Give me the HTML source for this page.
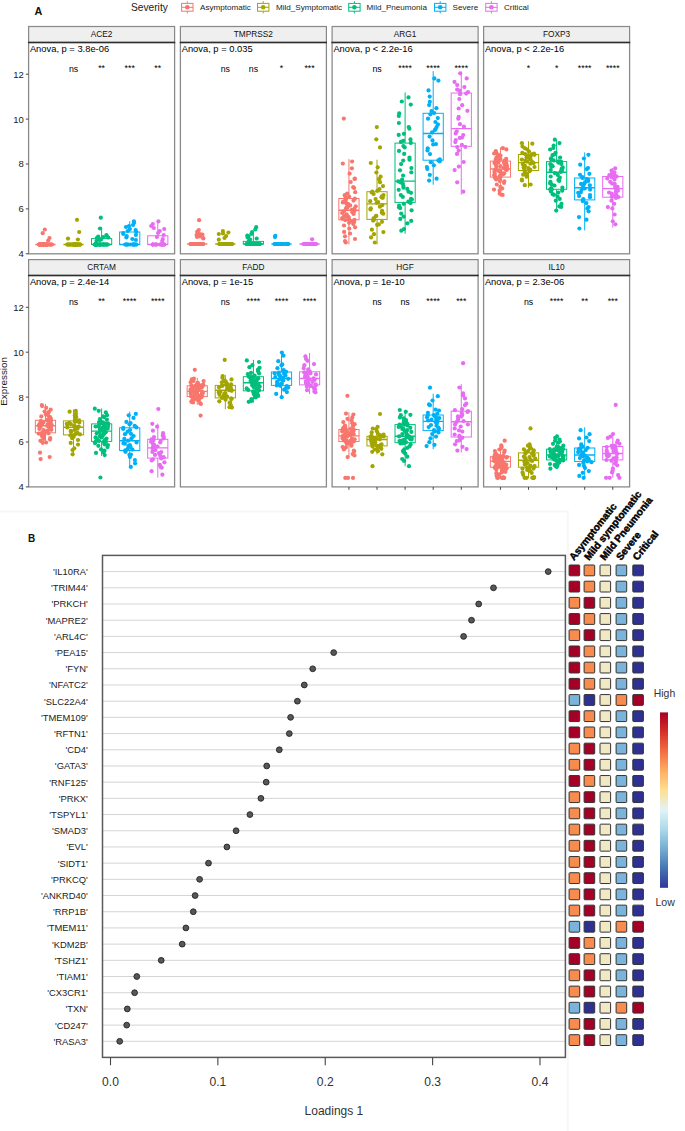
<!DOCTYPE html><html><head><meta charset="utf-8"><style>html,body{margin:0;padding:0;background:#fff;}body{width:685px;height:1131px;position:relative;overflow:hidden;font-family:'Liberation Sans', sans-serif;}</style></head><body><svg width="685" height="1131" viewBox="0 0 685 1131" style="position:absolute;left:0;top:0">
<path d="M0 511.5 H567.8 V1131" fill="none" stroke="#f7f7f7" stroke-width="2"/>
<text x="34.6" y="14.7" style="font-family:'Liberation Sans', sans-serif;font-weight:bold;font-size:10.8px" fill="#111">A</text>
<text x="131" y="11.4" style="font-family:'Liberation Sans', sans-serif;font-size:10.2px" fill="#1a1a1a">Severity</text>
<g stroke="#F8766D" stroke-width="1" fill="none"><line x1="187.29999999999998" y1="1.2" x2="187.29999999999998" y2="13.4"/><rect x="181.6" y="3.4" width="11.4" height="7.8" fill="#fff"/><line x1="181.6" y1="7.3" x2="193.0" y2="7.3"/></g><circle cx="187.29999999999998" cy="7.3" r="2.3" fill="#F8766D"/>
<text x="200.1" y="10.3" style="font-family:'Liberation Sans', sans-serif;font-size:8.1px" fill="#1a1a1a">Asymptomatic</text>
<g stroke="#A3A500" stroke-width="1" fill="none"><line x1="263.2" y1="1.2" x2="263.2" y2="13.4"/><rect x="257.5" y="3.4" width="11.4" height="7.8" fill="#fff"/><line x1="257.5" y1="7.3" x2="268.9" y2="7.3"/></g><circle cx="263.2" cy="7.3" r="2.3" fill="#A3A500"/>
<text x="275.9" y="10.3" style="font-family:'Liberation Sans', sans-serif;font-size:8.1px" fill="#1a1a1a">Mild_Symptomatic</text>
<g stroke="#00BF7D" stroke-width="1" fill="none"><line x1="354.4" y1="1.2" x2="354.4" y2="13.4"/><rect x="348.7" y="3.4" width="11.4" height="7.8" fill="#fff"/><line x1="348.7" y1="7.3" x2="360.09999999999997" y2="7.3"/></g><circle cx="354.4" cy="7.3" r="2.3" fill="#00BF7D"/>
<text x="366.6" y="10.3" style="font-family:'Liberation Sans', sans-serif;font-size:8.1px" fill="#1a1a1a">Mild_Pneumonia</text>
<g stroke="#00B0F6" stroke-width="1" fill="none"><line x1="440.2" y1="1.2" x2="440.2" y2="13.4"/><rect x="434.5" y="3.4" width="11.4" height="7.8" fill="#fff"/><line x1="434.5" y1="7.3" x2="445.9" y2="7.3"/></g><circle cx="440.2" cy="7.3" r="2.3" fill="#00B0F6"/>
<text x="452.6" y="10.3" style="font-family:'Liberation Sans', sans-serif;font-size:8.1px" fill="#1a1a1a">Severe</text>
<g stroke="#E76BF3" stroke-width="1" fill="none"><line x1="491.4" y1="1.2" x2="491.4" y2="13.4"/><rect x="485.7" y="3.4" width="11.4" height="7.8" fill="#fff"/><line x1="485.7" y1="7.3" x2="497.09999999999997" y2="7.3"/></g><circle cx="491.4" cy="7.3" r="2.3" fill="#E76BF3"/>
<text x="504.0" y="10.3" style="font-family:'Liberation Sans', sans-serif;font-size:8.1px" fill="#1a1a1a">Critical</text>
<rect x="28.6" y="26.5" width="146.0" height="16.0" fill="#efefef" stroke="#888" stroke-width="1.2"/>
<text x="101.6" y="37.1" text-anchor="middle" style="font-family:'Liberation Sans', sans-serif;font-size:8.3px" fill="#111">ACE2</text>
<rect x="28.6" y="42.5" width="146.0" height="211.3" fill="#fff"/>
<clipPath id="c00"><rect x="28.6" y="42.5" width="146.0" height="211.3"/></clipPath>
<g clip-path="url(#c00)">
<line x1="35.35" y1="244.50" x2="55.55" y2="244.50" stroke="#F8766D" stroke-width="1.6"/>
<circle cx="43.1" cy="244.5" r="2.1" fill="#F8766D"/>
<circle cx="40.7" cy="244.5" r="2.1" fill="#F8766D"/>
<circle cx="47.5" cy="244.5" r="2.1" fill="#F8766D"/>
<circle cx="39.6" cy="244.5" r="2.1" fill="#F8766D"/>
<circle cx="45.9" cy="244.5" r="2.1" fill="#F8766D"/>
<circle cx="43.6" cy="244.5" r="2.1" fill="#F8766D"/>
<circle cx="39.4" cy="244.5" r="2.1" fill="#F8766D"/>
<circle cx="45.6" cy="244.5" r="2.1" fill="#F8766D"/>
<circle cx="39.2" cy="244.5" r="2.1" fill="#F8766D"/>
<circle cx="44.5" cy="244.5" r="2.1" fill="#F8766D"/>
<circle cx="39.6" cy="244.5" r="2.1" fill="#F8766D"/>
<circle cx="39.9" cy="244.5" r="2.1" fill="#F8766D"/>
<circle cx="44.4" cy="244.5" r="2.1" fill="#F8766D"/>
<circle cx="49.9" cy="244.5" r="2.1" fill="#F8766D"/>
<circle cx="40.3" cy="244.5" r="2.1" fill="#F8766D"/>
<circle cx="41.7" cy="244.5" r="2.1" fill="#F8766D"/>
<circle cx="47.2" cy="244.5" r="2.1" fill="#F8766D"/>
<circle cx="51.5" cy="244.5" r="2.1" fill="#F8766D"/>
<circle cx="46.5" cy="244.5" r="2.1" fill="#F8766D"/>
<circle cx="44.0" cy="244.5" r="2.1" fill="#F8766D"/>
<circle cx="51.9" cy="244.5" r="2.1" fill="#F8766D"/>
<circle cx="39.3" cy="244.5" r="2.1" fill="#F8766D"/>
<circle cx="50.3" cy="244.5" r="2.1" fill="#F8766D"/>
<circle cx="42.6" cy="244.5" r="2.1" fill="#F8766D"/>
<circle cx="40.6" cy="244.5" r="2.1" fill="#F8766D"/>
<circle cx="40.3" cy="244.5" r="2.1" fill="#F8766D"/>
<circle cx="42.8" cy="244.5" r="2.1" fill="#F8766D"/>
<circle cx="49.7" cy="244.5" r="2.1" fill="#F8766D"/>
<circle cx="41.1" cy="244.5" r="2.1" fill="#F8766D"/>
<circle cx="46.6" cy="244.5" r="2.1" fill="#F8766D"/>
<circle cx="47.3" cy="244.5" r="2.1" fill="#F8766D"/>
<circle cx="43.7" cy="244.5" r="2.1" fill="#F8766D"/>
<circle cx="46.1" cy="244.5" r="2.1" fill="#F8766D"/>
<circle cx="39.5" cy="244.5" r="2.1" fill="#F8766D"/>
<circle cx="39.5" cy="244.5" r="2.1" fill="#F8766D"/>
<circle cx="41.5" cy="244.5" r="2.1" fill="#F8766D"/>
<circle cx="47.9" cy="244.5" r="2.1" fill="#F8766D"/>
<circle cx="44.5" cy="244.5" r="2.1" fill="#F8766D"/>
<circle cx="42.9" cy="244.5" r="2.1" fill="#F8766D"/>
<circle cx="46.6" cy="244.5" r="2.1" fill="#F8766D"/>
<circle cx="44.8" cy="229.5" r="2.1" fill="#F8766D"/>
<circle cx="42.7" cy="233.2" r="2.1" fill="#F8766D"/>
<circle cx="49.5" cy="238.0" r="2.1" fill="#F8766D"/>
<circle cx="48.2" cy="240.5" r="2.1" fill="#F8766D"/>
<line x1="63.43" y1="244.50" x2="83.63" y2="244.50" stroke="#A3A500" stroke-width="1.6"/>
<circle cx="70.0" cy="244.5" r="2.1" fill="#A3A500"/>
<circle cx="74.5" cy="244.5" r="2.1" fill="#A3A500"/>
<circle cx="73.9" cy="244.5" r="2.1" fill="#A3A500"/>
<circle cx="78.6" cy="244.5" r="2.1" fill="#A3A500"/>
<circle cx="76.7" cy="244.5" r="2.1" fill="#A3A500"/>
<circle cx="70.6" cy="244.5" r="2.1" fill="#A3A500"/>
<circle cx="80.1" cy="244.5" r="2.1" fill="#A3A500"/>
<circle cx="68.3" cy="244.5" r="2.1" fill="#A3A500"/>
<circle cx="72.4" cy="244.5" r="2.1" fill="#A3A500"/>
<circle cx="77.0" cy="244.5" r="2.1" fill="#A3A500"/>
<circle cx="68.8" cy="244.5" r="2.1" fill="#A3A500"/>
<circle cx="73.4" cy="244.5" r="2.1" fill="#A3A500"/>
<circle cx="67.3" cy="244.5" r="2.1" fill="#A3A500"/>
<circle cx="75.8" cy="244.5" r="2.1" fill="#A3A500"/>
<circle cx="77.1" cy="244.5" r="2.1" fill="#A3A500"/>
<circle cx="74.5" cy="244.5" r="2.1" fill="#A3A500"/>
<circle cx="78.6" cy="244.5" r="2.1" fill="#A3A500"/>
<circle cx="71.0" cy="244.5" r="2.1" fill="#A3A500"/>
<circle cx="76.2" cy="244.5" r="2.1" fill="#A3A500"/>
<circle cx="74.8" cy="244.5" r="2.1" fill="#A3A500"/>
<circle cx="74.6" cy="244.5" r="2.1" fill="#A3A500"/>
<circle cx="72.9" cy="244.5" r="2.1" fill="#A3A500"/>
<circle cx="78.2" cy="244.5" r="2.1" fill="#A3A500"/>
<circle cx="79.6" cy="244.5" r="2.1" fill="#A3A500"/>
<circle cx="73.2" cy="244.5" r="2.1" fill="#A3A500"/>
<circle cx="75.8" cy="244.5" r="2.1" fill="#A3A500"/>
<circle cx="67.6" cy="244.5" r="2.1" fill="#A3A500"/>
<circle cx="76.3" cy="244.5" r="2.1" fill="#A3A500"/>
<circle cx="75.5" cy="244.5" r="2.1" fill="#A3A500"/>
<circle cx="80.2" cy="244.5" r="2.1" fill="#A3A500"/>
<circle cx="68.0" cy="238.6" r="2.1" fill="#A3A500"/>
<circle cx="79.2" cy="232.0" r="2.1" fill="#A3A500"/>
<circle cx="77.0" cy="219.8" r="2.1" fill="#A3A500"/>
<circle cx="77.9" cy="239.5" r="2.1" fill="#A3A500"/>
<line x1="101.61" y1="227.00" x2="101.61" y2="238.60" stroke="#00BF7D" stroke-width="1"/>
<line x1="101.61" y1="244.50" x2="101.61" y2="244.50" stroke="#00BF7D" stroke-width="1"/>
<rect x="91.51" y="238.60" width="20.20" height="5.90" fill="#fff" stroke="#00BF7D" stroke-width="1"/>
<line x1="91.51" y1="244.50" x2="111.71" y2="244.50" stroke="#00BF7D" stroke-width="1.4"/>
<circle cx="98.4" cy="244.5" r="2.1" fill="#00BF7D"/>
<circle cx="94.9" cy="244.5" r="2.1" fill="#00BF7D"/>
<circle cx="100.5" cy="244.5" r="2.1" fill="#00BF7D"/>
<circle cx="99.8" cy="244.5" r="2.1" fill="#00BF7D"/>
<circle cx="102.5" cy="244.5" r="2.1" fill="#00BF7D"/>
<circle cx="107.8" cy="244.5" r="2.1" fill="#00BF7D"/>
<circle cx="104.2" cy="244.5" r="2.1" fill="#00BF7D"/>
<circle cx="101.8" cy="244.5" r="2.1" fill="#00BF7D"/>
<circle cx="103.2" cy="244.5" r="2.1" fill="#00BF7D"/>
<circle cx="104.0" cy="244.5" r="2.1" fill="#00BF7D"/>
<circle cx="95.5" cy="244.5" r="2.1" fill="#00BF7D"/>
<circle cx="107.0" cy="244.5" r="2.1" fill="#00BF7D"/>
<circle cx="105.4" cy="244.5" r="2.1" fill="#00BF7D"/>
<circle cx="106.7" cy="244.5" r="2.1" fill="#00BF7D"/>
<circle cx="105.7" cy="244.5" r="2.1" fill="#00BF7D"/>
<circle cx="100.1" cy="244.5" r="2.1" fill="#00BF7D"/>
<circle cx="100.2" cy="244.5" r="2.1" fill="#00BF7D"/>
<circle cx="96.2" cy="244.5" r="2.1" fill="#00BF7D"/>
<circle cx="103.4" cy="244.5" r="2.1" fill="#00BF7D"/>
<circle cx="95.7" cy="244.5" r="2.1" fill="#00BF7D"/>
<circle cx="95.7" cy="244.5" r="2.1" fill="#00BF7D"/>
<circle cx="97.6" cy="244.5" r="2.1" fill="#00BF7D"/>
<circle cx="97.0" cy="244.5" r="2.1" fill="#00BF7D"/>
<circle cx="99.4" cy="244.5" r="2.1" fill="#00BF7D"/>
<circle cx="95.5" cy="244.5" r="2.1" fill="#00BF7D"/>
<circle cx="94.8" cy="244.5" r="2.1" fill="#00BF7D"/>
<circle cx="96.9" cy="244.5" r="2.1" fill="#00BF7D"/>
<circle cx="96.2" cy="244.5" r="2.1" fill="#00BF7D"/>
<circle cx="99.8" cy="244.5" r="2.1" fill="#00BF7D"/>
<circle cx="95.2" cy="244.5" r="2.1" fill="#00BF7D"/>
<circle cx="100.8" cy="217.7" r="2.1" fill="#00BF7D"/>
<circle cx="100.0" cy="228.5" r="2.1" fill="#00BF7D"/>
<circle cx="106.7" cy="236.0" r="2.1" fill="#00BF7D"/>
<circle cx="103.2" cy="237.0" r="2.1" fill="#00BF7D"/>
<circle cx="96.8" cy="238.0" r="2.1" fill="#00BF7D"/>
<circle cx="98.2" cy="236.5" r="2.1" fill="#00BF7D"/>
<circle cx="99.5" cy="239.0" r="2.1" fill="#00BF7D"/>
<circle cx="99.8" cy="240.0" r="2.1" fill="#00BF7D"/>
<circle cx="96.5" cy="241.0" r="2.1" fill="#00BF7D"/>
<circle cx="106.4" cy="235.0" r="2.1" fill="#00BF7D"/>
<circle cx="108.3" cy="237.5" r="2.1" fill="#00BF7D"/>
<circle cx="101.1" cy="239.5" r="2.1" fill="#00BF7D"/>
<line x1="129.69" y1="221.30" x2="129.69" y2="232.00" stroke="#00B0F6" stroke-width="1"/>
<line x1="129.69" y1="244.50" x2="129.69" y2="244.50" stroke="#00B0F6" stroke-width="1"/>
<rect x="119.59" y="232.00" width="20.20" height="12.50" fill="#fff" stroke="#00B0F6" stroke-width="1"/>
<line x1="119.59" y1="244.50" x2="139.79" y2="244.50" stroke="#00B0F6" stroke-width="1.4"/>
<circle cx="136.2" cy="244.5" r="2.1" fill="#00B0F6"/>
<circle cx="134.6" cy="244.5" r="2.1" fill="#00B0F6"/>
<circle cx="132.4" cy="244.5" r="2.1" fill="#00B0F6"/>
<circle cx="126.4" cy="244.5" r="2.1" fill="#00B0F6"/>
<circle cx="127.9" cy="244.5" r="2.1" fill="#00B0F6"/>
<circle cx="125.2" cy="244.5" r="2.1" fill="#00B0F6"/>
<circle cx="133.4" cy="244.5" r="2.1" fill="#00B0F6"/>
<circle cx="130.1" cy="244.5" r="2.1" fill="#00B0F6"/>
<circle cx="133.5" cy="244.5" r="2.1" fill="#00B0F6"/>
<circle cx="127.4" cy="244.5" r="2.1" fill="#00B0F6"/>
<circle cx="125.9" cy="244.5" r="2.1" fill="#00B0F6"/>
<circle cx="133.9" cy="244.5" r="2.1" fill="#00B0F6"/>
<circle cx="136.3" cy="244.5" r="2.1" fill="#00B0F6"/>
<circle cx="134.5" cy="244.5" r="2.1" fill="#00B0F6"/>
<circle cx="133.9" cy="221.3" r="2.1" fill="#00B0F6"/>
<circle cx="134.0" cy="223.0" r="2.1" fill="#00B0F6"/>
<circle cx="133.0" cy="225.0" r="2.1" fill="#00B0F6"/>
<circle cx="126.0" cy="227.0" r="2.1" fill="#00B0F6"/>
<circle cx="129.9" cy="229.0" r="2.1" fill="#00B0F6"/>
<circle cx="127.7" cy="231.0" r="2.1" fill="#00B0F6"/>
<circle cx="123.3" cy="233.0" r="2.1" fill="#00B0F6"/>
<circle cx="123.3" cy="234.0" r="2.1" fill="#00B0F6"/>
<circle cx="126.7" cy="236.0" r="2.1" fill="#00B0F6"/>
<circle cx="126.4" cy="237.5" r="2.1" fill="#00B0F6"/>
<circle cx="132.3" cy="239.0" r="2.1" fill="#00B0F6"/>
<circle cx="135.9" cy="240.0" r="2.1" fill="#00B0F6"/>
<circle cx="129.0" cy="226.0" r="2.1" fill="#00B0F6"/>
<circle cx="135.6" cy="230.0" r="2.1" fill="#00B0F6"/>
<circle cx="136.3" cy="232.0" r="2.1" fill="#00B0F6"/>
<circle cx="135.9" cy="235.0" r="2.1" fill="#00B0F6"/>
<line x1="157.77" y1="221.30" x2="157.77" y2="235.80" stroke="#E76BF3" stroke-width="1"/>
<line x1="157.77" y1="244.50" x2="157.77" y2="244.50" stroke="#E76BF3" stroke-width="1"/>
<rect x="147.67" y="235.80" width="20.20" height="8.70" fill="#fff" stroke="#E76BF3" stroke-width="1"/>
<line x1="147.67" y1="244.50" x2="167.87" y2="244.50" stroke="#E76BF3" stroke-width="1.4"/>
<circle cx="161.7" cy="244.5" r="2.1" fill="#E76BF3"/>
<circle cx="155.5" cy="244.5" r="2.1" fill="#E76BF3"/>
<circle cx="161.9" cy="244.5" r="2.1" fill="#E76BF3"/>
<circle cx="164.2" cy="244.5" r="2.1" fill="#E76BF3"/>
<circle cx="156.4" cy="244.5" r="2.1" fill="#E76BF3"/>
<circle cx="156.4" cy="244.5" r="2.1" fill="#E76BF3"/>
<circle cx="163.8" cy="244.5" r="2.1" fill="#E76BF3"/>
<circle cx="160.8" cy="244.5" r="2.1" fill="#E76BF3"/>
<circle cx="153.3" cy="244.5" r="2.1" fill="#E76BF3"/>
<circle cx="152.7" cy="244.5" r="2.1" fill="#E76BF3"/>
<circle cx="153.0" cy="244.5" r="2.1" fill="#E76BF3"/>
<circle cx="163.3" cy="244.5" r="2.1" fill="#E76BF3"/>
<circle cx="161.9" cy="244.5" r="2.1" fill="#E76BF3"/>
<circle cx="153.0" cy="244.5" r="2.1" fill="#E76BF3"/>
<circle cx="162.2" cy="244.5" r="2.1" fill="#E76BF3"/>
<circle cx="164.3" cy="244.5" r="2.1" fill="#E76BF3"/>
<circle cx="159.9" cy="244.5" r="2.1" fill="#E76BF3"/>
<circle cx="155.7" cy="244.5" r="2.1" fill="#E76BF3"/>
<circle cx="158.4" cy="221.3" r="2.1" fill="#E76BF3"/>
<circle cx="152.8" cy="224.0" r="2.1" fill="#E76BF3"/>
<circle cx="151.2" cy="226.0" r="2.1" fill="#E76BF3"/>
<circle cx="164.2" cy="229.0" r="2.1" fill="#E76BF3"/>
<circle cx="159.8" cy="231.0" r="2.1" fill="#E76BF3"/>
<circle cx="158.1" cy="233.0" r="2.1" fill="#E76BF3"/>
<circle cx="163.7" cy="235.0" r="2.1" fill="#E76BF3"/>
<circle cx="156.9" cy="237.0" r="2.1" fill="#E76BF3"/>
<circle cx="162.8" cy="239.0" r="2.1" fill="#E76BF3"/>
<circle cx="162.2" cy="241.0" r="2.1" fill="#E76BF3"/>
<circle cx="153.8" cy="228.0" r="2.1" fill="#E76BF3"/>
</g>
<rect x="28.6" y="42.5" width="146.0" height="211.3" fill="none" stroke="#8a8a8a" stroke-width="1.3"/>
<line x1="28.0" y1="42.5" x2="175.2" y2="42.5" stroke="#2e2e2e" stroke-width="1.4"/>
<text x="29.900000000000002" y="52.3" style="font-family:'Liberation Sans', sans-serif;font-size:9.35px" fill="#000">Anova, p = 3.8e-06</text>
<text x="73.53" y="71.80" text-anchor="middle" style="font-family:'Liberation Sans', sans-serif;font-size:8.8px" fill="#000">ns</text>
<text x="101.61" y="70.80" text-anchor="middle" style="font-family:'Liberation Sans', sans-serif;font-size:8.8px" fill="#000">**</text>
<text x="129.69" y="70.80" text-anchor="middle" style="font-family:'Liberation Sans', sans-serif;font-size:8.8px" fill="#000">***</text>
<text x="157.77" y="70.80" text-anchor="middle" style="font-family:'Liberation Sans', sans-serif;font-size:8.8px" fill="#000">**</text>
<rect x="180.4" y="26.5" width="146.0" height="16.0" fill="#efefef" stroke="#888" stroke-width="1.2"/>
<text x="253.39999999999998" y="37.1" text-anchor="middle" style="font-family:'Liberation Sans', sans-serif;font-size:8.3px" fill="#111">TMPRSS2</text>
<rect x="180.4" y="42.5" width="146.0" height="211.3" fill="#fff"/>
<clipPath id="c10"><rect x="180.4" y="42.5" width="146.0" height="211.3"/></clipPath>
<g clip-path="url(#c10)">
<line x1="187.15" y1="244.00" x2="207.35" y2="244.00" stroke="#F8766D" stroke-width="1.6"/>
<circle cx="193.9" cy="244.0" r="2.1" fill="#F8766D"/>
<circle cx="194.4" cy="244.0" r="2.1" fill="#F8766D"/>
<circle cx="193.7" cy="244.0" r="2.1" fill="#F8766D"/>
<circle cx="198.4" cy="244.0" r="2.1" fill="#F8766D"/>
<circle cx="194.0" cy="244.0" r="2.1" fill="#F8766D"/>
<circle cx="196.1" cy="244.0" r="2.1" fill="#F8766D"/>
<circle cx="192.2" cy="244.0" r="2.1" fill="#F8766D"/>
<circle cx="202.8" cy="244.0" r="2.1" fill="#F8766D"/>
<circle cx="195.3" cy="244.0" r="2.1" fill="#F8766D"/>
<circle cx="196.7" cy="244.0" r="2.1" fill="#F8766D"/>
<circle cx="198.4" cy="244.0" r="2.1" fill="#F8766D"/>
<circle cx="202.7" cy="244.0" r="2.1" fill="#F8766D"/>
<circle cx="196.2" cy="244.0" r="2.1" fill="#F8766D"/>
<circle cx="202.9" cy="244.0" r="2.1" fill="#F8766D"/>
<circle cx="197.3" cy="244.0" r="2.1" fill="#F8766D"/>
<circle cx="197.7" cy="244.0" r="2.1" fill="#F8766D"/>
<circle cx="197.6" cy="244.0" r="2.1" fill="#F8766D"/>
<circle cx="190.7" cy="244.0" r="2.1" fill="#F8766D"/>
<circle cx="196.4" cy="244.0" r="2.1" fill="#F8766D"/>
<circle cx="192.9" cy="244.0" r="2.1" fill="#F8766D"/>
<circle cx="190.5" cy="244.0" r="2.1" fill="#F8766D"/>
<circle cx="201.3" cy="244.0" r="2.1" fill="#F8766D"/>
<circle cx="192.8" cy="244.0" r="2.1" fill="#F8766D"/>
<circle cx="196.9" cy="244.0" r="2.1" fill="#F8766D"/>
<circle cx="200.3" cy="244.0" r="2.1" fill="#F8766D"/>
<circle cx="198.0" cy="244.0" r="2.1" fill="#F8766D"/>
<circle cx="194.9" cy="244.0" r="2.1" fill="#F8766D"/>
<circle cx="197.5" cy="244.0" r="2.1" fill="#F8766D"/>
<circle cx="198.0" cy="244.0" r="2.1" fill="#F8766D"/>
<circle cx="201.1" cy="244.0" r="2.1" fill="#F8766D"/>
<circle cx="191.9" cy="244.0" r="2.1" fill="#F8766D"/>
<circle cx="198.1" cy="244.0" r="2.1" fill="#F8766D"/>
<circle cx="193.8" cy="244.0" r="2.1" fill="#F8766D"/>
<circle cx="194.2" cy="244.0" r="2.1" fill="#F8766D"/>
<circle cx="201.0" cy="244.0" r="2.1" fill="#F8766D"/>
<circle cx="197.4" cy="244.0" r="2.1" fill="#F8766D"/>
<circle cx="198.1" cy="244.0" r="2.1" fill="#F8766D"/>
<circle cx="200.8" cy="244.0" r="2.1" fill="#F8766D"/>
<circle cx="202.9" cy="244.0" r="2.1" fill="#F8766D"/>
<circle cx="196.5" cy="244.0" r="2.1" fill="#F8766D"/>
<circle cx="199.1" cy="220.2" r="2.1" fill="#F8766D"/>
<circle cx="198.8" cy="230.0" r="2.1" fill="#F8766D"/>
<circle cx="197.3" cy="231.5" r="2.1" fill="#F8766D"/>
<circle cx="197.4" cy="233.0" r="2.1" fill="#F8766D"/>
<circle cx="199.9" cy="234.0" r="2.1" fill="#F8766D"/>
<circle cx="196.6" cy="235.0" r="2.1" fill="#F8766D"/>
<circle cx="197.7" cy="236.0" r="2.1" fill="#F8766D"/>
<circle cx="197.0" cy="237.0" r="2.1" fill="#F8766D"/>
<circle cx="203.3" cy="238.0" r="2.1" fill="#F8766D"/>
<circle cx="200.0" cy="236.5" r="2.1" fill="#F8766D"/>
<circle cx="202.4" cy="234.5" r="2.1" fill="#F8766D"/>
<circle cx="203.3" cy="238.5" r="2.1" fill="#F8766D"/>
<line x1="215.23" y1="244.00" x2="235.43" y2="244.00" stroke="#A3A500" stroke-width="1.6"/>
<circle cx="222.1" cy="244.0" r="2.1" fill="#A3A500"/>
<circle cx="226.1" cy="244.0" r="2.1" fill="#A3A500"/>
<circle cx="231.4" cy="244.0" r="2.1" fill="#A3A500"/>
<circle cx="230.0" cy="244.0" r="2.1" fill="#A3A500"/>
<circle cx="220.4" cy="244.0" r="2.1" fill="#A3A500"/>
<circle cx="220.2" cy="244.0" r="2.1" fill="#A3A500"/>
<circle cx="224.5" cy="244.0" r="2.1" fill="#A3A500"/>
<circle cx="219.5" cy="244.0" r="2.1" fill="#A3A500"/>
<circle cx="221.8" cy="244.0" r="2.1" fill="#A3A500"/>
<circle cx="219.5" cy="244.0" r="2.1" fill="#A3A500"/>
<circle cx="227.6" cy="244.0" r="2.1" fill="#A3A500"/>
<circle cx="229.2" cy="244.0" r="2.1" fill="#A3A500"/>
<circle cx="230.7" cy="244.0" r="2.1" fill="#A3A500"/>
<circle cx="220.6" cy="244.0" r="2.1" fill="#A3A500"/>
<circle cx="228.3" cy="244.0" r="2.1" fill="#A3A500"/>
<circle cx="227.5" cy="244.0" r="2.1" fill="#A3A500"/>
<circle cx="220.5" cy="244.0" r="2.1" fill="#A3A500"/>
<circle cx="230.5" cy="244.0" r="2.1" fill="#A3A500"/>
<circle cx="231.7" cy="244.0" r="2.1" fill="#A3A500"/>
<circle cx="221.5" cy="244.0" r="2.1" fill="#A3A500"/>
<circle cx="231.5" cy="244.0" r="2.1" fill="#A3A500"/>
<circle cx="223.9" cy="244.0" r="2.1" fill="#A3A500"/>
<circle cx="225.2" cy="244.0" r="2.1" fill="#A3A500"/>
<circle cx="232.0" cy="244.0" r="2.1" fill="#A3A500"/>
<circle cx="229.9" cy="244.0" r="2.1" fill="#A3A500"/>
<circle cx="220.7" cy="244.0" r="2.1" fill="#A3A500"/>
<circle cx="224.4" cy="244.0" r="2.1" fill="#A3A500"/>
<circle cx="225.5" cy="244.0" r="2.1" fill="#A3A500"/>
<circle cx="223.1" cy="244.0" r="2.1" fill="#A3A500"/>
<circle cx="221.2" cy="244.0" r="2.1" fill="#A3A500"/>
<circle cx="222.9" cy="231.0" r="2.1" fill="#A3A500"/>
<circle cx="228.4" cy="232.5" r="2.1" fill="#A3A500"/>
<circle cx="218.8" cy="234.0" r="2.1" fill="#A3A500"/>
<circle cx="226.1" cy="236.0" r="2.1" fill="#A3A500"/>
<circle cx="224.5" cy="238.0" r="2.1" fill="#A3A500"/>
<circle cx="218.8" cy="239.7" r="2.1" fill="#A3A500"/>
<circle cx="223.0" cy="233.5" r="2.1" fill="#A3A500"/>
<line x1="253.41" y1="233.00" x2="253.41" y2="241.40" stroke="#00BF7D" stroke-width="1"/>
<line x1="253.41" y1="244.00" x2="253.41" y2="244.00" stroke="#00BF7D" stroke-width="1"/>
<rect x="243.31" y="241.40" width="20.20" height="2.60" fill="#fff" stroke="#00BF7D" stroke-width="1"/>
<line x1="243.31" y1="244.00" x2="263.51" y2="244.00" stroke="#00BF7D" stroke-width="1.4"/>
<circle cx="259.2" cy="244.0" r="2.1" fill="#00BF7D"/>
<circle cx="250.3" cy="244.0" r="2.1" fill="#00BF7D"/>
<circle cx="248.4" cy="244.0" r="2.1" fill="#00BF7D"/>
<circle cx="253.8" cy="244.0" r="2.1" fill="#00BF7D"/>
<circle cx="249.9" cy="244.0" r="2.1" fill="#00BF7D"/>
<circle cx="248.1" cy="244.0" r="2.1" fill="#00BF7D"/>
<circle cx="248.8" cy="244.0" r="2.1" fill="#00BF7D"/>
<circle cx="247.3" cy="244.0" r="2.1" fill="#00BF7D"/>
<circle cx="249.4" cy="244.0" r="2.1" fill="#00BF7D"/>
<circle cx="250.9" cy="244.0" r="2.1" fill="#00BF7D"/>
<circle cx="250.8" cy="244.0" r="2.1" fill="#00BF7D"/>
<circle cx="256.9" cy="244.0" r="2.1" fill="#00BF7D"/>
<circle cx="250.6" cy="244.0" r="2.1" fill="#00BF7D"/>
<circle cx="253.4" cy="244.0" r="2.1" fill="#00BF7D"/>
<circle cx="249.0" cy="244.0" r="2.1" fill="#00BF7D"/>
<circle cx="251.3" cy="244.0" r="2.1" fill="#00BF7D"/>
<circle cx="246.9" cy="244.0" r="2.1" fill="#00BF7D"/>
<circle cx="250.0" cy="244.0" r="2.1" fill="#00BF7D"/>
<circle cx="246.8" cy="244.0" r="2.1" fill="#00BF7D"/>
<circle cx="256.6" cy="244.0" r="2.1" fill="#00BF7D"/>
<circle cx="254.1" cy="244.0" r="2.1" fill="#00BF7D"/>
<circle cx="249.2" cy="244.0" r="2.1" fill="#00BF7D"/>
<circle cx="253.1" cy="244.0" r="2.1" fill="#00BF7D"/>
<circle cx="259.3" cy="244.0" r="2.1" fill="#00BF7D"/>
<circle cx="248.1" cy="244.0" r="2.1" fill="#00BF7D"/>
<circle cx="257.7" cy="244.0" r="2.1" fill="#00BF7D"/>
<circle cx="252.5" cy="244.0" r="2.1" fill="#00BF7D"/>
<circle cx="253.3" cy="244.0" r="2.1" fill="#00BF7D"/>
<circle cx="258.0" cy="244.0" r="2.1" fill="#00BF7D"/>
<circle cx="252.0" cy="244.0" r="2.1" fill="#00BF7D"/>
<circle cx="253.5" cy="244.0" r="2.1" fill="#00BF7D"/>
<circle cx="256.0" cy="244.0" r="2.1" fill="#00BF7D"/>
<circle cx="260.0" cy="244.0" r="2.1" fill="#00BF7D"/>
<circle cx="251.3" cy="244.0" r="2.1" fill="#00BF7D"/>
<circle cx="257.9" cy="244.0" r="2.1" fill="#00BF7D"/>
<circle cx="256.2" cy="227.2" r="2.1" fill="#00BF7D"/>
<circle cx="255.3" cy="229.5" r="2.1" fill="#00BF7D"/>
<circle cx="252.1" cy="232.0" r="2.1" fill="#00BF7D"/>
<circle cx="251.3" cy="234.0" r="2.1" fill="#00BF7D"/>
<circle cx="247.3" cy="235.5" r="2.1" fill="#00BF7D"/>
<circle cx="248.4" cy="236.5" r="2.1" fill="#00BF7D"/>
<circle cx="247.6" cy="237.5" r="2.1" fill="#00BF7D"/>
<circle cx="256.7" cy="238.5" r="2.1" fill="#00BF7D"/>
<circle cx="250.1" cy="239.5" r="2.1" fill="#00BF7D"/>
<circle cx="248.8" cy="241.0" r="2.1" fill="#00BF7D"/>
<line x1="271.39" y1="244.00" x2="291.59" y2="244.00" stroke="#00B0F6" stroke-width="1.6"/>
<circle cx="275.8" cy="244.0" r="2.1" fill="#00B0F6"/>
<circle cx="286.1" cy="244.0" r="2.1" fill="#00B0F6"/>
<circle cx="286.5" cy="244.0" r="2.1" fill="#00B0F6"/>
<circle cx="283.8" cy="244.0" r="2.1" fill="#00B0F6"/>
<circle cx="278.5" cy="244.0" r="2.1" fill="#00B0F6"/>
<circle cx="278.0" cy="244.0" r="2.1" fill="#00B0F6"/>
<circle cx="278.7" cy="244.0" r="2.1" fill="#00B0F6"/>
<circle cx="280.9" cy="244.0" r="2.1" fill="#00B0F6"/>
<circle cx="276.8" cy="244.0" r="2.1" fill="#00B0F6"/>
<circle cx="280.8" cy="244.0" r="2.1" fill="#00B0F6"/>
<circle cx="278.3" cy="244.0" r="2.1" fill="#00B0F6"/>
<circle cx="287.8" cy="244.0" r="2.1" fill="#00B0F6"/>
<circle cx="287.9" cy="244.0" r="2.1" fill="#00B0F6"/>
<circle cx="282.1" cy="244.0" r="2.1" fill="#00B0F6"/>
<circle cx="278.0" cy="244.0" r="2.1" fill="#00B0F6"/>
<circle cx="287.8" cy="244.0" r="2.1" fill="#00B0F6"/>
<circle cx="278.9" cy="244.0" r="2.1" fill="#00B0F6"/>
<circle cx="279.5" cy="244.0" r="2.1" fill="#00B0F6"/>
<circle cx="274.7" cy="244.0" r="2.1" fill="#00B0F6"/>
<circle cx="279.9" cy="244.0" r="2.1" fill="#00B0F6"/>
<circle cx="281.1" cy="244.0" r="2.1" fill="#00B0F6"/>
<circle cx="281.5" cy="244.0" r="2.1" fill="#00B0F6"/>
<circle cx="277.4" cy="244.0" r="2.1" fill="#00B0F6"/>
<circle cx="281.6" cy="244.0" r="2.1" fill="#00B0F6"/>
<circle cx="274.8" cy="244.0" r="2.1" fill="#00B0F6"/>
<circle cx="278.3" cy="244.0" r="2.1" fill="#00B0F6"/>
<circle cx="275.9" cy="244.0" r="2.1" fill="#00B0F6"/>
<circle cx="280.1" cy="244.0" r="2.1" fill="#00B0F6"/>
<circle cx="275.3" cy="235.8" r="2.1" fill="#00B0F6"/>
<circle cx="275.0" cy="237.1" r="2.1" fill="#00B0F6"/>
<line x1="299.47" y1="244.00" x2="319.67" y2="244.00" stroke="#E76BF3" stroke-width="1.6"/>
<circle cx="306.9" cy="244.0" r="2.1" fill="#E76BF3"/>
<circle cx="305.9" cy="244.0" r="2.1" fill="#E76BF3"/>
<circle cx="310.7" cy="244.0" r="2.1" fill="#E76BF3"/>
<circle cx="310.0" cy="244.0" r="2.1" fill="#E76BF3"/>
<circle cx="313.0" cy="244.0" r="2.1" fill="#E76BF3"/>
<circle cx="311.7" cy="244.0" r="2.1" fill="#E76BF3"/>
<circle cx="312.5" cy="244.0" r="2.1" fill="#E76BF3"/>
<circle cx="314.7" cy="244.0" r="2.1" fill="#E76BF3"/>
<circle cx="308.1" cy="244.0" r="2.1" fill="#E76BF3"/>
<circle cx="307.2" cy="244.0" r="2.1" fill="#E76BF3"/>
<circle cx="316.2" cy="244.0" r="2.1" fill="#E76BF3"/>
<circle cx="304.8" cy="244.0" r="2.1" fill="#E76BF3"/>
<circle cx="312.6" cy="244.0" r="2.1" fill="#E76BF3"/>
<circle cx="311.5" cy="244.0" r="2.1" fill="#E76BF3"/>
<circle cx="303.4" cy="244.0" r="2.1" fill="#E76BF3"/>
<circle cx="314.1" cy="244.0" r="2.1" fill="#E76BF3"/>
<circle cx="314.9" cy="244.0" r="2.1" fill="#E76BF3"/>
<circle cx="311.3" cy="244.0" r="2.1" fill="#E76BF3"/>
<circle cx="312.8" cy="244.0" r="2.1" fill="#E76BF3"/>
<circle cx="313.8" cy="244.0" r="2.1" fill="#E76BF3"/>
<circle cx="304.7" cy="244.0" r="2.1" fill="#E76BF3"/>
<circle cx="309.9" cy="244.0" r="2.1" fill="#E76BF3"/>
<circle cx="309.6" cy="244.0" r="2.1" fill="#E76BF3"/>
<circle cx="314.1" cy="244.0" r="2.1" fill="#E76BF3"/>
<circle cx="313.7" cy="244.0" r="2.1" fill="#E76BF3"/>
<circle cx="314.0" cy="244.0" r="2.1" fill="#E76BF3"/>
<circle cx="310.7" cy="244.0" r="2.1" fill="#E76BF3"/>
<circle cx="314.9" cy="244.0" r="2.1" fill="#E76BF3"/>
<circle cx="312.1" cy="239.3" r="2.1" fill="#E76BF3"/>
</g>
<rect x="180.4" y="42.5" width="146.0" height="211.3" fill="none" stroke="#8a8a8a" stroke-width="1.3"/>
<line x1="179.8" y1="42.5" x2="327.0" y2="42.5" stroke="#2e2e2e" stroke-width="1.4"/>
<text x="181.70000000000002" y="52.3" style="font-family:'Liberation Sans', sans-serif;font-size:9.35px" fill="#000">Anova, p = 0.035</text>
<text x="225.33" y="71.80" text-anchor="middle" style="font-family:'Liberation Sans', sans-serif;font-size:8.8px" fill="#000">ns</text>
<text x="253.41" y="71.80" text-anchor="middle" style="font-family:'Liberation Sans', sans-serif;font-size:8.8px" fill="#000">ns</text>
<text x="281.49" y="70.80" text-anchor="middle" style="font-family:'Liberation Sans', sans-serif;font-size:8.8px" fill="#000">*</text>
<text x="309.57" y="70.80" text-anchor="middle" style="font-family:'Liberation Sans', sans-serif;font-size:8.8px" fill="#000">***</text>
<rect x="332.1" y="26.5" width="146.0" height="16.0" fill="#efefef" stroke="#888" stroke-width="1.2"/>
<text x="405.1" y="37.1" text-anchor="middle" style="font-family:'Liberation Sans', sans-serif;font-size:8.3px" fill="#111">ARG1</text>
<rect x="332.1" y="42.5" width="146.0" height="211.3" fill="#fff"/>
<clipPath id="c20"><rect x="332.1" y="42.5" width="146.0" height="211.3"/></clipPath>
<g clip-path="url(#c20)">
<line x1="348.95" y1="159.10" x2="348.95" y2="198.50" stroke="#F8766D" stroke-width="1"/>
<line x1="348.95" y1="219.80" x2="348.95" y2="244.40" stroke="#F8766D" stroke-width="1"/>
<rect x="338.85" y="198.50" width="20.20" height="21.30" fill="#fff" stroke="#F8766D" stroke-width="1"/>
<line x1="338.85" y1="210.30" x2="359.05" y2="210.30" stroke="#F8766D" stroke-width="1.4"/>
<circle cx="345.8" cy="242.5" r="2.1" fill="#F8766D"/>
<circle cx="345.0" cy="241.1" r="2.1" fill="#F8766D"/>
<circle cx="355.0" cy="239.0" r="2.1" fill="#F8766D"/>
<circle cx="345.0" cy="236.3" r="2.1" fill="#F8766D"/>
<circle cx="350.1" cy="233.5" r="2.1" fill="#F8766D"/>
<circle cx="344.1" cy="231.9" r="2.1" fill="#F8766D"/>
<circle cx="349.3" cy="228.5" r="2.1" fill="#F8766D"/>
<circle cx="355.1" cy="227.3" r="2.1" fill="#F8766D"/>
<circle cx="344.0" cy="225.5" r="2.1" fill="#F8766D"/>
<circle cx="353.3" cy="224.1" r="2.1" fill="#F8766D"/>
<circle cx="349.1" cy="222.8" r="2.1" fill="#F8766D"/>
<circle cx="354.2" cy="221.9" r="2.1" fill="#F8766D"/>
<circle cx="351.7" cy="221.4" r="2.1" fill="#F8766D"/>
<circle cx="345.3" cy="220.1" r="2.1" fill="#F8766D"/>
<circle cx="354.4" cy="219.8" r="2.1" fill="#F8766D"/>
<circle cx="348.8" cy="219.5" r="2.1" fill="#F8766D"/>
<circle cx="342.5" cy="218.8" r="2.1" fill="#F8766D"/>
<circle cx="342.2" cy="218.1" r="2.1" fill="#F8766D"/>
<circle cx="348.8" cy="217.9" r="2.1" fill="#F8766D"/>
<circle cx="348.3" cy="216.8" r="2.1" fill="#F8766D"/>
<circle cx="346.3" cy="216.5" r="2.1" fill="#F8766D"/>
<circle cx="344.1" cy="216.0" r="2.1" fill="#F8766D"/>
<circle cx="346.8" cy="215.2" r="2.1" fill="#F8766D"/>
<circle cx="346.4" cy="214.3" r="2.1" fill="#F8766D"/>
<circle cx="353.6" cy="214.0" r="2.1" fill="#F8766D"/>
<circle cx="342.2" cy="213.0" r="2.1" fill="#F8766D"/>
<circle cx="352.4" cy="212.2" r="2.1" fill="#F8766D"/>
<circle cx="353.6" cy="211.9" r="2.1" fill="#F8766D"/>
<circle cx="343.8" cy="211.3" r="2.1" fill="#F8766D"/>
<circle cx="354.7" cy="210.6" r="2.1" fill="#F8766D"/>
<circle cx="351.8" cy="209.8" r="2.1" fill="#F8766D"/>
<circle cx="354.4" cy="208.9" r="2.1" fill="#F8766D"/>
<circle cx="346.1" cy="208.2" r="2.1" fill="#F8766D"/>
<circle cx="347.2" cy="207.4" r="2.1" fill="#F8766D"/>
<circle cx="347.5" cy="207.1" r="2.1" fill="#F8766D"/>
<circle cx="355.7" cy="206.3" r="2.1" fill="#F8766D"/>
<circle cx="350.2" cy="205.4" r="2.1" fill="#F8766D"/>
<circle cx="347.1" cy="204.2" r="2.1" fill="#F8766D"/>
<circle cx="348.0" cy="203.8" r="2.1" fill="#F8766D"/>
<circle cx="345.9" cy="202.8" r="2.1" fill="#F8766D"/>
<circle cx="342.8" cy="202.4" r="2.1" fill="#F8766D"/>
<circle cx="343.5" cy="201.6" r="2.1" fill="#F8766D"/>
<circle cx="353.5" cy="200.6" r="2.1" fill="#F8766D"/>
<circle cx="346.0" cy="199.5" r="2.1" fill="#F8766D"/>
<circle cx="354.9" cy="198.7" r="2.1" fill="#F8766D"/>
<circle cx="345.5" cy="198.3" r="2.1" fill="#F8766D"/>
<circle cx="345.8" cy="197.9" r="2.1" fill="#F8766D"/>
<circle cx="349.1" cy="196.6" r="2.1" fill="#F8766D"/>
<circle cx="344.7" cy="195.2" r="2.1" fill="#F8766D"/>
<circle cx="347.2" cy="193.5" r="2.1" fill="#F8766D"/>
<circle cx="355.2" cy="192.2" r="2.1" fill="#F8766D"/>
<circle cx="354.2" cy="188.0" r="2.1" fill="#F8766D"/>
<circle cx="353.2" cy="187.2" r="2.1" fill="#F8766D"/>
<circle cx="350.7" cy="182.0" r="2.1" fill="#F8766D"/>
<circle cx="354.6" cy="178.9" r="2.1" fill="#F8766D"/>
<circle cx="354.9" cy="178.7" r="2.1" fill="#F8766D"/>
<circle cx="349.6" cy="173.6" r="2.1" fill="#F8766D"/>
<circle cx="351.9" cy="168.3" r="2.1" fill="#F8766D"/>
<circle cx="342.8" cy="163.6" r="2.1" fill="#F8766D"/>
<circle cx="352.1" cy="161.5" r="2.1" fill="#F8766D"/>
<circle cx="343.8" cy="118.6" r="2.1" fill="#F8766D"/>
<line x1="377.03" y1="159.70" x2="377.03" y2="191.70" stroke="#A3A500" stroke-width="1"/>
<line x1="377.03" y1="219.40" x2="377.03" y2="244.40" stroke="#A3A500" stroke-width="1"/>
<rect x="366.93" y="191.70" width="20.20" height="27.70" fill="#fff" stroke="#A3A500" stroke-width="1"/>
<line x1="366.93" y1="203.90" x2="387.13" y2="203.90" stroke="#A3A500" stroke-width="1.4"/>
<circle cx="374.8" cy="242.5" r="2.1" fill="#A3A500"/>
<circle cx="371.1" cy="237.4" r="2.1" fill="#A3A500"/>
<circle cx="374.0" cy="234.2" r="2.1" fill="#A3A500"/>
<circle cx="383.4" cy="232.1" r="2.1" fill="#A3A500"/>
<circle cx="371.9" cy="229.7" r="2.1" fill="#A3A500"/>
<circle cx="377.1" cy="224.8" r="2.1" fill="#A3A500"/>
<circle cx="378.8" cy="224.4" r="2.1" fill="#A3A500"/>
<circle cx="382.0" cy="221.8" r="2.1" fill="#A3A500"/>
<circle cx="373.2" cy="220.6" r="2.1" fill="#A3A500"/>
<circle cx="373.9" cy="219.7" r="2.1" fill="#A3A500"/>
<circle cx="373.6" cy="218.3" r="2.1" fill="#A3A500"/>
<circle cx="375.7" cy="216.3" r="2.1" fill="#A3A500"/>
<circle cx="376.3" cy="215.9" r="2.1" fill="#A3A500"/>
<circle cx="383.2" cy="213.7" r="2.1" fill="#A3A500"/>
<circle cx="381.8" cy="212.7" r="2.1" fill="#A3A500"/>
<circle cx="382.1" cy="210.8" r="2.1" fill="#A3A500"/>
<circle cx="370.5" cy="209.5" r="2.1" fill="#A3A500"/>
<circle cx="370.7" cy="208.3" r="2.1" fill="#A3A500"/>
<circle cx="379.9" cy="206.7" r="2.1" fill="#A3A500"/>
<circle cx="382.4" cy="205.1" r="2.1" fill="#A3A500"/>
<circle cx="376.7" cy="202.8" r="2.1" fill="#A3A500"/>
<circle cx="378.2" cy="202.1" r="2.1" fill="#A3A500"/>
<circle cx="370.2" cy="201.2" r="2.1" fill="#A3A500"/>
<circle cx="375.6" cy="199.1" r="2.1" fill="#A3A500"/>
<circle cx="382.8" cy="197.8" r="2.1" fill="#A3A500"/>
<circle cx="381.5" cy="197.3" r="2.1" fill="#A3A500"/>
<circle cx="381.9" cy="196.4" r="2.1" fill="#A3A500"/>
<circle cx="383.5" cy="195.1" r="2.1" fill="#A3A500"/>
<circle cx="373.6" cy="194.0" r="2.1" fill="#A3A500"/>
<circle cx="371.7" cy="192.5" r="2.1" fill="#A3A500"/>
<circle cx="372.3" cy="191.7" r="2.1" fill="#A3A500"/>
<circle cx="377.3" cy="190.8" r="2.1" fill="#A3A500"/>
<circle cx="379.5" cy="189.1" r="2.1" fill="#A3A500"/>
<circle cx="383.0" cy="186.1" r="2.1" fill="#A3A500"/>
<circle cx="380.0" cy="182.2" r="2.1" fill="#A3A500"/>
<circle cx="379.0" cy="179.2" r="2.1" fill="#A3A500"/>
<circle cx="380.6" cy="176.7" r="2.1" fill="#A3A500"/>
<circle cx="376.4" cy="172.5" r="2.1" fill="#A3A500"/>
<circle cx="377.7" cy="167.3" r="2.1" fill="#A3A500"/>
<circle cx="370.8" cy="163.0" r="2.1" fill="#A3A500"/>
<circle cx="380.0" cy="147.4" r="2.1" fill="#A3A500"/>
<circle cx="376.3" cy="139.3" r="2.1" fill="#A3A500"/>
<circle cx="376.8" cy="127.1" r="2.1" fill="#A3A500"/>
<line x1="405.11" y1="92.40" x2="405.11" y2="143.10" stroke="#00BF7D" stroke-width="1"/>
<line x1="405.11" y1="202.40" x2="405.11" y2="233.70" stroke="#00BF7D" stroke-width="1"/>
<rect x="395.01" y="143.10" width="20.20" height="59.30" fill="#fff" stroke="#00BF7D" stroke-width="1"/>
<line x1="395.01" y1="181.10" x2="415.21" y2="181.10" stroke="#00BF7D" stroke-width="1.4"/>
<circle cx="401.3" cy="230.7" r="2.1" fill="#00BF7D"/>
<circle cx="404.0" cy="229.1" r="2.1" fill="#00BF7D"/>
<circle cx="407.4" cy="223.3" r="2.1" fill="#00BF7D"/>
<circle cx="411.2" cy="220.9" r="2.1" fill="#00BF7D"/>
<circle cx="400.3" cy="218.9" r="2.1" fill="#00BF7D"/>
<circle cx="403.7" cy="216.6" r="2.1" fill="#00BF7D"/>
<circle cx="401.2" cy="213.6" r="2.1" fill="#00BF7D"/>
<circle cx="411.6" cy="210.3" r="2.1" fill="#00BF7D"/>
<circle cx="400.2" cy="208.1" r="2.1" fill="#00BF7D"/>
<circle cx="399.0" cy="207.3" r="2.1" fill="#00BF7D"/>
<circle cx="399.1" cy="205.7" r="2.1" fill="#00BF7D"/>
<circle cx="403.7" cy="203.8" r="2.1" fill="#00BF7D"/>
<circle cx="410.5" cy="202.9" r="2.1" fill="#00BF7D"/>
<circle cx="410.3" cy="202.5" r="2.1" fill="#00BF7D"/>
<circle cx="408.3" cy="201.7" r="2.1" fill="#00BF7D"/>
<circle cx="411.9" cy="199.5" r="2.1" fill="#00BF7D"/>
<circle cx="411.0" cy="198.9" r="2.1" fill="#00BF7D"/>
<circle cx="402.8" cy="196.9" r="2.1" fill="#00BF7D"/>
<circle cx="400.8" cy="195.1" r="2.1" fill="#00BF7D"/>
<circle cx="411.0" cy="192.8" r="2.1" fill="#00BF7D"/>
<circle cx="408.5" cy="191.7" r="2.1" fill="#00BF7D"/>
<circle cx="398.7" cy="189.8" r="2.1" fill="#00BF7D"/>
<circle cx="407.3" cy="188.9" r="2.1" fill="#00BF7D"/>
<circle cx="403.5" cy="187.7" r="2.1" fill="#00BF7D"/>
<circle cx="403.4" cy="186.1" r="2.1" fill="#00BF7D"/>
<circle cx="402.8" cy="183.5" r="2.1" fill="#00BF7D"/>
<circle cx="400.6" cy="182.3" r="2.1" fill="#00BF7D"/>
<circle cx="398.3" cy="181.4" r="2.1" fill="#00BF7D"/>
<circle cx="402.1" cy="179.7" r="2.1" fill="#00BF7D"/>
<circle cx="403.1" cy="175.6" r="2.1" fill="#00BF7D"/>
<circle cx="411.3" cy="172.3" r="2.1" fill="#00BF7D"/>
<circle cx="400.0" cy="170.3" r="2.1" fill="#00BF7D"/>
<circle cx="411.4" cy="168.0" r="2.1" fill="#00BF7D"/>
<circle cx="401.1" cy="164.1" r="2.1" fill="#00BF7D"/>
<circle cx="403.2" cy="160.6" r="2.1" fill="#00BF7D"/>
<circle cx="409.5" cy="159.7" r="2.1" fill="#00BF7D"/>
<circle cx="409.5" cy="157.5" r="2.1" fill="#00BF7D"/>
<circle cx="404.2" cy="153.9" r="2.1" fill="#00BF7D"/>
<circle cx="399.0" cy="150.9" r="2.1" fill="#00BF7D"/>
<circle cx="404.7" cy="147.4" r="2.1" fill="#00BF7D"/>
<circle cx="403.4" cy="146.0" r="2.1" fill="#00BF7D"/>
<circle cx="410.8" cy="142.9" r="2.1" fill="#00BF7D"/>
<circle cx="400.9" cy="141.9" r="2.1" fill="#00BF7D"/>
<circle cx="403.3" cy="140.8" r="2.1" fill="#00BF7D"/>
<circle cx="410.5" cy="139.4" r="2.1" fill="#00BF7D"/>
<circle cx="398.7" cy="134.9" r="2.1" fill="#00BF7D"/>
<circle cx="403.9" cy="133.8" r="2.1" fill="#00BF7D"/>
<circle cx="409.4" cy="128.7" r="2.1" fill="#00BF7D"/>
<circle cx="408.7" cy="127.1" r="2.1" fill="#00BF7D"/>
<circle cx="398.9" cy="123.0" r="2.1" fill="#00BF7D"/>
<circle cx="398.8" cy="116.0" r="2.1" fill="#00BF7D"/>
<circle cx="399.2" cy="113.4" r="2.1" fill="#00BF7D"/>
<circle cx="410.8" cy="104.6" r="2.1" fill="#00BF7D"/>
<circle cx="401.8" cy="101.5" r="2.1" fill="#00BF7D"/>
<circle cx="408.5" cy="97.4" r="2.1" fill="#00BF7D"/>
<line x1="433.19" y1="71.10" x2="433.19" y2="113.30" stroke="#00B0F6" stroke-width="1"/>
<line x1="433.19" y1="160.20" x2="433.19" y2="184.70" stroke="#00B0F6" stroke-width="1"/>
<rect x="423.09" y="113.30" width="20.20" height="46.90" fill="#fff" stroke="#00B0F6" stroke-width="1"/>
<line x1="423.09" y1="133.50" x2="443.29" y2="133.50" stroke="#00B0F6" stroke-width="1.4"/>
<circle cx="429.1" cy="180.6" r="2.1" fill="#00B0F6"/>
<circle cx="436.6" cy="178.7" r="2.1" fill="#00B0F6"/>
<circle cx="429.8" cy="174.9" r="2.1" fill="#00B0F6"/>
<circle cx="427.3" cy="169.0" r="2.1" fill="#00B0F6"/>
<circle cx="426.9" cy="167.0" r="2.1" fill="#00B0F6"/>
<circle cx="433.9" cy="165.3" r="2.1" fill="#00B0F6"/>
<circle cx="430.8" cy="162.2" r="2.1" fill="#00B0F6"/>
<circle cx="439.7" cy="161.3" r="2.1" fill="#00B0F6"/>
<circle cx="438.4" cy="160.4" r="2.1" fill="#00B0F6"/>
<circle cx="439.8" cy="159.4" r="2.1" fill="#00B0F6"/>
<circle cx="430.0" cy="154.1" r="2.1" fill="#00B0F6"/>
<circle cx="427.5" cy="150.5" r="2.1" fill="#00B0F6"/>
<circle cx="427.7" cy="148.3" r="2.1" fill="#00B0F6"/>
<circle cx="433.2" cy="144.4" r="2.1" fill="#00B0F6"/>
<circle cx="436.0" cy="144.1" r="2.1" fill="#00B0F6"/>
<circle cx="432.5" cy="140.4" r="2.1" fill="#00B0F6"/>
<circle cx="429.6" cy="136.6" r="2.1" fill="#00B0F6"/>
<circle cx="432.1" cy="132.4" r="2.1" fill="#00B0F6"/>
<circle cx="434.8" cy="130.1" r="2.1" fill="#00B0F6"/>
<circle cx="435.6" cy="129.1" r="2.1" fill="#00B0F6"/>
<circle cx="436.6" cy="127.1" r="2.1" fill="#00B0F6"/>
<circle cx="437.9" cy="124.4" r="2.1" fill="#00B0F6"/>
<circle cx="435.4" cy="122.0" r="2.1" fill="#00B0F6"/>
<circle cx="428.0" cy="118.7" r="2.1" fill="#00B0F6"/>
<circle cx="437.8" cy="118.1" r="2.1" fill="#00B0F6"/>
<circle cx="430.4" cy="114.3" r="2.1" fill="#00B0F6"/>
<circle cx="434.1" cy="113.0" r="2.1" fill="#00B0F6"/>
<circle cx="431.5" cy="111.0" r="2.1" fill="#00B0F6"/>
<circle cx="436.4" cy="108.2" r="2.1" fill="#00B0F6"/>
<circle cx="429.1" cy="105.0" r="2.1" fill="#00B0F6"/>
<circle cx="429.8" cy="101.8" r="2.1" fill="#00B0F6"/>
<circle cx="429.7" cy="96.6" r="2.1" fill="#00B0F6"/>
<circle cx="428.5" cy="90.4" r="2.1" fill="#00B0F6"/>
<circle cx="438.4" cy="80.6" r="2.1" fill="#00B0F6"/>
<circle cx="434.3" cy="78.4" r="2.1" fill="#00B0F6"/>
<line x1="461.27" y1="71.70" x2="461.27" y2="93.00" stroke="#E76BF3" stroke-width="1"/>
<line x1="461.27" y1="146.30" x2="461.27" y2="194.70" stroke="#E76BF3" stroke-width="1"/>
<rect x="451.17" y="93.00" width="20.20" height="53.30" fill="#fff" stroke="#E76BF3" stroke-width="1"/>
<line x1="451.17" y1="128.60" x2="471.37" y2="128.60" stroke="#E76BF3" stroke-width="1.4"/>
<circle cx="463.3" cy="191.7" r="2.1" fill="#E76BF3"/>
<circle cx="457.2" cy="182.3" r="2.1" fill="#E76BF3"/>
<circle cx="454.6" cy="170.1" r="2.1" fill="#E76BF3"/>
<circle cx="458.9" cy="166.6" r="2.1" fill="#E76BF3"/>
<circle cx="463.7" cy="162.0" r="2.1" fill="#E76BF3"/>
<circle cx="457.0" cy="153.9" r="2.1" fill="#E76BF3"/>
<circle cx="458.7" cy="150.6" r="2.1" fill="#E76BF3"/>
<circle cx="457.2" cy="147.1" r="2.1" fill="#E76BF3"/>
<circle cx="465.3" cy="146.9" r="2.1" fill="#E76BF3"/>
<circle cx="461.9" cy="144.8" r="2.1" fill="#E76BF3"/>
<circle cx="455.3" cy="142.1" r="2.1" fill="#E76BF3"/>
<circle cx="455.8" cy="140.0" r="2.1" fill="#E76BF3"/>
<circle cx="459.8" cy="137.9" r="2.1" fill="#E76BF3"/>
<circle cx="462.0" cy="137.6" r="2.1" fill="#E76BF3"/>
<circle cx="463.2" cy="135.1" r="2.1" fill="#E76BF3"/>
<circle cx="455.7" cy="133.4" r="2.1" fill="#E76BF3"/>
<circle cx="456.7" cy="131.3" r="2.1" fill="#E76BF3"/>
<circle cx="463.9" cy="126.7" r="2.1" fill="#E76BF3"/>
<circle cx="460.0" cy="124.2" r="2.1" fill="#E76BF3"/>
<circle cx="458.3" cy="118.7" r="2.1" fill="#E76BF3"/>
<circle cx="458.7" cy="116.9" r="2.1" fill="#E76BF3"/>
<circle cx="467.4" cy="110.8" r="2.1" fill="#E76BF3"/>
<circle cx="458.7" cy="108.5" r="2.1" fill="#E76BF3"/>
<circle cx="462.2" cy="105.2" r="2.1" fill="#E76BF3"/>
<circle cx="459.3" cy="99.0" r="2.1" fill="#E76BF3"/>
<circle cx="460.1" cy="94.2" r="2.1" fill="#E76BF3"/>
<circle cx="466.2" cy="93.6" r="2.1" fill="#E76BF3"/>
<circle cx="468.0" cy="92.1" r="2.1" fill="#E76BF3"/>
<circle cx="459.4" cy="90.7" r="2.1" fill="#E76BF3"/>
<circle cx="457.2" cy="89.6" r="2.1" fill="#E76BF3"/>
<circle cx="464.4" cy="87.1" r="2.1" fill="#E76BF3"/>
<circle cx="457.2" cy="85.1" r="2.1" fill="#E76BF3"/>
<circle cx="454.5" cy="81.9" r="2.1" fill="#E76BF3"/>
<circle cx="466.7" cy="78.4" r="2.1" fill="#E76BF3"/>
<circle cx="460.2" cy="73.3" r="2.1" fill="#E76BF3"/>
</g>
<rect x="332.1" y="42.5" width="146.0" height="211.3" fill="none" stroke="#8a8a8a" stroke-width="1.3"/>
<line x1="331.5" y1="42.5" x2="478.70000000000005" y2="42.5" stroke="#2e2e2e" stroke-width="1.4"/>
<text x="333.40000000000003" y="52.3" style="font-family:'Liberation Sans', sans-serif;font-size:9.35px" fill="#000">Anova, p < 2.2e-16</text>
<text x="377.03" y="71.80" text-anchor="middle" style="font-family:'Liberation Sans', sans-serif;font-size:8.8px" fill="#000">ns</text>
<text x="405.11" y="70.80" text-anchor="middle" style="font-family:'Liberation Sans', sans-serif;font-size:8.8px" fill="#000">****</text>
<text x="433.19" y="70.80" text-anchor="middle" style="font-family:'Liberation Sans', sans-serif;font-size:8.8px" fill="#000">****</text>
<text x="461.27" y="70.80" text-anchor="middle" style="font-family:'Liberation Sans', sans-serif;font-size:8.8px" fill="#000">****</text>
<rect x="483.6" y="26.5" width="146.0" height="16.0" fill="#efefef" stroke="#888" stroke-width="1.2"/>
<text x="556.6" y="37.1" text-anchor="middle" style="font-family:'Liberation Sans', sans-serif;font-size:8.3px" fill="#111">FOXP3</text>
<rect x="483.6" y="42.5" width="146.0" height="211.3" fill="#fff"/>
<clipPath id="c30"><rect x="483.6" y="42.5" width="146.0" height="211.3"/></clipPath>
<g clip-path="url(#c30)">
<line x1="500.45" y1="147.30" x2="500.45" y2="161.10" stroke="#F8766D" stroke-width="1"/>
<line x1="500.45" y1="177.10" x2="500.45" y2="196.70" stroke="#F8766D" stroke-width="1"/>
<rect x="490.35" y="161.10" width="20.20" height="16.00" fill="#fff" stroke="#F8766D" stroke-width="1"/>
<line x1="490.35" y1="169.00" x2="510.55" y2="169.00" stroke="#F8766D" stroke-width="1.4"/>
<circle cx="502.6" cy="194.9" r="2.1" fill="#F8766D"/>
<circle cx="499.7" cy="193.7" r="2.1" fill="#F8766D"/>
<circle cx="499.6" cy="190.7" r="2.1" fill="#F8766D"/>
<circle cx="494.0" cy="189.6" r="2.1" fill="#F8766D"/>
<circle cx="502.1" cy="188.4" r="2.1" fill="#F8766D"/>
<circle cx="500.3" cy="186.9" r="2.1" fill="#F8766D"/>
<circle cx="496.8" cy="184.5" r="2.1" fill="#F8766D"/>
<circle cx="504.0" cy="182.9" r="2.1" fill="#F8766D"/>
<circle cx="504.3" cy="181.3" r="2.1" fill="#F8766D"/>
<circle cx="499.9" cy="181.1" r="2.1" fill="#F8766D"/>
<circle cx="496.1" cy="179.5" r="2.1" fill="#F8766D"/>
<circle cx="500.1" cy="178.9" r="2.1" fill="#F8766D"/>
<circle cx="495.1" cy="178.0" r="2.1" fill="#F8766D"/>
<circle cx="495.4" cy="177.7" r="2.1" fill="#F8766D"/>
<circle cx="499.5" cy="177.2" r="2.1" fill="#F8766D"/>
<circle cx="494.9" cy="176.8" r="2.1" fill="#F8766D"/>
<circle cx="499.7" cy="176.1" r="2.1" fill="#F8766D"/>
<circle cx="500.6" cy="176.0" r="2.1" fill="#F8766D"/>
<circle cx="494.2" cy="175.2" r="2.1" fill="#F8766D"/>
<circle cx="502.3" cy="174.5" r="2.1" fill="#F8766D"/>
<circle cx="494.8" cy="173.9" r="2.1" fill="#F8766D"/>
<circle cx="503.6" cy="173.8" r="2.1" fill="#F8766D"/>
<circle cx="504.2" cy="173.3" r="2.1" fill="#F8766D"/>
<circle cx="500.6" cy="172.3" r="2.1" fill="#F8766D"/>
<circle cx="494.4" cy="171.7" r="2.1" fill="#F8766D"/>
<circle cx="500.5" cy="171.4" r="2.1" fill="#F8766D"/>
<circle cx="498.8" cy="171.1" r="2.1" fill="#F8766D"/>
<circle cx="506.6" cy="170.1" r="2.1" fill="#F8766D"/>
<circle cx="495.5" cy="169.9" r="2.1" fill="#F8766D"/>
<circle cx="505.3" cy="169.1" r="2.1" fill="#F8766D"/>
<circle cx="507.2" cy="168.7" r="2.1" fill="#F8766D"/>
<circle cx="503.6" cy="168.0" r="2.1" fill="#F8766D"/>
<circle cx="504.7" cy="167.9" r="2.1" fill="#F8766D"/>
<circle cx="496.3" cy="167.0" r="2.1" fill="#F8766D"/>
<circle cx="507.0" cy="166.8" r="2.1" fill="#F8766D"/>
<circle cx="500.3" cy="166.2" r="2.1" fill="#F8766D"/>
<circle cx="506.7" cy="165.4" r="2.1" fill="#F8766D"/>
<circle cx="506.1" cy="164.9" r="2.1" fill="#F8766D"/>
<circle cx="495.9" cy="164.7" r="2.1" fill="#F8766D"/>
<circle cx="504.4" cy="164.1" r="2.1" fill="#F8766D"/>
<circle cx="506.3" cy="163.5" r="2.1" fill="#F8766D"/>
<circle cx="494.5" cy="162.9" r="2.1" fill="#F8766D"/>
<circle cx="498.4" cy="162.5" r="2.1" fill="#F8766D"/>
<circle cx="503.9" cy="162.1" r="2.1" fill="#F8766D"/>
<circle cx="495.8" cy="161.5" r="2.1" fill="#F8766D"/>
<circle cx="505.8" cy="161.0" r="2.1" fill="#F8766D"/>
<circle cx="497.4" cy="160.7" r="2.1" fill="#F8766D"/>
<circle cx="504.7" cy="160.6" r="2.1" fill="#F8766D"/>
<circle cx="495.6" cy="159.9" r="2.1" fill="#F8766D"/>
<circle cx="500.5" cy="159.1" r="2.1" fill="#F8766D"/>
<circle cx="506.2" cy="158.9" r="2.1" fill="#F8766D"/>
<circle cx="496.5" cy="157.5" r="2.1" fill="#F8766D"/>
<circle cx="497.2" cy="157.2" r="2.1" fill="#F8766D"/>
<circle cx="500.5" cy="155.7" r="2.1" fill="#F8766D"/>
<circle cx="498.0" cy="154.7" r="2.1" fill="#F8766D"/>
<circle cx="494.2" cy="153.4" r="2.1" fill="#F8766D"/>
<circle cx="496.1" cy="152.6" r="2.1" fill="#F8766D"/>
<circle cx="495.8" cy="151.1" r="2.1" fill="#F8766D"/>
<circle cx="506.4" cy="149.4" r="2.1" fill="#F8766D"/>
<circle cx="502.9" cy="148.2" r="2.1" fill="#F8766D"/>
<line x1="528.53" y1="141.30" x2="528.53" y2="154.50" stroke="#A3A500" stroke-width="1"/>
<line x1="528.53" y1="170.50" x2="528.53" y2="187.80" stroke="#A3A500" stroke-width="1"/>
<rect x="518.43" y="154.50" width="20.20" height="16.00" fill="#fff" stroke="#A3A500" stroke-width="1"/>
<line x1="518.43" y1="162.60" x2="538.63" y2="162.60" stroke="#A3A500" stroke-width="1.4"/>
<circle cx="524.8" cy="185.2" r="2.1" fill="#A3A500"/>
<circle cx="530.6" cy="184.5" r="2.1" fill="#A3A500"/>
<circle cx="522.0" cy="180.4" r="2.1" fill="#A3A500"/>
<circle cx="521.8" cy="179.7" r="2.1" fill="#A3A500"/>
<circle cx="526.6" cy="176.7" r="2.1" fill="#A3A500"/>
<circle cx="523.2" cy="174.7" r="2.1" fill="#A3A500"/>
<circle cx="526.6" cy="173.6" r="2.1" fill="#A3A500"/>
<circle cx="524.8" cy="171.7" r="2.1" fill="#A3A500"/>
<circle cx="529.7" cy="171.1" r="2.1" fill="#A3A500"/>
<circle cx="529.7" cy="170.6" r="2.1" fill="#A3A500"/>
<circle cx="524.5" cy="169.8" r="2.1" fill="#A3A500"/>
<circle cx="530.2" cy="169.6" r="2.1" fill="#A3A500"/>
<circle cx="528.2" cy="168.1" r="2.1" fill="#A3A500"/>
<circle cx="523.6" cy="167.6" r="2.1" fill="#A3A500"/>
<circle cx="534.5" cy="167.0" r="2.1" fill="#A3A500"/>
<circle cx="525.0" cy="165.9" r="2.1" fill="#A3A500"/>
<circle cx="523.8" cy="165.6" r="2.1" fill="#A3A500"/>
<circle cx="523.0" cy="164.2" r="2.1" fill="#A3A500"/>
<circle cx="530.4" cy="163.7" r="2.1" fill="#A3A500"/>
<circle cx="533.6" cy="163.1" r="2.1" fill="#A3A500"/>
<circle cx="532.4" cy="162.0" r="2.1" fill="#A3A500"/>
<circle cx="527.2" cy="161.4" r="2.1" fill="#A3A500"/>
<circle cx="525.3" cy="160.8" r="2.1" fill="#A3A500"/>
<circle cx="521.9" cy="159.6" r="2.1" fill="#A3A500"/>
<circle cx="530.5" cy="159.3" r="2.1" fill="#A3A500"/>
<circle cx="529.4" cy="157.9" r="2.1" fill="#A3A500"/>
<circle cx="526.5" cy="157.5" r="2.1" fill="#A3A500"/>
<circle cx="530.5" cy="156.4" r="2.1" fill="#A3A500"/>
<circle cx="527.8" cy="155.3" r="2.1" fill="#A3A500"/>
<circle cx="534.5" cy="154.8" r="2.1" fill="#A3A500"/>
<circle cx="531.7" cy="154.4" r="2.1" fill="#A3A500"/>
<circle cx="525.1" cy="154.1" r="2.1" fill="#A3A500"/>
<circle cx="534.0" cy="153.6" r="2.1" fill="#A3A500"/>
<circle cx="522.3" cy="152.8" r="2.1" fill="#A3A500"/>
<circle cx="529.0" cy="151.5" r="2.1" fill="#A3A500"/>
<circle cx="527.3" cy="149.5" r="2.1" fill="#A3A500"/>
<circle cx="525.0" cy="148.3" r="2.1" fill="#A3A500"/>
<circle cx="522.5" cy="146.4" r="2.1" fill="#A3A500"/>
<circle cx="532.3" cy="143.7" r="2.1" fill="#A3A500"/>
<circle cx="521.9" cy="143.2" r="2.1" fill="#A3A500"/>
<line x1="556.61" y1="139.60" x2="556.61" y2="161.60" stroke="#00BF7D" stroke-width="1"/>
<line x1="556.61" y1="189.30" x2="556.61" y2="212.10" stroke="#00BF7D" stroke-width="1"/>
<rect x="546.51" y="161.60" width="20.20" height="27.70" fill="#fff" stroke="#00BF7D" stroke-width="1"/>
<line x1="546.51" y1="172.20" x2="566.71" y2="172.20" stroke="#00BF7D" stroke-width="1.4"/>
<circle cx="556.2" cy="210.6" r="2.1" fill="#00BF7D"/>
<circle cx="561.2" cy="206.9" r="2.1" fill="#00BF7D"/>
<circle cx="559.3" cy="206.4" r="2.1" fill="#00BF7D"/>
<circle cx="561.5" cy="203.8" r="2.1" fill="#00BF7D"/>
<circle cx="555.8" cy="200.7" r="2.1" fill="#00BF7D"/>
<circle cx="559.7" cy="198.9" r="2.1" fill="#00BF7D"/>
<circle cx="557.6" cy="196.7" r="2.1" fill="#00BF7D"/>
<circle cx="554.0" cy="194.8" r="2.1" fill="#00BF7D"/>
<circle cx="552.7" cy="194.2" r="2.1" fill="#00BF7D"/>
<circle cx="558.3" cy="192.6" r="2.1" fill="#00BF7D"/>
<circle cx="550.9" cy="191.5" r="2.1" fill="#00BF7D"/>
<circle cx="562.2" cy="190.7" r="2.1" fill="#00BF7D"/>
<circle cx="551.8" cy="189.5" r="2.1" fill="#00BF7D"/>
<circle cx="550.2" cy="189.3" r="2.1" fill="#00BF7D"/>
<circle cx="551.3" cy="188.1" r="2.1" fill="#00BF7D"/>
<circle cx="562.4" cy="187.7" r="2.1" fill="#00BF7D"/>
<circle cx="554.5" cy="185.5" r="2.1" fill="#00BF7D"/>
<circle cx="551.7" cy="184.3" r="2.1" fill="#00BF7D"/>
<circle cx="550.2" cy="183.4" r="2.1" fill="#00BF7D"/>
<circle cx="550.4" cy="181.8" r="2.1" fill="#00BF7D"/>
<circle cx="559.2" cy="181.0" r="2.1" fill="#00BF7D"/>
<circle cx="558.4" cy="180.0" r="2.1" fill="#00BF7D"/>
<circle cx="559.3" cy="178.9" r="2.1" fill="#00BF7D"/>
<circle cx="559.8" cy="177.5" r="2.1" fill="#00BF7D"/>
<circle cx="550.7" cy="176.5" r="2.1" fill="#00BF7D"/>
<circle cx="557.8" cy="174.9" r="2.1" fill="#00BF7D"/>
<circle cx="554.8" cy="173.1" r="2.1" fill="#00BF7D"/>
<circle cx="560.9" cy="172.0" r="2.1" fill="#00BF7D"/>
<circle cx="561.0" cy="171.2" r="2.1" fill="#00BF7D"/>
<circle cx="561.9" cy="170.5" r="2.1" fill="#00BF7D"/>
<circle cx="550.7" cy="170.1" r="2.1" fill="#00BF7D"/>
<circle cx="561.6" cy="169.1" r="2.1" fill="#00BF7D"/>
<circle cx="562.2" cy="168.4" r="2.1" fill="#00BF7D"/>
<circle cx="562.7" cy="167.4" r="2.1" fill="#00BF7D"/>
<circle cx="551.3" cy="166.8" r="2.1" fill="#00BF7D"/>
<circle cx="552.6" cy="166.2" r="2.1" fill="#00BF7D"/>
<circle cx="551.3" cy="165.2" r="2.1" fill="#00BF7D"/>
<circle cx="550.3" cy="164.1" r="2.1" fill="#00BF7D"/>
<circle cx="561.3" cy="163.9" r="2.1" fill="#00BF7D"/>
<circle cx="560.9" cy="162.7" r="2.1" fill="#00BF7D"/>
<circle cx="558.4" cy="162.6" r="2.1" fill="#00BF7D"/>
<circle cx="561.0" cy="161.6" r="2.1" fill="#00BF7D"/>
<circle cx="558.4" cy="161.4" r="2.1" fill="#00BF7D"/>
<circle cx="553.7" cy="160.4" r="2.1" fill="#00BF7D"/>
<circle cx="551.2" cy="159.2" r="2.1" fill="#00BF7D"/>
<circle cx="551.1" cy="158.3" r="2.1" fill="#00BF7D"/>
<circle cx="560.1" cy="157.6" r="2.1" fill="#00BF7D"/>
<circle cx="552.6" cy="155.2" r="2.1" fill="#00BF7D"/>
<circle cx="554.2" cy="154.5" r="2.1" fill="#00BF7D"/>
<circle cx="555.6" cy="152.9" r="2.1" fill="#00BF7D"/>
<circle cx="550.1" cy="149.5" r="2.1" fill="#00BF7D"/>
<circle cx="553.3" cy="148.0" r="2.1" fill="#00BF7D"/>
<circle cx="553.7" cy="145.5" r="2.1" fill="#00BF7D"/>
<circle cx="559.5" cy="143.1" r="2.1" fill="#00BF7D"/>
<circle cx="554.8" cy="139.7" r="2.1" fill="#00BF7D"/>
<line x1="584.69" y1="152.40" x2="584.69" y2="178.00" stroke="#00B0F6" stroke-width="1"/>
<line x1="584.69" y1="199.90" x2="584.69" y2="230.40" stroke="#00B0F6" stroke-width="1"/>
<rect x="574.59" y="178.00" width="20.20" height="21.90" fill="#fff" stroke="#00B0F6" stroke-width="1"/>
<line x1="574.59" y1="187.80" x2="594.79" y2="187.80" stroke="#00B0F6" stroke-width="1.4"/>
<circle cx="579.4" cy="228.5" r="2.1" fill="#00B0F6"/>
<circle cx="586.5" cy="219.7" r="2.1" fill="#00B0F6"/>
<circle cx="579.0" cy="217.1" r="2.1" fill="#00B0F6"/>
<circle cx="588.6" cy="211.3" r="2.1" fill="#00B0F6"/>
<circle cx="587.4" cy="208.4" r="2.1" fill="#00B0F6"/>
<circle cx="588.6" cy="207.0" r="2.1" fill="#00B0F6"/>
<circle cx="586.4" cy="203.1" r="2.1" fill="#00B0F6"/>
<circle cx="582.7" cy="201.1" r="2.1" fill="#00B0F6"/>
<circle cx="583.3" cy="199.9" r="2.1" fill="#00B0F6"/>
<circle cx="583.3" cy="199.1" r="2.1" fill="#00B0F6"/>
<circle cx="590.0" cy="197.2" r="2.1" fill="#00B0F6"/>
<circle cx="579.1" cy="196.0" r="2.1" fill="#00B0F6"/>
<circle cx="590.0" cy="195.1" r="2.1" fill="#00B0F6"/>
<circle cx="578.2" cy="192.8" r="2.1" fill="#00B0F6"/>
<circle cx="580.7" cy="192.5" r="2.1" fill="#00B0F6"/>
<circle cx="581.5" cy="190.1" r="2.1" fill="#00B0F6"/>
<circle cx="590.1" cy="189.6" r="2.1" fill="#00B0F6"/>
<circle cx="584.7" cy="188.5" r="2.1" fill="#00B0F6"/>
<circle cx="583.0" cy="187.0" r="2.1" fill="#00B0F6"/>
<circle cx="589.9" cy="185.3" r="2.1" fill="#00B0F6"/>
<circle cx="581.1" cy="183.9" r="2.1" fill="#00B0F6"/>
<circle cx="584.2" cy="183.9" r="2.1" fill="#00B0F6"/>
<circle cx="585.1" cy="182.2" r="2.1" fill="#00B0F6"/>
<circle cx="588.2" cy="181.1" r="2.1" fill="#00B0F6"/>
<circle cx="588.1" cy="179.6" r="2.1" fill="#00B0F6"/>
<circle cx="586.7" cy="179.2" r="2.1" fill="#00B0F6"/>
<circle cx="582.6" cy="177.9" r="2.1" fill="#00B0F6"/>
<circle cx="582.3" cy="177.2" r="2.1" fill="#00B0F6"/>
<circle cx="580.0" cy="174.8" r="2.1" fill="#00B0F6"/>
<circle cx="589.4" cy="173.8" r="2.1" fill="#00B0F6"/>
<circle cx="586.9" cy="169.1" r="2.1" fill="#00B0F6"/>
<circle cx="588.0" cy="168.0" r="2.1" fill="#00B0F6"/>
<circle cx="580.2" cy="164.7" r="2.1" fill="#00B0F6"/>
<circle cx="583.9" cy="158.5" r="2.1" fill="#00B0F6"/>
<circle cx="588.4" cy="154.8" r="2.1" fill="#00B0F6"/>
<line x1="612.77" y1="168.00" x2="612.77" y2="176.50" stroke="#E76BF3" stroke-width="1"/>
<line x1="612.77" y1="197.20" x2="612.77" y2="227.60" stroke="#E76BF3" stroke-width="1"/>
<rect x="602.67" y="176.50" width="20.20" height="20.70" fill="#fff" stroke="#E76BF3" stroke-width="1"/>
<line x1="602.67" y1="188.60" x2="622.87" y2="188.60" stroke="#E76BF3" stroke-width="1.4"/>
<circle cx="615.4" cy="224.3" r="2.1" fill="#E76BF3"/>
<circle cx="612.8" cy="221.3" r="2.1" fill="#E76BF3"/>
<circle cx="614.6" cy="214.5" r="2.1" fill="#E76BF3"/>
<circle cx="612.3" cy="208.4" r="2.1" fill="#E76BF3"/>
<circle cx="607.9" cy="207.1" r="2.1" fill="#E76BF3"/>
<circle cx="614.2" cy="203.8" r="2.1" fill="#E76BF3"/>
<circle cx="611.5" cy="200.7" r="2.1" fill="#E76BF3"/>
<circle cx="616.0" cy="198.0" r="2.1" fill="#E76BF3"/>
<circle cx="618.3" cy="197.1" r="2.1" fill="#E76BF3"/>
<circle cx="611.8" cy="196.8" r="2.1" fill="#E76BF3"/>
<circle cx="613.8" cy="195.8" r="2.1" fill="#E76BF3"/>
<circle cx="616.2" cy="194.7" r="2.1" fill="#E76BF3"/>
<circle cx="611.7" cy="193.7" r="2.1" fill="#E76BF3"/>
<circle cx="609.1" cy="192.5" r="2.1" fill="#E76BF3"/>
<circle cx="615.8" cy="191.9" r="2.1" fill="#E76BF3"/>
<circle cx="617.9" cy="190.7" r="2.1" fill="#E76BF3"/>
<circle cx="616.5" cy="189.9" r="2.1" fill="#E76BF3"/>
<circle cx="615.5" cy="187.9" r="2.1" fill="#E76BF3"/>
<circle cx="617.6" cy="186.9" r="2.1" fill="#E76BF3"/>
<circle cx="615.2" cy="186.4" r="2.1" fill="#E76BF3"/>
<circle cx="614.7" cy="183.8" r="2.1" fill="#E76BF3"/>
<circle cx="612.1" cy="183.6" r="2.1" fill="#E76BF3"/>
<circle cx="610.2" cy="181.8" r="2.1" fill="#E76BF3"/>
<circle cx="614.5" cy="179.6" r="2.1" fill="#E76BF3"/>
<circle cx="607.3" cy="178.5" r="2.1" fill="#E76BF3"/>
<circle cx="611.7" cy="177.2" r="2.1" fill="#E76BF3"/>
<circle cx="616.6" cy="176.5" r="2.1" fill="#E76BF3"/>
<circle cx="615.7" cy="176.3" r="2.1" fill="#E76BF3"/>
<circle cx="614.5" cy="175.6" r="2.1" fill="#E76BF3"/>
<circle cx="609.4" cy="175.2" r="2.1" fill="#E76BF3"/>
<circle cx="611.7" cy="174.3" r="2.1" fill="#E76BF3"/>
<circle cx="612.2" cy="173.1" r="2.1" fill="#E76BF3"/>
<circle cx="614.4" cy="172.3" r="2.1" fill="#E76BF3"/>
<circle cx="611.5" cy="170.5" r="2.1" fill="#E76BF3"/>
<circle cx="615.2" cy="168.3" r="2.1" fill="#E76BF3"/>
</g>
<rect x="483.6" y="42.5" width="146.0" height="211.3" fill="none" stroke="#8a8a8a" stroke-width="1.3"/>
<line x1="483.0" y1="42.5" x2="630.2" y2="42.5" stroke="#2e2e2e" stroke-width="1.4"/>
<text x="484.90000000000003" y="52.3" style="font-family:'Liberation Sans', sans-serif;font-size:9.35px" fill="#000">Anova, p < 2.2e-16</text>
<text x="528.53" y="70.80" text-anchor="middle" style="font-family:'Liberation Sans', sans-serif;font-size:8.8px" fill="#000">*</text>
<text x="556.61" y="70.80" text-anchor="middle" style="font-family:'Liberation Sans', sans-serif;font-size:8.8px" fill="#000">*</text>
<text x="584.69" y="70.80" text-anchor="middle" style="font-family:'Liberation Sans', sans-serif;font-size:8.8px" fill="#000">****</text>
<text x="612.77" y="70.80" text-anchor="middle" style="font-family:'Liberation Sans', sans-serif;font-size:8.8px" fill="#000">****</text>
<rect x="28.6" y="259.6" width="146.0" height="15.899999999999977" fill="#efefef" stroke="#888" stroke-width="1.2"/>
<text x="101.6" y="270.20000000000005" text-anchor="middle" style="font-family:'Liberation Sans', sans-serif;font-size:8.3px" fill="#111">CRTAM</text>
<rect x="28.6" y="275.5" width="146.0" height="211.39999999999998" fill="#fff"/>
<clipPath id="c01"><rect x="28.6" y="275.5" width="146.0" height="211.39999999999998"/></clipPath>
<g clip-path="url(#c01)">
<line x1="45.45" y1="404.00" x2="45.45" y2="420.30" stroke="#F8766D" stroke-width="1"/>
<line x1="45.45" y1="432.80" x2="45.45" y2="444.00" stroke="#F8766D" stroke-width="1"/>
<rect x="35.35" y="420.30" width="20.20" height="12.50" fill="#fff" stroke="#F8766D" stroke-width="1"/>
<line x1="35.35" y1="425.70" x2="55.55" y2="425.70" stroke="#F8766D" stroke-width="1.4"/>
<circle cx="42.7" cy="442.8" r="2.1" fill="#F8766D"/>
<circle cx="46.1" cy="442.5" r="2.1" fill="#F8766D"/>
<circle cx="40.4" cy="440.8" r="2.1" fill="#F8766D"/>
<circle cx="50.0" cy="439.6" r="2.1" fill="#F8766D"/>
<circle cx="43.5" cy="439.0" r="2.1" fill="#F8766D"/>
<circle cx="50.2" cy="438.0" r="2.1" fill="#F8766D"/>
<circle cx="42.3" cy="436.7" r="2.1" fill="#F8766D"/>
<circle cx="43.8" cy="436.6" r="2.1" fill="#F8766D"/>
<circle cx="42.1" cy="435.5" r="2.1" fill="#F8766D"/>
<circle cx="44.4" cy="435.1" r="2.1" fill="#F8766D"/>
<circle cx="41.2" cy="434.1" r="2.1" fill="#F8766D"/>
<circle cx="38.7" cy="433.6" r="2.1" fill="#F8766D"/>
<circle cx="48.5" cy="433.3" r="2.1" fill="#F8766D"/>
<circle cx="42.5" cy="433.1" r="2.1" fill="#F8766D"/>
<circle cx="42.0" cy="432.8" r="2.1" fill="#F8766D"/>
<circle cx="42.8" cy="432.5" r="2.1" fill="#F8766D"/>
<circle cx="45.2" cy="432.0" r="2.1" fill="#F8766D"/>
<circle cx="44.5" cy="431.6" r="2.1" fill="#F8766D"/>
<circle cx="47.3" cy="431.1" r="2.1" fill="#F8766D"/>
<circle cx="47.6" cy="430.5" r="2.1" fill="#F8766D"/>
<circle cx="43.6" cy="430.2" r="2.1" fill="#F8766D"/>
<circle cx="51.3" cy="429.8" r="2.1" fill="#F8766D"/>
<circle cx="50.3" cy="429.0" r="2.1" fill="#F8766D"/>
<circle cx="39.4" cy="428.9" r="2.1" fill="#F8766D"/>
<circle cx="49.9" cy="428.2" r="2.1" fill="#F8766D"/>
<circle cx="51.0" cy="427.9" r="2.1" fill="#F8766D"/>
<circle cx="49.3" cy="427.2" r="2.1" fill="#F8766D"/>
<circle cx="40.6" cy="427.1" r="2.1" fill="#F8766D"/>
<circle cx="50.0" cy="426.2" r="2.1" fill="#F8766D"/>
<circle cx="47.3" cy="426.0" r="2.1" fill="#F8766D"/>
<circle cx="38.9" cy="425.7" r="2.1" fill="#F8766D"/>
<circle cx="38.8" cy="425.2" r="2.1" fill="#F8766D"/>
<circle cx="51.6" cy="424.8" r="2.1" fill="#F8766D"/>
<circle cx="47.6" cy="424.6" r="2.1" fill="#F8766D"/>
<circle cx="42.1" cy="424.1" r="2.1" fill="#F8766D"/>
<circle cx="40.0" cy="423.7" r="2.1" fill="#F8766D"/>
<circle cx="40.6" cy="423.3" r="2.1" fill="#F8766D"/>
<circle cx="41.8" cy="423.1" r="2.1" fill="#F8766D"/>
<circle cx="49.2" cy="422.7" r="2.1" fill="#F8766D"/>
<circle cx="43.4" cy="422.4" r="2.1" fill="#F8766D"/>
<circle cx="40.7" cy="421.8" r="2.1" fill="#F8766D"/>
<circle cx="50.9" cy="421.4" r="2.1" fill="#F8766D"/>
<circle cx="49.4" cy="421.2" r="2.1" fill="#F8766D"/>
<circle cx="40.9" cy="420.9" r="2.1" fill="#F8766D"/>
<circle cx="50.8" cy="420.4" r="2.1" fill="#F8766D"/>
<circle cx="46.9" cy="420.3" r="2.1" fill="#F8766D"/>
<circle cx="49.3" cy="420.1" r="2.1" fill="#F8766D"/>
<circle cx="47.7" cy="419.7" r="2.1" fill="#F8766D"/>
<circle cx="50.8" cy="418.7" r="2.1" fill="#F8766D"/>
<circle cx="49.4" cy="417.9" r="2.1" fill="#F8766D"/>
<circle cx="50.1" cy="417.2" r="2.1" fill="#F8766D"/>
<circle cx="41.3" cy="416.4" r="2.1" fill="#F8766D"/>
<circle cx="48.1" cy="415.2" r="2.1" fill="#F8766D"/>
<circle cx="45.9" cy="414.4" r="2.1" fill="#F8766D"/>
<circle cx="48.7" cy="412.2" r="2.1" fill="#F8766D"/>
<circle cx="44.6" cy="411.6" r="2.1" fill="#F8766D"/>
<circle cx="50.7" cy="409.7" r="2.1" fill="#F8766D"/>
<circle cx="46.2" cy="407.8" r="2.1" fill="#F8766D"/>
<circle cx="42.2" cy="406.1" r="2.1" fill="#F8766D"/>
<circle cx="41.8" cy="405.0" r="2.1" fill="#F8766D"/>
<circle cx="40.0" cy="452.7" r="2.1" fill="#F8766D"/>
<circle cx="40.6" cy="459.1" r="2.1" fill="#F8766D"/>
<circle cx="49.7" cy="457.0" r="2.1" fill="#F8766D"/>
<line x1="73.53" y1="409.40" x2="73.53" y2="420.90" stroke="#A3A500" stroke-width="1"/>
<line x1="73.53" y1="434.90" x2="73.53" y2="454.80" stroke="#A3A500" stroke-width="1"/>
<rect x="63.43" y="420.90" width="20.20" height="14.00" fill="#fff" stroke="#A3A500" stroke-width="1"/>
<line x1="63.43" y1="427.20" x2="83.63" y2="427.20" stroke="#A3A500" stroke-width="1.4"/>
<circle cx="72.6" cy="454.3" r="2.1" fill="#A3A500"/>
<circle cx="72.5" cy="450.0" r="2.1" fill="#A3A500"/>
<circle cx="74.3" cy="448.3" r="2.1" fill="#A3A500"/>
<circle cx="78.0" cy="444.6" r="2.1" fill="#A3A500"/>
<circle cx="70.7" cy="442.9" r="2.1" fill="#A3A500"/>
<circle cx="78.0" cy="440.0" r="2.1" fill="#A3A500"/>
<circle cx="72.2" cy="438.2" r="2.1" fill="#A3A500"/>
<circle cx="73.6" cy="436.7" r="2.1" fill="#A3A500"/>
<circle cx="70.4" cy="435.4" r="2.1" fill="#A3A500"/>
<circle cx="73.6" cy="435.3" r="2.1" fill="#A3A500"/>
<circle cx="80.0" cy="434.3" r="2.1" fill="#A3A500"/>
<circle cx="75.6" cy="433.8" r="2.1" fill="#A3A500"/>
<circle cx="77.5" cy="432.9" r="2.1" fill="#A3A500"/>
<circle cx="71.2" cy="432.1" r="2.1" fill="#A3A500"/>
<circle cx="71.0" cy="431.2" r="2.1" fill="#A3A500"/>
<circle cx="70.8" cy="430.8" r="2.1" fill="#A3A500"/>
<circle cx="74.7" cy="430.0" r="2.1" fill="#A3A500"/>
<circle cx="75.4" cy="428.8" r="2.1" fill="#A3A500"/>
<circle cx="77.4" cy="428.7" r="2.1" fill="#A3A500"/>
<circle cx="67.3" cy="427.5" r="2.1" fill="#A3A500"/>
<circle cx="76.6" cy="426.8" r="2.1" fill="#A3A500"/>
<circle cx="78.8" cy="426.6" r="2.1" fill="#A3A500"/>
<circle cx="74.1" cy="425.6" r="2.1" fill="#A3A500"/>
<circle cx="67.4" cy="424.9" r="2.1" fill="#A3A500"/>
<circle cx="70.8" cy="424.1" r="2.1" fill="#A3A500"/>
<circle cx="66.8" cy="423.8" r="2.1" fill="#A3A500"/>
<circle cx="69.3" cy="422.8" r="2.1" fill="#A3A500"/>
<circle cx="79.3" cy="422.5" r="2.1" fill="#A3A500"/>
<circle cx="75.0" cy="421.9" r="2.1" fill="#A3A500"/>
<circle cx="75.7" cy="421.0" r="2.1" fill="#A3A500"/>
<circle cx="77.5" cy="420.9" r="2.1" fill="#A3A500"/>
<circle cx="79.1" cy="420.3" r="2.1" fill="#A3A500"/>
<circle cx="75.0" cy="419.7" r="2.1" fill="#A3A500"/>
<circle cx="75.1" cy="419.1" r="2.1" fill="#A3A500"/>
<circle cx="75.3" cy="417.5" r="2.1" fill="#A3A500"/>
<circle cx="76.2" cy="416.9" r="2.1" fill="#A3A500"/>
<circle cx="74.8" cy="415.4" r="2.1" fill="#A3A500"/>
<circle cx="76.0" cy="413.8" r="2.1" fill="#A3A500"/>
<circle cx="69.6" cy="411.7" r="2.1" fill="#A3A500"/>
<circle cx="75.8" cy="410.9" r="2.1" fill="#A3A500"/>
<line x1="101.61" y1="408.40" x2="101.61" y2="423.90" stroke="#00BF7D" stroke-width="1"/>
<line x1="101.61" y1="441.40" x2="101.61" y2="455.90" stroke="#00BF7D" stroke-width="1"/>
<rect x="91.51" y="423.90" width="20.20" height="17.50" fill="#fff" stroke="#00BF7D" stroke-width="1"/>
<line x1="91.51" y1="431.10" x2="111.71" y2="431.10" stroke="#00BF7D" stroke-width="1.4"/>
<circle cx="104.7" cy="455.1" r="2.1" fill="#00BF7D"/>
<circle cx="96.0" cy="452.9" r="2.1" fill="#00BF7D"/>
<circle cx="103.4" cy="452.3" r="2.1" fill="#00BF7D"/>
<circle cx="104.5" cy="450.7" r="2.1" fill="#00BF7D"/>
<circle cx="101.1" cy="449.4" r="2.1" fill="#00BF7D"/>
<circle cx="107.5" cy="447.1" r="2.1" fill="#00BF7D"/>
<circle cx="98.3" cy="445.8" r="2.1" fill="#00BF7D"/>
<circle cx="107.9" cy="445.0" r="2.1" fill="#00BF7D"/>
<circle cx="104.6" cy="444.3" r="2.1" fill="#00BF7D"/>
<circle cx="95.0" cy="443.1" r="2.1" fill="#00BF7D"/>
<circle cx="95.0" cy="442.5" r="2.1" fill="#00BF7D"/>
<circle cx="103.7" cy="442.0" r="2.1" fill="#00BF7D"/>
<circle cx="105.9" cy="441.7" r="2.1" fill="#00BF7D"/>
<circle cx="95.9" cy="441.4" r="2.1" fill="#00BF7D"/>
<circle cx="99.0" cy="440.9" r="2.1" fill="#00BF7D"/>
<circle cx="104.7" cy="440.2" r="2.1" fill="#00BF7D"/>
<circle cx="97.1" cy="439.4" r="2.1" fill="#00BF7D"/>
<circle cx="106.5" cy="438.5" r="2.1" fill="#00BF7D"/>
<circle cx="101.4" cy="437.5" r="2.1" fill="#00BF7D"/>
<circle cx="95.6" cy="437.4" r="2.1" fill="#00BF7D"/>
<circle cx="99.8" cy="436.3" r="2.1" fill="#00BF7D"/>
<circle cx="102.6" cy="435.9" r="2.1" fill="#00BF7D"/>
<circle cx="100.8" cy="435.1" r="2.1" fill="#00BF7D"/>
<circle cx="104.0" cy="433.9" r="2.1" fill="#00BF7D"/>
<circle cx="96.8" cy="433.3" r="2.1" fill="#00BF7D"/>
<circle cx="105.7" cy="432.3" r="2.1" fill="#00BF7D"/>
<circle cx="99.8" cy="431.9" r="2.1" fill="#00BF7D"/>
<circle cx="103.6" cy="431.5" r="2.1" fill="#00BF7D"/>
<circle cx="103.4" cy="430.6" r="2.1" fill="#00BF7D"/>
<circle cx="100.5" cy="430.0" r="2.1" fill="#00BF7D"/>
<circle cx="100.1" cy="429.3" r="2.1" fill="#00BF7D"/>
<circle cx="105.5" cy="428.8" r="2.1" fill="#00BF7D"/>
<circle cx="107.7" cy="428.5" r="2.1" fill="#00BF7D"/>
<circle cx="105.5" cy="428.0" r="2.1" fill="#00BF7D"/>
<circle cx="102.5" cy="427.6" r="2.1" fill="#00BF7D"/>
<circle cx="98.8" cy="426.8" r="2.1" fill="#00BF7D"/>
<circle cx="95.6" cy="426.5" r="2.1" fill="#00BF7D"/>
<circle cx="108.1" cy="426.0" r="2.1" fill="#00BF7D"/>
<circle cx="104.4" cy="425.6" r="2.1" fill="#00BF7D"/>
<circle cx="106.1" cy="425.1" r="2.1" fill="#00BF7D"/>
<circle cx="99.3" cy="424.2" r="2.1" fill="#00BF7D"/>
<circle cx="103.0" cy="424.0" r="2.1" fill="#00BF7D"/>
<circle cx="108.1" cy="423.4" r="2.1" fill="#00BF7D"/>
<circle cx="106.1" cy="423.4" r="2.1" fill="#00BF7D"/>
<circle cx="103.0" cy="422.3" r="2.1" fill="#00BF7D"/>
<circle cx="99.0" cy="422.1" r="2.1" fill="#00BF7D"/>
<circle cx="100.6" cy="421.3" r="2.1" fill="#00BF7D"/>
<circle cx="106.9" cy="419.6" r="2.1" fill="#00BF7D"/>
<circle cx="99.9" cy="419.0" r="2.1" fill="#00BF7D"/>
<circle cx="104.1" cy="417.1" r="2.1" fill="#00BF7D"/>
<circle cx="103.0" cy="416.4" r="2.1" fill="#00BF7D"/>
<circle cx="107.0" cy="415.2" r="2.1" fill="#00BF7D"/>
<circle cx="105.8" cy="412.4" r="2.1" fill="#00BF7D"/>
<circle cx="98.7" cy="410.8" r="2.1" fill="#00BF7D"/>
<circle cx="94.8" cy="408.7" r="2.1" fill="#00BF7D"/>
<circle cx="100.4" cy="477.5" r="2.1" fill="#00BF7D"/>
<line x1="129.69" y1="411.60" x2="129.69" y2="427.80" stroke="#00B0F6" stroke-width="1"/>
<line x1="129.69" y1="450.50" x2="129.69" y2="467.80" stroke="#00B0F6" stroke-width="1"/>
<rect x="119.59" y="427.80" width="20.20" height="22.70" fill="#fff" stroke="#00B0F6" stroke-width="1"/>
<line x1="119.59" y1="440.80" x2="139.79" y2="440.80" stroke="#00B0F6" stroke-width="1.4"/>
<circle cx="130.8" cy="466.9" r="2.1" fill="#00B0F6"/>
<circle cx="135.1" cy="463.3" r="2.1" fill="#00B0F6"/>
<circle cx="134.9" cy="460.0" r="2.1" fill="#00B0F6"/>
<circle cx="130.0" cy="457.0" r="2.1" fill="#00B0F6"/>
<circle cx="129.4" cy="454.8" r="2.1" fill="#00B0F6"/>
<circle cx="130.9" cy="454.5" r="2.1" fill="#00B0F6"/>
<circle cx="125.5" cy="451.8" r="2.1" fill="#00B0F6"/>
<circle cx="125.5" cy="450.9" r="2.1" fill="#00B0F6"/>
<circle cx="125.3" cy="450.4" r="2.1" fill="#00B0F6"/>
<circle cx="132.4" cy="449.6" r="2.1" fill="#00B0F6"/>
<circle cx="127.8" cy="448.8" r="2.1" fill="#00B0F6"/>
<circle cx="130.6" cy="447.1" r="2.1" fill="#00B0F6"/>
<circle cx="128.4" cy="446.0" r="2.1" fill="#00B0F6"/>
<circle cx="129.9" cy="445.0" r="2.1" fill="#00B0F6"/>
<circle cx="124.9" cy="443.7" r="2.1" fill="#00B0F6"/>
<circle cx="123.5" cy="443.2" r="2.1" fill="#00B0F6"/>
<circle cx="136.5" cy="442.4" r="2.1" fill="#00B0F6"/>
<circle cx="128.0" cy="440.7" r="2.1" fill="#00B0F6"/>
<circle cx="124.3" cy="438.9" r="2.1" fill="#00B0F6"/>
<circle cx="131.5" cy="438.3" r="2.1" fill="#00B0F6"/>
<circle cx="133.6" cy="436.0" r="2.1" fill="#00B0F6"/>
<circle cx="125.0" cy="434.2" r="2.1" fill="#00B0F6"/>
<circle cx="131.0" cy="433.8" r="2.1" fill="#00B0F6"/>
<circle cx="127.6" cy="431.7" r="2.1" fill="#00B0F6"/>
<circle cx="130.0" cy="430.1" r="2.1" fill="#00B0F6"/>
<circle cx="123.2" cy="429.0" r="2.1" fill="#00B0F6"/>
<circle cx="123.3" cy="427.9" r="2.1" fill="#00B0F6"/>
<circle cx="136.4" cy="427.4" r="2.1" fill="#00B0F6"/>
<circle cx="134.7" cy="425.9" r="2.1" fill="#00B0F6"/>
<circle cx="129.5" cy="424.3" r="2.1" fill="#00B0F6"/>
<circle cx="130.6" cy="423.1" r="2.1" fill="#00B0F6"/>
<circle cx="126.4" cy="421.9" r="2.1" fill="#00B0F6"/>
<circle cx="133.5" cy="417.9" r="2.1" fill="#00B0F6"/>
<circle cx="128.7" cy="415.3" r="2.1" fill="#00B0F6"/>
<circle cx="135.8" cy="413.9" r="2.1" fill="#00B0F6"/>
<line x1="157.77" y1="423.50" x2="157.77" y2="439.30" stroke="#E76BF3" stroke-width="1"/>
<line x1="157.77" y1="458.10" x2="157.77" y2="477.50" stroke="#E76BF3" stroke-width="1"/>
<rect x="147.67" y="439.30" width="20.20" height="18.80" fill="#fff" stroke="#E76BF3" stroke-width="1"/>
<line x1="147.67" y1="447.90" x2="167.87" y2="447.90" stroke="#E76BF3" stroke-width="1.4"/>
<circle cx="162.4" cy="474.7" r="2.1" fill="#E76BF3"/>
<circle cx="151.6" cy="471.2" r="2.1" fill="#E76BF3"/>
<circle cx="161.7" cy="467.7" r="2.1" fill="#E76BF3"/>
<circle cx="160.6" cy="466.9" r="2.1" fill="#E76BF3"/>
<circle cx="159.8" cy="464.9" r="2.1" fill="#E76BF3"/>
<circle cx="164.4" cy="462.3" r="2.1" fill="#E76BF3"/>
<circle cx="151.7" cy="460.5" r="2.1" fill="#E76BF3"/>
<circle cx="152.9" cy="459.3" r="2.1" fill="#E76BF3"/>
<circle cx="161.2" cy="458.4" r="2.1" fill="#E76BF3"/>
<circle cx="163.7" cy="457.2" r="2.1" fill="#E76BF3"/>
<circle cx="160.2" cy="455.6" r="2.1" fill="#E76BF3"/>
<circle cx="155.0" cy="454.9" r="2.1" fill="#E76BF3"/>
<circle cx="159.0" cy="453.2" r="2.1" fill="#E76BF3"/>
<circle cx="161.3" cy="452.1" r="2.1" fill="#E76BF3"/>
<circle cx="152.4" cy="451.9" r="2.1" fill="#E76BF3"/>
<circle cx="155.4" cy="450.1" r="2.1" fill="#E76BF3"/>
<circle cx="154.5" cy="449.2" r="2.1" fill="#E76BF3"/>
<circle cx="152.7" cy="448.3" r="2.1" fill="#E76BF3"/>
<circle cx="157.5" cy="446.5" r="2.1" fill="#E76BF3"/>
<circle cx="153.3" cy="446.2" r="2.1" fill="#E76BF3"/>
<circle cx="154.2" cy="444.9" r="2.1" fill="#E76BF3"/>
<circle cx="152.9" cy="443.8" r="2.1" fill="#E76BF3"/>
<circle cx="160.2" cy="442.5" r="2.1" fill="#E76BF3"/>
<circle cx="151.1" cy="441.8" r="2.1" fill="#E76BF3"/>
<circle cx="160.7" cy="441.1" r="2.1" fill="#E76BF3"/>
<circle cx="153.6" cy="440.1" r="2.1" fill="#E76BF3"/>
<circle cx="151.5" cy="439.4" r="2.1" fill="#E76BF3"/>
<circle cx="163.6" cy="438.3" r="2.1" fill="#E76BF3"/>
<circle cx="154.0" cy="437.1" r="2.1" fill="#E76BF3"/>
<circle cx="163.7" cy="436.8" r="2.1" fill="#E76BF3"/>
<circle cx="162.8" cy="435.5" r="2.1" fill="#E76BF3"/>
<circle cx="163.1" cy="433.2" r="2.1" fill="#E76BF3"/>
<circle cx="152.9" cy="430.7" r="2.1" fill="#E76BF3"/>
<circle cx="157.1" cy="426.7" r="2.1" fill="#E76BF3"/>
<circle cx="152.3" cy="423.8" r="2.1" fill="#E76BF3"/>
<circle cx="158.3" cy="409.0" r="2.1" fill="#E76BF3"/>
</g>
<rect x="28.6" y="275.5" width="146.0" height="211.39999999999998" fill="none" stroke="#8a8a8a" stroke-width="1.3"/>
<line x1="28.0" y1="275.5" x2="175.2" y2="275.5" stroke="#2e2e2e" stroke-width="1.4"/>
<text x="29.900000000000002" y="285.3" style="font-family:'Liberation Sans', sans-serif;font-size:9.35px" fill="#000">Anova, p = 2.4e-14</text>
<text x="73.53" y="304.80" text-anchor="middle" style="font-family:'Liberation Sans', sans-serif;font-size:8.8px" fill="#000">ns</text>
<text x="101.61" y="303.80" text-anchor="middle" style="font-family:'Liberation Sans', sans-serif;font-size:8.8px" fill="#000">**</text>
<text x="129.69" y="303.80" text-anchor="middle" style="font-family:'Liberation Sans', sans-serif;font-size:8.8px" fill="#000">****</text>
<text x="157.77" y="303.80" text-anchor="middle" style="font-family:'Liberation Sans', sans-serif;font-size:8.8px" fill="#000">****</text>
<rect x="180.4" y="259.6" width="146.0" height="15.899999999999977" fill="#efefef" stroke="#888" stroke-width="1.2"/>
<text x="253.39999999999998" y="270.20000000000005" text-anchor="middle" style="font-family:'Liberation Sans', sans-serif;font-size:8.3px" fill="#111">FADD</text>
<rect x="180.4" y="275.5" width="146.0" height="211.39999999999998" fill="#fff"/>
<clipPath id="c11"><rect x="180.4" y="275.5" width="146.0" height="211.39999999999998"/></clipPath>
<g clip-path="url(#c11)">
<line x1="197.25" y1="377.80" x2="197.25" y2="385.80" stroke="#F8766D" stroke-width="1"/>
<line x1="197.25" y1="396.60" x2="197.25" y2="404.80" stroke="#F8766D" stroke-width="1"/>
<rect x="187.15" y="385.80" width="20.20" height="10.80" fill="#fff" stroke="#F8766D" stroke-width="1"/>
<line x1="187.15" y1="391.40" x2="207.35" y2="391.40" stroke="#F8766D" stroke-width="1.4"/>
<circle cx="200.9" cy="404.0" r="2.1" fill="#F8766D"/>
<circle cx="200.1" cy="403.2" r="2.1" fill="#F8766D"/>
<circle cx="193.1" cy="402.5" r="2.1" fill="#F8766D"/>
<circle cx="191.5" cy="401.9" r="2.1" fill="#F8766D"/>
<circle cx="191.6" cy="401.2" r="2.1" fill="#F8766D"/>
<circle cx="198.7" cy="400.2" r="2.1" fill="#F8766D"/>
<circle cx="197.2" cy="399.7" r="2.1" fill="#F8766D"/>
<circle cx="194.2" cy="399.1" r="2.1" fill="#F8766D"/>
<circle cx="193.3" cy="398.8" r="2.1" fill="#F8766D"/>
<circle cx="198.8" cy="398.2" r="2.1" fill="#F8766D"/>
<circle cx="200.1" cy="397.8" r="2.1" fill="#F8766D"/>
<circle cx="201.5" cy="397.2" r="2.1" fill="#F8766D"/>
<circle cx="198.4" cy="397.0" r="2.1" fill="#F8766D"/>
<circle cx="193.2" cy="396.8" r="2.1" fill="#F8766D"/>
<circle cx="191.3" cy="396.6" r="2.1" fill="#F8766D"/>
<circle cx="200.4" cy="396.5" r="2.1" fill="#F8766D"/>
<circle cx="196.0" cy="396.1" r="2.1" fill="#F8766D"/>
<circle cx="200.3" cy="395.9" r="2.1" fill="#F8766D"/>
<circle cx="191.2" cy="395.5" r="2.1" fill="#F8766D"/>
<circle cx="201.5" cy="394.9" r="2.1" fill="#F8766D"/>
<circle cx="195.0" cy="394.8" r="2.1" fill="#F8766D"/>
<circle cx="201.9" cy="394.5" r="2.1" fill="#F8766D"/>
<circle cx="202.2" cy="394.0" r="2.1" fill="#F8766D"/>
<circle cx="197.2" cy="393.7" r="2.1" fill="#F8766D"/>
<circle cx="190.7" cy="393.2" r="2.1" fill="#F8766D"/>
<circle cx="202.8" cy="393.1" r="2.1" fill="#F8766D"/>
<circle cx="196.9" cy="392.4" r="2.1" fill="#F8766D"/>
<circle cx="202.3" cy="392.4" r="2.1" fill="#F8766D"/>
<circle cx="194.1" cy="391.8" r="2.1" fill="#F8766D"/>
<circle cx="193.0" cy="391.5" r="2.1" fill="#F8766D"/>
<circle cx="201.8" cy="391.3" r="2.1" fill="#F8766D"/>
<circle cx="195.4" cy="390.8" r="2.1" fill="#F8766D"/>
<circle cx="192.7" cy="390.5" r="2.1" fill="#F8766D"/>
<circle cx="195.5" cy="390.2" r="2.1" fill="#F8766D"/>
<circle cx="198.5" cy="389.8" r="2.1" fill="#F8766D"/>
<circle cx="190.5" cy="389.4" r="2.1" fill="#F8766D"/>
<circle cx="197.5" cy="388.8" r="2.1" fill="#F8766D"/>
<circle cx="196.5" cy="388.4" r="2.1" fill="#F8766D"/>
<circle cx="197.5" cy="388.1" r="2.1" fill="#F8766D"/>
<circle cx="192.1" cy="388.0" r="2.1" fill="#F8766D"/>
<circle cx="200.2" cy="387.6" r="2.1" fill="#F8766D"/>
<circle cx="201.6" cy="387.0" r="2.1" fill="#F8766D"/>
<circle cx="202.2" cy="386.9" r="2.1" fill="#F8766D"/>
<circle cx="194.8" cy="386.3" r="2.1" fill="#F8766D"/>
<circle cx="200.1" cy="386.1" r="2.1" fill="#F8766D"/>
<circle cx="195.6" cy="385.7" r="2.1" fill="#F8766D"/>
<circle cx="200.7" cy="385.7" r="2.1" fill="#F8766D"/>
<circle cx="191.3" cy="385.3" r="2.1" fill="#F8766D"/>
<circle cx="202.3" cy="385.2" r="2.1" fill="#F8766D"/>
<circle cx="203.4" cy="384.9" r="2.1" fill="#F8766D"/>
<circle cx="197.2" cy="384.6" r="2.1" fill="#F8766D"/>
<circle cx="197.4" cy="383.7" r="2.1" fill="#F8766D"/>
<circle cx="197.7" cy="383.3" r="2.1" fill="#F8766D"/>
<circle cx="197.8" cy="382.9" r="2.1" fill="#F8766D"/>
<circle cx="190.7" cy="382.2" r="2.1" fill="#F8766D"/>
<circle cx="203.6" cy="381.1" r="2.1" fill="#F8766D"/>
<circle cx="193.5" cy="380.9" r="2.1" fill="#F8766D"/>
<circle cx="192.9" cy="379.9" r="2.1" fill="#F8766D"/>
<circle cx="191.8" cy="379.4" r="2.1" fill="#F8766D"/>
<circle cx="193.9" cy="378.5" r="2.1" fill="#F8766D"/>
<circle cx="194.8" cy="369.8" r="2.1" fill="#F8766D"/>
<circle cx="200.6" cy="415.6" r="2.1" fill="#F8766D"/>
<line x1="225.33" y1="375.00" x2="225.33" y2="385.40" stroke="#A3A500" stroke-width="1"/>
<line x1="225.33" y1="397.90" x2="225.33" y2="409.10" stroke="#A3A500" stroke-width="1"/>
<rect x="215.23" y="385.40" width="20.20" height="12.50" fill="#fff" stroke="#A3A500" stroke-width="1"/>
<line x1="215.23" y1="390.30" x2="235.43" y2="390.30" stroke="#A3A500" stroke-width="1.4"/>
<circle cx="231.9" cy="407.6" r="2.1" fill="#A3A500"/>
<circle cx="229.5" cy="407.2" r="2.1" fill="#A3A500"/>
<circle cx="230.9" cy="405.4" r="2.1" fill="#A3A500"/>
<circle cx="229.6" cy="403.0" r="2.1" fill="#A3A500"/>
<circle cx="230.1" cy="402.3" r="2.1" fill="#A3A500"/>
<circle cx="219.3" cy="401.3" r="2.1" fill="#A3A500"/>
<circle cx="225.6" cy="399.7" r="2.1" fill="#A3A500"/>
<circle cx="231.6" cy="398.9" r="2.1" fill="#A3A500"/>
<circle cx="231.2" cy="398.3" r="2.1" fill="#A3A500"/>
<circle cx="221.9" cy="397.9" r="2.1" fill="#A3A500"/>
<circle cx="224.3" cy="397.8" r="2.1" fill="#A3A500"/>
<circle cx="227.1" cy="396.5" r="2.1" fill="#A3A500"/>
<circle cx="223.5" cy="395.8" r="2.1" fill="#A3A500"/>
<circle cx="225.7" cy="395.6" r="2.1" fill="#A3A500"/>
<circle cx="219.5" cy="394.8" r="2.1" fill="#A3A500"/>
<circle cx="224.4" cy="393.7" r="2.1" fill="#A3A500"/>
<circle cx="225.4" cy="393.0" r="2.1" fill="#A3A500"/>
<circle cx="218.8" cy="392.4" r="2.1" fill="#A3A500"/>
<circle cx="220.4" cy="391.7" r="2.1" fill="#A3A500"/>
<circle cx="231.7" cy="390.8" r="2.1" fill="#A3A500"/>
<circle cx="229.1" cy="390.2" r="2.1" fill="#A3A500"/>
<circle cx="231.3" cy="389.5" r="2.1" fill="#A3A500"/>
<circle cx="227.1" cy="388.9" r="2.1" fill="#A3A500"/>
<circle cx="229.5" cy="388.8" r="2.1" fill="#A3A500"/>
<circle cx="230.6" cy="388.1" r="2.1" fill="#A3A500"/>
<circle cx="230.6" cy="387.5" r="2.1" fill="#A3A500"/>
<circle cx="219.0" cy="387.3" r="2.1" fill="#A3A500"/>
<circle cx="227.3" cy="386.5" r="2.1" fill="#A3A500"/>
<circle cx="222.1" cy="385.9" r="2.1" fill="#A3A500"/>
<circle cx="227.8" cy="385.7" r="2.1" fill="#A3A500"/>
<circle cx="222.2" cy="385.4" r="2.1" fill="#A3A500"/>
<circle cx="225.9" cy="384.8" r="2.1" fill="#A3A500"/>
<circle cx="231.1" cy="384.4" r="2.1" fill="#A3A500"/>
<circle cx="227.0" cy="383.7" r="2.1" fill="#A3A500"/>
<circle cx="221.9" cy="382.3" r="2.1" fill="#A3A500"/>
<circle cx="225.6" cy="381.3" r="2.1" fill="#A3A500"/>
<circle cx="224.4" cy="380.6" r="2.1" fill="#A3A500"/>
<circle cx="231.5" cy="379.4" r="2.1" fill="#A3A500"/>
<circle cx="222.4" cy="377.8" r="2.1" fill="#A3A500"/>
<circle cx="222.7" cy="376.0" r="2.1" fill="#A3A500"/>
<circle cx="224.7" cy="359.9" r="2.1" fill="#A3A500"/>
<line x1="253.41" y1="359.90" x2="253.41" y2="376.70" stroke="#00BF7D" stroke-width="1"/>
<line x1="253.41" y1="390.80" x2="253.41" y2="402.70" stroke="#00BF7D" stroke-width="1"/>
<rect x="243.31" y="376.70" width="20.20" height="14.10" fill="#fff" stroke="#00BF7D" stroke-width="1"/>
<line x1="243.31" y1="382.80" x2="263.51" y2="382.80" stroke="#00BF7D" stroke-width="1.4"/>
<circle cx="248.7" cy="401.8" r="2.1" fill="#00BF7D"/>
<circle cx="251.2" cy="401.1" r="2.1" fill="#00BF7D"/>
<circle cx="251.4" cy="399.1" r="2.1" fill="#00BF7D"/>
<circle cx="255.8" cy="397.5" r="2.1" fill="#00BF7D"/>
<circle cx="255.0" cy="396.9" r="2.1" fill="#00BF7D"/>
<circle cx="258.2" cy="396.0" r="2.1" fill="#00BF7D"/>
<circle cx="257.8" cy="394.8" r="2.1" fill="#00BF7D"/>
<circle cx="253.7" cy="393.9" r="2.1" fill="#00BF7D"/>
<circle cx="256.7" cy="393.4" r="2.1" fill="#00BF7D"/>
<circle cx="256.7" cy="392.7" r="2.1" fill="#00BF7D"/>
<circle cx="256.9" cy="392.0" r="2.1" fill="#00BF7D"/>
<circle cx="253.1" cy="391.4" r="2.1" fill="#00BF7D"/>
<circle cx="257.3" cy="391.0" r="2.1" fill="#00BF7D"/>
<circle cx="256.2" cy="390.8" r="2.1" fill="#00BF7D"/>
<circle cx="259.0" cy="390.5" r="2.1" fill="#00BF7D"/>
<circle cx="248.3" cy="390.0" r="2.1" fill="#00BF7D"/>
<circle cx="258.5" cy="389.2" r="2.1" fill="#00BF7D"/>
<circle cx="246.7" cy="388.4" r="2.1" fill="#00BF7D"/>
<circle cx="257.0" cy="388.0" r="2.1" fill="#00BF7D"/>
<circle cx="254.6" cy="387.4" r="2.1" fill="#00BF7D"/>
<circle cx="253.4" cy="386.8" r="2.1" fill="#00BF7D"/>
<circle cx="259.7" cy="386.5" r="2.1" fill="#00BF7D"/>
<circle cx="254.4" cy="385.6" r="2.1" fill="#00BF7D"/>
<circle cx="252.3" cy="385.2" r="2.1" fill="#00BF7D"/>
<circle cx="257.3" cy="384.5" r="2.1" fill="#00BF7D"/>
<circle cx="258.5" cy="383.9" r="2.1" fill="#00BF7D"/>
<circle cx="254.9" cy="383.4" r="2.1" fill="#00BF7D"/>
<circle cx="251.8" cy="382.9" r="2.1" fill="#00BF7D"/>
<circle cx="252.8" cy="382.5" r="2.1" fill="#00BF7D"/>
<circle cx="252.8" cy="382.0" r="2.1" fill="#00BF7D"/>
<circle cx="256.4" cy="381.5" r="2.1" fill="#00BF7D"/>
<circle cx="250.6" cy="381.1" r="2.1" fill="#00BF7D"/>
<circle cx="251.9" cy="380.5" r="2.1" fill="#00BF7D"/>
<circle cx="254.2" cy="380.4" r="2.1" fill="#00BF7D"/>
<circle cx="251.8" cy="379.8" r="2.1" fill="#00BF7D"/>
<circle cx="251.0" cy="379.1" r="2.1" fill="#00BF7D"/>
<circle cx="257.3" cy="378.9" r="2.1" fill="#00BF7D"/>
<circle cx="258.2" cy="378.3" r="2.1" fill="#00BF7D"/>
<circle cx="253.4" cy="377.9" r="2.1" fill="#00BF7D"/>
<circle cx="252.6" cy="377.6" r="2.1" fill="#00BF7D"/>
<circle cx="249.1" cy="376.8" r="2.1" fill="#00BF7D"/>
<circle cx="250.7" cy="376.7" r="2.1" fill="#00BF7D"/>
<circle cx="248.6" cy="376.3" r="2.1" fill="#00BF7D"/>
<circle cx="254.4" cy="376.1" r="2.1" fill="#00BF7D"/>
<circle cx="254.5" cy="375.6" r="2.1" fill="#00BF7D"/>
<circle cx="247.8" cy="374.1" r="2.1" fill="#00BF7D"/>
<circle cx="259.1" cy="373.5" r="2.1" fill="#00BF7D"/>
<circle cx="251.0" cy="372.8" r="2.1" fill="#00BF7D"/>
<circle cx="258.1" cy="371.2" r="2.1" fill="#00BF7D"/>
<circle cx="258.0" cy="369.7" r="2.1" fill="#00BF7D"/>
<circle cx="259.6" cy="367.8" r="2.1" fill="#00BF7D"/>
<circle cx="249.4" cy="367.2" r="2.1" fill="#00BF7D"/>
<circle cx="252.4" cy="365.2" r="2.1" fill="#00BF7D"/>
<circle cx="259.0" cy="362.0" r="2.1" fill="#00BF7D"/>
<circle cx="246.8" cy="360.4" r="2.1" fill="#00BF7D"/>
<line x1="281.49" y1="351.90" x2="281.49" y2="372.00" stroke="#00B0F6" stroke-width="1"/>
<line x1="281.49" y1="385.40" x2="281.49" y2="397.30" stroke="#00B0F6" stroke-width="1"/>
<rect x="271.39" y="372.00" width="20.20" height="13.40" fill="#fff" stroke="#00B0F6" stroke-width="1"/>
<line x1="271.39" y1="378.50" x2="291.59" y2="378.50" stroke="#00B0F6" stroke-width="1.4"/>
<circle cx="281.7" cy="397.2" r="2.1" fill="#00B0F6"/>
<circle cx="276.2" cy="393.9" r="2.1" fill="#00B0F6"/>
<circle cx="286.9" cy="392.1" r="2.1" fill="#00B0F6"/>
<circle cx="284.1" cy="389.7" r="2.1" fill="#00B0F6"/>
<circle cx="285.8" cy="388.5" r="2.1" fill="#00B0F6"/>
<circle cx="288.2" cy="387.6" r="2.1" fill="#00B0F6"/>
<circle cx="286.8" cy="386.2" r="2.1" fill="#00B0F6"/>
<circle cx="280.4" cy="385.8" r="2.1" fill="#00B0F6"/>
<circle cx="276.8" cy="385.4" r="2.1" fill="#00B0F6"/>
<circle cx="278.6" cy="384.7" r="2.1" fill="#00B0F6"/>
<circle cx="281.6" cy="384.1" r="2.1" fill="#00B0F6"/>
<circle cx="281.6" cy="383.3" r="2.1" fill="#00B0F6"/>
<circle cx="277.2" cy="382.4" r="2.1" fill="#00B0F6"/>
<circle cx="277.2" cy="381.8" r="2.1" fill="#00B0F6"/>
<circle cx="283.3" cy="380.5" r="2.1" fill="#00B0F6"/>
<circle cx="282.9" cy="379.9" r="2.1" fill="#00B0F6"/>
<circle cx="279.5" cy="379.3" r="2.1" fill="#00B0F6"/>
<circle cx="288.2" cy="378.8" r="2.1" fill="#00B0F6"/>
<circle cx="283.3" cy="377.9" r="2.1" fill="#00B0F6"/>
<circle cx="275.3" cy="377.1" r="2.1" fill="#00B0F6"/>
<circle cx="280.3" cy="376.2" r="2.1" fill="#00B0F6"/>
<circle cx="285.4" cy="375.5" r="2.1" fill="#00B0F6"/>
<circle cx="278.9" cy="374.5" r="2.1" fill="#00B0F6"/>
<circle cx="284.1" cy="373.7" r="2.1" fill="#00B0F6"/>
<circle cx="274.7" cy="373.3" r="2.1" fill="#00B0F6"/>
<circle cx="278.8" cy="372.6" r="2.1" fill="#00B0F6"/>
<circle cx="286.1" cy="371.9" r="2.1" fill="#00B0F6"/>
<circle cx="282.7" cy="370.7" r="2.1" fill="#00B0F6"/>
<circle cx="283.8" cy="370.2" r="2.1" fill="#00B0F6"/>
<circle cx="277.4" cy="368.2" r="2.1" fill="#00B0F6"/>
<circle cx="281.5" cy="365.3" r="2.1" fill="#00B0F6"/>
<circle cx="282.2" cy="364.4" r="2.1" fill="#00B0F6"/>
<circle cx="278.3" cy="361.2" r="2.1" fill="#00B0F6"/>
<circle cx="283.5" cy="355.7" r="2.1" fill="#00B0F6"/>
<circle cx="281.9" cy="352.6" r="2.1" fill="#00B0F6"/>
<line x1="309.57" y1="353.00" x2="309.57" y2="371.80" stroke="#E76BF3" stroke-width="1"/>
<line x1="309.57" y1="384.90" x2="309.57" y2="394.00" stroke="#E76BF3" stroke-width="1"/>
<rect x="299.47" y="371.80" width="20.20" height="13.10" fill="#fff" stroke="#E76BF3" stroke-width="1"/>
<line x1="299.47" y1="378.50" x2="319.67" y2="378.50" stroke="#E76BF3" stroke-width="1.4"/>
<circle cx="315.4" cy="392.3" r="2.1" fill="#E76BF3"/>
<circle cx="314.4" cy="391.4" r="2.1" fill="#E76BF3"/>
<circle cx="307.1" cy="390.2" r="2.1" fill="#E76BF3"/>
<circle cx="315.0" cy="389.2" r="2.1" fill="#E76BF3"/>
<circle cx="313.9" cy="387.9" r="2.1" fill="#E76BF3"/>
<circle cx="306.9" cy="386.4" r="2.1" fill="#E76BF3"/>
<circle cx="311.0" cy="386.1" r="2.1" fill="#E76BF3"/>
<circle cx="315.8" cy="385.4" r="2.1" fill="#E76BF3"/>
<circle cx="309.5" cy="385.0" r="2.1" fill="#E76BF3"/>
<circle cx="315.7" cy="384.3" r="2.1" fill="#E76BF3"/>
<circle cx="306.1" cy="383.4" r="2.1" fill="#E76BF3"/>
<circle cx="308.1" cy="382.8" r="2.1" fill="#E76BF3"/>
<circle cx="312.5" cy="381.9" r="2.1" fill="#E76BF3"/>
<circle cx="305.8" cy="381.7" r="2.1" fill="#E76BF3"/>
<circle cx="307.0" cy="381.1" r="2.1" fill="#E76BF3"/>
<circle cx="314.7" cy="379.8" r="2.1" fill="#E76BF3"/>
<circle cx="309.4" cy="379.4" r="2.1" fill="#E76BF3"/>
<circle cx="313.6" cy="378.3" r="2.1" fill="#E76BF3"/>
<circle cx="306.1" cy="377.8" r="2.1" fill="#E76BF3"/>
<circle cx="305.1" cy="377.2" r="2.1" fill="#E76BF3"/>
<circle cx="307.6" cy="376.4" r="2.1" fill="#E76BF3"/>
<circle cx="305.3" cy="375.7" r="2.1" fill="#E76BF3"/>
<circle cx="316.0" cy="374.4" r="2.1" fill="#E76BF3"/>
<circle cx="306.7" cy="373.8" r="2.1" fill="#E76BF3"/>
<circle cx="310.4" cy="373.3" r="2.1" fill="#E76BF3"/>
<circle cx="304.3" cy="372.4" r="2.1" fill="#E76BF3"/>
<circle cx="310.0" cy="371.8" r="2.1" fill="#E76BF3"/>
<circle cx="308.0" cy="371.5" r="2.1" fill="#E76BF3"/>
<circle cx="308.3" cy="369.3" r="2.1" fill="#E76BF3"/>
<circle cx="303.7" cy="368.2" r="2.1" fill="#E76BF3"/>
<circle cx="304.4" cy="365.2" r="2.1" fill="#E76BF3"/>
<circle cx="314.0" cy="364.1" r="2.1" fill="#E76BF3"/>
<circle cx="307.5" cy="360.8" r="2.1" fill="#E76BF3"/>
<circle cx="306.1" cy="358.9" r="2.1" fill="#E76BF3"/>
<circle cx="305.4" cy="356.4" r="2.1" fill="#E76BF3"/>
</g>
<rect x="180.4" y="275.5" width="146.0" height="211.39999999999998" fill="none" stroke="#8a8a8a" stroke-width="1.3"/>
<line x1="179.8" y1="275.5" x2="327.0" y2="275.5" stroke="#2e2e2e" stroke-width="1.4"/>
<text x="181.70000000000002" y="285.3" style="font-family:'Liberation Sans', sans-serif;font-size:9.35px" fill="#000">Anova, p = 1e-15</text>
<text x="225.33" y="304.80" text-anchor="middle" style="font-family:'Liberation Sans', sans-serif;font-size:8.8px" fill="#000">ns</text>
<text x="253.41" y="303.80" text-anchor="middle" style="font-family:'Liberation Sans', sans-serif;font-size:8.8px" fill="#000">****</text>
<text x="281.49" y="303.80" text-anchor="middle" style="font-family:'Liberation Sans', sans-serif;font-size:8.8px" fill="#000">****</text>
<text x="309.57" y="303.80" text-anchor="middle" style="font-family:'Liberation Sans', sans-serif;font-size:8.8px" fill="#000">****</text>
<rect x="332.1" y="259.6" width="146.0" height="15.899999999999977" fill="#efefef" stroke="#888" stroke-width="1.2"/>
<text x="405.1" y="270.20000000000005" text-anchor="middle" style="font-family:'Liberation Sans', sans-serif;font-size:8.3px" fill="#111">HGF</text>
<rect x="332.1" y="275.5" width="146.0" height="211.39999999999998" fill="#fff"/>
<clipPath id="c21"><rect x="332.1" y="275.5" width="146.0" height="211.39999999999998"/></clipPath>
<g clip-path="url(#c21)">
<line x1="348.95" y1="412.20" x2="348.95" y2="429.50" stroke="#F8766D" stroke-width="1"/>
<line x1="348.95" y1="441.60" x2="348.95" y2="457.60" stroke="#F8766D" stroke-width="1"/>
<rect x="338.85" y="429.50" width="20.20" height="12.10" fill="#fff" stroke="#F8766D" stroke-width="1"/>
<line x1="338.85" y1="435.90" x2="359.05" y2="435.90" stroke="#F8766D" stroke-width="1.4"/>
<circle cx="347.6" cy="457.1" r="2.1" fill="#F8766D"/>
<circle cx="354.5" cy="455.4" r="2.1" fill="#F8766D"/>
<circle cx="352.7" cy="454.1" r="2.1" fill="#F8766D"/>
<circle cx="354.2" cy="451.5" r="2.1" fill="#F8766D"/>
<circle cx="353.9" cy="450.6" r="2.1" fill="#F8766D"/>
<circle cx="343.9" cy="449.4" r="2.1" fill="#F8766D"/>
<circle cx="345.9" cy="447.4" r="2.1" fill="#F8766D"/>
<circle cx="342.6" cy="447.0" r="2.1" fill="#F8766D"/>
<circle cx="351.4" cy="445.7" r="2.1" fill="#F8766D"/>
<circle cx="351.2" cy="444.2" r="2.1" fill="#F8766D"/>
<circle cx="346.9" cy="444.0" r="2.1" fill="#F8766D"/>
<circle cx="347.8" cy="443.0" r="2.1" fill="#F8766D"/>
<circle cx="351.1" cy="442.2" r="2.1" fill="#F8766D"/>
<circle cx="351.7" cy="441.8" r="2.1" fill="#F8766D"/>
<circle cx="345.5" cy="441.7" r="2.1" fill="#F8766D"/>
<circle cx="353.7" cy="441.5" r="2.1" fill="#F8766D"/>
<circle cx="346.9" cy="440.9" r="2.1" fill="#F8766D"/>
<circle cx="350.7" cy="440.7" r="2.1" fill="#F8766D"/>
<circle cx="344.6" cy="440.1" r="2.1" fill="#F8766D"/>
<circle cx="343.7" cy="440.0" r="2.1" fill="#F8766D"/>
<circle cx="354.6" cy="439.3" r="2.1" fill="#F8766D"/>
<circle cx="352.1" cy="439.1" r="2.1" fill="#F8766D"/>
<circle cx="351.8" cy="438.9" r="2.1" fill="#F8766D"/>
<circle cx="342.7" cy="438.4" r="2.1" fill="#F8766D"/>
<circle cx="342.7" cy="438.1" r="2.1" fill="#F8766D"/>
<circle cx="344.4" cy="437.5" r="2.1" fill="#F8766D"/>
<circle cx="344.8" cy="437.3" r="2.1" fill="#F8766D"/>
<circle cx="346.3" cy="436.7" r="2.1" fill="#F8766D"/>
<circle cx="347.3" cy="436.4" r="2.1" fill="#F8766D"/>
<circle cx="342.7" cy="436.1" r="2.1" fill="#F8766D"/>
<circle cx="346.4" cy="435.8" r="2.1" fill="#F8766D"/>
<circle cx="350.8" cy="435.2" r="2.1" fill="#F8766D"/>
<circle cx="344.6" cy="435.0" r="2.1" fill="#F8766D"/>
<circle cx="353.6" cy="434.2" r="2.1" fill="#F8766D"/>
<circle cx="349.9" cy="434.1" r="2.1" fill="#F8766D"/>
<circle cx="351.9" cy="433.5" r="2.1" fill="#F8766D"/>
<circle cx="345.6" cy="433.1" r="2.1" fill="#F8766D"/>
<circle cx="348.1" cy="432.8" r="2.1" fill="#F8766D"/>
<circle cx="351.5" cy="432.2" r="2.1" fill="#F8766D"/>
<circle cx="346.9" cy="431.9" r="2.1" fill="#F8766D"/>
<circle cx="342.2" cy="431.4" r="2.1" fill="#F8766D"/>
<circle cx="353.5" cy="431.0" r="2.1" fill="#F8766D"/>
<circle cx="352.7" cy="430.6" r="2.1" fill="#F8766D"/>
<circle cx="346.0" cy="430.2" r="2.1" fill="#F8766D"/>
<circle cx="342.7" cy="429.9" r="2.1" fill="#F8766D"/>
<circle cx="353.8" cy="429.5" r="2.1" fill="#F8766D"/>
<circle cx="350.4" cy="429.0" r="2.1" fill="#F8766D"/>
<circle cx="342.8" cy="428.8" r="2.1" fill="#F8766D"/>
<circle cx="345.5" cy="427.9" r="2.1" fill="#F8766D"/>
<circle cx="343.7" cy="427.6" r="2.1" fill="#F8766D"/>
<circle cx="352.9" cy="426.3" r="2.1" fill="#F8766D"/>
<circle cx="345.0" cy="425.5" r="2.1" fill="#F8766D"/>
<circle cx="354.6" cy="424.2" r="2.1" fill="#F8766D"/>
<circle cx="352.3" cy="423.2" r="2.1" fill="#F8766D"/>
<circle cx="343.3" cy="422.1" r="2.1" fill="#F8766D"/>
<circle cx="351.6" cy="420.4" r="2.1" fill="#F8766D"/>
<circle cx="347.5" cy="418.9" r="2.1" fill="#F8766D"/>
<circle cx="352.3" cy="417.4" r="2.1" fill="#F8766D"/>
<circle cx="353.4" cy="414.6" r="2.1" fill="#F8766D"/>
<circle cx="346.0" cy="413.6" r="2.1" fill="#F8766D"/>
<circle cx="347.4" cy="395.8" r="2.1" fill="#F8766D"/>
<circle cx="345.3" cy="477.9" r="2.1" fill="#F8766D"/>
<circle cx="348.0" cy="477.9" r="2.1" fill="#F8766D"/>
<circle cx="353.0" cy="477.9" r="2.1" fill="#F8766D"/>
<line x1="377.03" y1="425.70" x2="377.03" y2="436.30" stroke="#A3A500" stroke-width="1"/>
<line x1="377.03" y1="445.90" x2="377.03" y2="454.40" stroke="#A3A500" stroke-width="1"/>
<rect x="366.93" y="436.30" width="20.20" height="9.60" fill="#fff" stroke="#A3A500" stroke-width="1"/>
<line x1="366.93" y1="439.50" x2="387.13" y2="439.50" stroke="#A3A500" stroke-width="1.4"/>
<circle cx="382.3" cy="454.3" r="2.1" fill="#A3A500"/>
<circle cx="372.2" cy="451.8" r="2.1" fill="#A3A500"/>
<circle cx="377.9" cy="451.2" r="2.1" fill="#A3A500"/>
<circle cx="374.8" cy="449.5" r="2.1" fill="#A3A500"/>
<circle cx="381.3" cy="448.8" r="2.1" fill="#A3A500"/>
<circle cx="377.7" cy="447.9" r="2.1" fill="#A3A500"/>
<circle cx="380.6" cy="447.1" r="2.1" fill="#A3A500"/>
<circle cx="372.5" cy="446.6" r="2.1" fill="#A3A500"/>
<circle cx="379.3" cy="446.3" r="2.1" fill="#A3A500"/>
<circle cx="378.4" cy="446.1" r="2.1" fill="#A3A500"/>
<circle cx="376.5" cy="445.5" r="2.1" fill="#A3A500"/>
<circle cx="380.6" cy="445.0" r="2.1" fill="#A3A500"/>
<circle cx="381.5" cy="444.3" r="2.1" fill="#A3A500"/>
<circle cx="371.8" cy="443.4" r="2.1" fill="#A3A500"/>
<circle cx="374.2" cy="443.3" r="2.1" fill="#A3A500"/>
<circle cx="375.1" cy="442.2" r="2.1" fill="#A3A500"/>
<circle cx="373.0" cy="442.0" r="2.1" fill="#A3A500"/>
<circle cx="371.1" cy="441.0" r="2.1" fill="#A3A500"/>
<circle cx="374.1" cy="440.3" r="2.1" fill="#A3A500"/>
<circle cx="372.9" cy="440.0" r="2.1" fill="#A3A500"/>
<circle cx="379.8" cy="439.3" r="2.1" fill="#A3A500"/>
<circle cx="376.3" cy="438.9" r="2.1" fill="#A3A500"/>
<circle cx="371.8" cy="438.7" r="2.1" fill="#A3A500"/>
<circle cx="374.6" cy="438.4" r="2.1" fill="#A3A500"/>
<circle cx="376.6" cy="438.1" r="2.1" fill="#A3A500"/>
<circle cx="375.2" cy="437.9" r="2.1" fill="#A3A500"/>
<circle cx="372.5" cy="437.5" r="2.1" fill="#A3A500"/>
<circle cx="371.2" cy="437.1" r="2.1" fill="#A3A500"/>
<circle cx="370.4" cy="436.9" r="2.1" fill="#A3A500"/>
<circle cx="383.7" cy="436.5" r="2.1" fill="#A3A500"/>
<circle cx="380.4" cy="436.3" r="2.1" fill="#A3A500"/>
<circle cx="371.4" cy="435.8" r="2.1" fill="#A3A500"/>
<circle cx="380.0" cy="435.2" r="2.1" fill="#A3A500"/>
<circle cx="383.6" cy="434.7" r="2.1" fill="#A3A500"/>
<circle cx="377.9" cy="433.8" r="2.1" fill="#A3A500"/>
<circle cx="371.7" cy="432.4" r="2.1" fill="#A3A500"/>
<circle cx="376.9" cy="431.3" r="2.1" fill="#A3A500"/>
<circle cx="376.1" cy="429.1" r="2.1" fill="#A3A500"/>
<circle cx="372.8" cy="428.5" r="2.1" fill="#A3A500"/>
<circle cx="377.6" cy="426.9" r="2.1" fill="#A3A500"/>
<circle cx="380.0" cy="414.0" r="2.1" fill="#A3A500"/>
<circle cx="372.5" cy="466.2" r="2.1" fill="#A3A500"/>
<line x1="405.11" y1="409.70" x2="405.11" y2="424.60" stroke="#00BF7D" stroke-width="1"/>
<line x1="405.11" y1="442.70" x2="405.11" y2="466.20" stroke="#00BF7D" stroke-width="1"/>
<rect x="395.01" y="424.60" width="20.20" height="18.10" fill="#fff" stroke="#00BF7D" stroke-width="1"/>
<line x1="395.01" y1="436.30" x2="415.21" y2="436.30" stroke="#00BF7D" stroke-width="1.4"/>
<circle cx="409.0" cy="466.2" r="2.1" fill="#00BF7D"/>
<circle cx="404.1" cy="460.9" r="2.1" fill="#00BF7D"/>
<circle cx="402.2" cy="459.0" r="2.1" fill="#00BF7D"/>
<circle cx="407.3" cy="456.7" r="2.1" fill="#00BF7D"/>
<circle cx="405.3" cy="453.7" r="2.1" fill="#00BF7D"/>
<circle cx="404.0" cy="452.3" r="2.1" fill="#00BF7D"/>
<circle cx="402.9" cy="451.1" r="2.1" fill="#00BF7D"/>
<circle cx="404.3" cy="449.3" r="2.1" fill="#00BF7D"/>
<circle cx="407.4" cy="447.8" r="2.1" fill="#00BF7D"/>
<circle cx="409.5" cy="446.5" r="2.1" fill="#00BF7D"/>
<circle cx="410.6" cy="444.4" r="2.1" fill="#00BF7D"/>
<circle cx="400.5" cy="443.5" r="2.1" fill="#00BF7D"/>
<circle cx="402.3" cy="443.2" r="2.1" fill="#00BF7D"/>
<circle cx="404.3" cy="442.8" r="2.1" fill="#00BF7D"/>
<circle cx="406.0" cy="442.3" r="2.1" fill="#00BF7D"/>
<circle cx="403.0" cy="441.7" r="2.1" fill="#00BF7D"/>
<circle cx="401.0" cy="441.2" r="2.1" fill="#00BF7D"/>
<circle cx="399.5" cy="441.1" r="2.1" fill="#00BF7D"/>
<circle cx="402.7" cy="440.4" r="2.1" fill="#00BF7D"/>
<circle cx="404.6" cy="439.9" r="2.1" fill="#00BF7D"/>
<circle cx="411.5" cy="439.4" r="2.1" fill="#00BF7D"/>
<circle cx="410.7" cy="439.2" r="2.1" fill="#00BF7D"/>
<circle cx="410.1" cy="438.8" r="2.1" fill="#00BF7D"/>
<circle cx="411.6" cy="438.0" r="2.1" fill="#00BF7D"/>
<circle cx="411.4" cy="437.8" r="2.1" fill="#00BF7D"/>
<circle cx="406.7" cy="437.3" r="2.1" fill="#00BF7D"/>
<circle cx="409.3" cy="436.7" r="2.1" fill="#00BF7D"/>
<circle cx="399.1" cy="436.4" r="2.1" fill="#00BF7D"/>
<circle cx="407.5" cy="435.2" r="2.1" fill="#00BF7D"/>
<circle cx="406.6" cy="434.8" r="2.1" fill="#00BF7D"/>
<circle cx="402.3" cy="434.1" r="2.1" fill="#00BF7D"/>
<circle cx="406.1" cy="432.8" r="2.1" fill="#00BF7D"/>
<circle cx="411.3" cy="431.9" r="2.1" fill="#00BF7D"/>
<circle cx="404.8" cy="430.9" r="2.1" fill="#00BF7D"/>
<circle cx="407.1" cy="430.2" r="2.1" fill="#00BF7D"/>
<circle cx="402.4" cy="429.1" r="2.1" fill="#00BF7D"/>
<circle cx="403.0" cy="428.3" r="2.1" fill="#00BF7D"/>
<circle cx="410.3" cy="427.8" r="2.1" fill="#00BF7D"/>
<circle cx="398.7" cy="426.9" r="2.1" fill="#00BF7D"/>
<circle cx="400.9" cy="426.4" r="2.1" fill="#00BF7D"/>
<circle cx="407.5" cy="425.4" r="2.1" fill="#00BF7D"/>
<circle cx="404.4" cy="424.6" r="2.1" fill="#00BF7D"/>
<circle cx="399.5" cy="424.5" r="2.1" fill="#00BF7D"/>
<circle cx="407.3" cy="423.8" r="2.1" fill="#00BF7D"/>
<circle cx="403.4" cy="423.5" r="2.1" fill="#00BF7D"/>
<circle cx="406.2" cy="422.6" r="2.1" fill="#00BF7D"/>
<circle cx="404.0" cy="421.2" r="2.1" fill="#00BF7D"/>
<circle cx="405.5" cy="421.1" r="2.1" fill="#00BF7D"/>
<circle cx="406.0" cy="420.1" r="2.1" fill="#00BF7D"/>
<circle cx="403.7" cy="418.4" r="2.1" fill="#00BF7D"/>
<circle cx="399.9" cy="417.4" r="2.1" fill="#00BF7D"/>
<circle cx="400.8" cy="415.2" r="2.1" fill="#00BF7D"/>
<circle cx="410.4" cy="414.8" r="2.1" fill="#00BF7D"/>
<circle cx="405.8" cy="411.8" r="2.1" fill="#00BF7D"/>
<circle cx="399.8" cy="410.0" r="2.1" fill="#00BF7D"/>
<line x1="433.19" y1="393.70" x2="433.19" y2="415.00" stroke="#00B0F6" stroke-width="1"/>
<line x1="433.19" y1="430.60" x2="433.19" y2="449.10" stroke="#00B0F6" stroke-width="1"/>
<rect x="423.09" y="415.00" width="20.20" height="15.60" fill="#fff" stroke="#00B0F6" stroke-width="1"/>
<line x1="423.09" y1="421.40" x2="443.29" y2="421.40" stroke="#00B0F6" stroke-width="1.4"/>
<circle cx="426.6" cy="446.1" r="2.1" fill="#00B0F6"/>
<circle cx="434.5" cy="444.8" r="2.1" fill="#00B0F6"/>
<circle cx="429.3" cy="442.2" r="2.1" fill="#00B0F6"/>
<circle cx="430.5" cy="438.3" r="2.1" fill="#00B0F6"/>
<circle cx="436.0" cy="436.6" r="2.1" fill="#00B0F6"/>
<circle cx="432.2" cy="434.1" r="2.1" fill="#00B0F6"/>
<circle cx="438.5" cy="432.4" r="2.1" fill="#00B0F6"/>
<circle cx="434.8" cy="431.5" r="2.1" fill="#00B0F6"/>
<circle cx="438.3" cy="430.6" r="2.1" fill="#00B0F6"/>
<circle cx="434.0" cy="430.2" r="2.1" fill="#00B0F6"/>
<circle cx="438.9" cy="428.7" r="2.1" fill="#00B0F6"/>
<circle cx="438.2" cy="427.6" r="2.1" fill="#00B0F6"/>
<circle cx="428.7" cy="427.1" r="2.1" fill="#00B0F6"/>
<circle cx="436.5" cy="425.7" r="2.1" fill="#00B0F6"/>
<circle cx="431.0" cy="425.0" r="2.1" fill="#00B0F6"/>
<circle cx="436.8" cy="423.6" r="2.1" fill="#00B0F6"/>
<circle cx="435.6" cy="422.1" r="2.1" fill="#00B0F6"/>
<circle cx="437.6" cy="421.4" r="2.1" fill="#00B0F6"/>
<circle cx="428.1" cy="420.5" r="2.1" fill="#00B0F6"/>
<circle cx="431.5" cy="419.7" r="2.1" fill="#00B0F6"/>
<circle cx="436.4" cy="419.5" r="2.1" fill="#00B0F6"/>
<circle cx="439.3" cy="418.1" r="2.1" fill="#00B0F6"/>
<circle cx="436.2" cy="417.6" r="2.1" fill="#00B0F6"/>
<circle cx="427.0" cy="417.3" r="2.1" fill="#00B0F6"/>
<circle cx="434.6" cy="416.0" r="2.1" fill="#00B0F6"/>
<circle cx="427.7" cy="415.6" r="2.1" fill="#00B0F6"/>
<circle cx="433.9" cy="415.1" r="2.1" fill="#00B0F6"/>
<circle cx="437.3" cy="413.7" r="2.1" fill="#00B0F6"/>
<circle cx="427.9" cy="412.8" r="2.1" fill="#00B0F6"/>
<circle cx="439.0" cy="410.5" r="2.1" fill="#00B0F6"/>
<circle cx="435.6" cy="409.6" r="2.1" fill="#00B0F6"/>
<circle cx="429.9" cy="405.2" r="2.1" fill="#00B0F6"/>
<circle cx="429.0" cy="404.4" r="2.1" fill="#00B0F6"/>
<circle cx="432.5" cy="400.5" r="2.1" fill="#00B0F6"/>
<circle cx="437.8" cy="396.2" r="2.1" fill="#00B0F6"/>
<circle cx="430.0" cy="387.7" r="2.1" fill="#00B0F6"/>
<line x1="461.27" y1="384.10" x2="461.27" y2="411.20" stroke="#E76BF3" stroke-width="1"/>
<line x1="461.27" y1="437.00" x2="461.27" y2="452.30" stroke="#E76BF3" stroke-width="1"/>
<rect x="451.17" y="411.20" width="20.20" height="25.80" fill="#fff" stroke="#E76BF3" stroke-width="1"/>
<line x1="451.17" y1="421.80" x2="471.37" y2="421.80" stroke="#E76BF3" stroke-width="1.4"/>
<circle cx="457.4" cy="450.6" r="2.1" fill="#E76BF3"/>
<circle cx="466.6" cy="449.1" r="2.1" fill="#E76BF3"/>
<circle cx="462.5" cy="446.8" r="2.1" fill="#E76BF3"/>
<circle cx="455.1" cy="444.3" r="2.1" fill="#E76BF3"/>
<circle cx="456.8" cy="441.0" r="2.1" fill="#E76BF3"/>
<circle cx="459.4" cy="440.3" r="2.1" fill="#E76BF3"/>
<circle cx="460.8" cy="438.5" r="2.1" fill="#E76BF3"/>
<circle cx="462.3" cy="437.7" r="2.1" fill="#E76BF3"/>
<circle cx="459.7" cy="437.0" r="2.1" fill="#E76BF3"/>
<circle cx="459.3" cy="435.9" r="2.1" fill="#E76BF3"/>
<circle cx="454.6" cy="434.6" r="2.1" fill="#E76BF3"/>
<circle cx="462.3" cy="431.6" r="2.1" fill="#E76BF3"/>
<circle cx="459.0" cy="430.4" r="2.1" fill="#E76BF3"/>
<circle cx="454.7" cy="428.4" r="2.1" fill="#E76BF3"/>
<circle cx="460.7" cy="426.5" r="2.1" fill="#E76BF3"/>
<circle cx="467.9" cy="424.5" r="2.1" fill="#E76BF3"/>
<circle cx="455.1" cy="424.4" r="2.1" fill="#E76BF3"/>
<circle cx="456.5" cy="422.1" r="2.1" fill="#E76BF3"/>
<circle cx="463.6" cy="421.0" r="2.1" fill="#E76BF3"/>
<circle cx="458.2" cy="419.4" r="2.1" fill="#E76BF3"/>
<circle cx="458.2" cy="417.7" r="2.1" fill="#E76BF3"/>
<circle cx="461.3" cy="416.6" r="2.1" fill="#E76BF3"/>
<circle cx="458.0" cy="416.3" r="2.1" fill="#E76BF3"/>
<circle cx="462.2" cy="414.9" r="2.1" fill="#E76BF3"/>
<circle cx="461.7" cy="412.9" r="2.1" fill="#E76BF3"/>
<circle cx="467.5" cy="411.9" r="2.1" fill="#E76BF3"/>
<circle cx="468.0" cy="411.2" r="2.1" fill="#E76BF3"/>
<circle cx="454.9" cy="410.2" r="2.1" fill="#E76BF3"/>
<circle cx="462.1" cy="409.2" r="2.1" fill="#E76BF3"/>
<circle cx="465.0" cy="405.2" r="2.1" fill="#E76BF3"/>
<circle cx="466.3" cy="403.6" r="2.1" fill="#E76BF3"/>
<circle cx="465.0" cy="398.4" r="2.1" fill="#E76BF3"/>
<circle cx="463.1" cy="395.4" r="2.1" fill="#E76BF3"/>
<circle cx="463.1" cy="393.4" r="2.1" fill="#E76BF3"/>
<circle cx="459.4" cy="387.5" r="2.1" fill="#E76BF3"/>
<circle cx="463.1" cy="363.2" r="2.1" fill="#E76BF3"/>
</g>
<rect x="332.1" y="275.5" width="146.0" height="211.39999999999998" fill="none" stroke="#8a8a8a" stroke-width="1.3"/>
<line x1="331.5" y1="275.5" x2="478.70000000000005" y2="275.5" stroke="#2e2e2e" stroke-width="1.4"/>
<text x="333.40000000000003" y="285.3" style="font-family:'Liberation Sans', sans-serif;font-size:9.35px" fill="#000">Anova, p = 1e-10</text>
<text x="377.03" y="304.80" text-anchor="middle" style="font-family:'Liberation Sans', sans-serif;font-size:8.8px" fill="#000">ns</text>
<text x="405.11" y="304.80" text-anchor="middle" style="font-family:'Liberation Sans', sans-serif;font-size:8.8px" fill="#000">ns</text>
<text x="433.19" y="303.80" text-anchor="middle" style="font-family:'Liberation Sans', sans-serif;font-size:8.8px" fill="#000">****</text>
<text x="461.27" y="303.80" text-anchor="middle" style="font-family:'Liberation Sans', sans-serif;font-size:8.8px" fill="#000">***</text>
<rect x="483.6" y="259.6" width="146.0" height="15.899999999999977" fill="#efefef" stroke="#888" stroke-width="1.2"/>
<text x="556.6" y="270.20000000000005" text-anchor="middle" style="font-family:'Liberation Sans', sans-serif;font-size:8.3px" fill="#111">IL10</text>
<rect x="483.6" y="275.5" width="146.0" height="211.39999999999998" fill="#fff"/>
<clipPath id="c31"><rect x="483.6" y="275.5" width="146.0" height="211.39999999999998"/></clipPath>
<g clip-path="url(#c31)">
<line x1="500.45" y1="444.30" x2="500.45" y2="456.70" stroke="#F8766D" stroke-width="1"/>
<line x1="500.45" y1="467.20" x2="500.45" y2="477.80" stroke="#F8766D" stroke-width="1"/>
<rect x="490.35" y="456.70" width="20.20" height="10.50" fill="#fff" stroke="#F8766D" stroke-width="1"/>
<line x1="490.35" y1="461.40" x2="510.55" y2="461.40" stroke="#F8766D" stroke-width="1.4"/>
<circle cx="503.2" cy="477.4" r="2.1" fill="#F8766D"/>
<circle cx="496.6" cy="475.6" r="2.1" fill="#F8766D"/>
<circle cx="499.1" cy="474.3" r="2.1" fill="#F8766D"/>
<circle cx="496.4" cy="473.2" r="2.1" fill="#F8766D"/>
<circle cx="501.8" cy="472.4" r="2.1" fill="#F8766D"/>
<circle cx="505.4" cy="471.8" r="2.1" fill="#F8766D"/>
<circle cx="502.5" cy="470.6" r="2.1" fill="#F8766D"/>
<circle cx="496.3" cy="469.8" r="2.1" fill="#F8766D"/>
<circle cx="503.6" cy="469.3" r="2.1" fill="#F8766D"/>
<circle cx="506.7" cy="468.6" r="2.1" fill="#F8766D"/>
<circle cx="501.8" cy="468.2" r="2.1" fill="#F8766D"/>
<circle cx="494.7" cy="467.7" r="2.1" fill="#F8766D"/>
<circle cx="504.7" cy="467.4" r="2.1" fill="#F8766D"/>
<circle cx="505.6" cy="467.3" r="2.1" fill="#F8766D"/>
<circle cx="498.3" cy="467.0" r="2.1" fill="#F8766D"/>
<circle cx="495.5" cy="466.5" r="2.1" fill="#F8766D"/>
<circle cx="496.2" cy="465.8" r="2.1" fill="#F8766D"/>
<circle cx="501.0" cy="465.6" r="2.1" fill="#F8766D"/>
<circle cx="505.6" cy="465.3" r="2.1" fill="#F8766D"/>
<circle cx="502.4" cy="464.9" r="2.1" fill="#F8766D"/>
<circle cx="506.2" cy="464.5" r="2.1" fill="#F8766D"/>
<circle cx="496.5" cy="464.0" r="2.1" fill="#F8766D"/>
<circle cx="498.1" cy="463.7" r="2.1" fill="#F8766D"/>
<circle cx="503.8" cy="463.3" r="2.1" fill="#F8766D"/>
<circle cx="502.5" cy="462.5" r="2.1" fill="#F8766D"/>
<circle cx="499.2" cy="462.3" r="2.1" fill="#F8766D"/>
<circle cx="502.9" cy="461.8" r="2.1" fill="#F8766D"/>
<circle cx="498.2" cy="461.4" r="2.1" fill="#F8766D"/>
<circle cx="494.4" cy="461.1" r="2.1" fill="#F8766D"/>
<circle cx="499.3" cy="460.8" r="2.1" fill="#F8766D"/>
<circle cx="494.3" cy="460.5" r="2.1" fill="#F8766D"/>
<circle cx="502.2" cy="460.1" r="2.1" fill="#F8766D"/>
<circle cx="498.2" cy="459.8" r="2.1" fill="#F8766D"/>
<circle cx="500.4" cy="459.3" r="2.1" fill="#F8766D"/>
<circle cx="501.8" cy="459.0" r="2.1" fill="#F8766D"/>
<circle cx="497.1" cy="458.5" r="2.1" fill="#F8766D"/>
<circle cx="500.0" cy="458.4" r="2.1" fill="#F8766D"/>
<circle cx="493.8" cy="457.8" r="2.1" fill="#F8766D"/>
<circle cx="506.2" cy="457.6" r="2.1" fill="#F8766D"/>
<circle cx="501.3" cy="457.4" r="2.1" fill="#F8766D"/>
<circle cx="507.1" cy="457.1" r="2.1" fill="#F8766D"/>
<circle cx="494.4" cy="456.7" r="2.1" fill="#F8766D"/>
<circle cx="502.0" cy="456.3" r="2.1" fill="#F8766D"/>
<circle cx="503.5" cy="456.2" r="2.1" fill="#F8766D"/>
<circle cx="498.1" cy="455.5" r="2.1" fill="#F8766D"/>
<circle cx="494.9" cy="455.1" r="2.1" fill="#F8766D"/>
<circle cx="495.8" cy="454.0" r="2.1" fill="#F8766D"/>
<circle cx="495.6" cy="453.8" r="2.1" fill="#F8766D"/>
<circle cx="504.1" cy="452.5" r="2.1" fill="#F8766D"/>
<circle cx="494.9" cy="451.1" r="2.1" fill="#F8766D"/>
<circle cx="504.7" cy="450.6" r="2.1" fill="#F8766D"/>
<circle cx="499.4" cy="449.5" r="2.1" fill="#F8766D"/>
<circle cx="501.0" cy="448.5" r="2.1" fill="#F8766D"/>
<circle cx="501.7" cy="447.0" r="2.1" fill="#F8766D"/>
<circle cx="501.2" cy="445.4" r="2.1" fill="#F8766D"/>
<circle cx="504.7" cy="440.7" r="2.1" fill="#F8766D"/>
<circle cx="502.6" cy="477.8" r="2.1" fill="#F8766D"/>
<circle cx="501.8" cy="477.8" r="2.1" fill="#F8766D"/>
<circle cx="498.1" cy="477.8" r="2.1" fill="#F8766D"/>
<circle cx="503.7" cy="477.8" r="2.1" fill="#F8766D"/>
<circle cx="497.2" cy="477.8" r="2.1" fill="#F8766D"/>
<circle cx="503.3" cy="477.8" r="2.1" fill="#F8766D"/>
<circle cx="504.0" cy="477.8" r="2.1" fill="#F8766D"/>
<circle cx="504.2" cy="477.8" r="2.1" fill="#F8766D"/>
<line x1="528.53" y1="443.30" x2="528.53" y2="452.90" stroke="#A3A500" stroke-width="1"/>
<line x1="528.53" y1="467.20" x2="528.53" y2="477.80" stroke="#A3A500" stroke-width="1"/>
<rect x="518.43" y="452.90" width="20.20" height="14.30" fill="#fff" stroke="#A3A500" stroke-width="1"/>
<line x1="518.43" y1="460.30" x2="538.63" y2="460.30" stroke="#A3A500" stroke-width="1.4"/>
<circle cx="534.0" cy="477.2" r="2.1" fill="#A3A500"/>
<circle cx="523.2" cy="474.8" r="2.1" fill="#A3A500"/>
<circle cx="531.7" cy="473.0" r="2.1" fill="#A3A500"/>
<circle cx="522.6" cy="472.4" r="2.1" fill="#A3A500"/>
<circle cx="530.5" cy="471.3" r="2.1" fill="#A3A500"/>
<circle cx="527.2" cy="469.9" r="2.1" fill="#A3A500"/>
<circle cx="533.5" cy="468.6" r="2.1" fill="#A3A500"/>
<circle cx="522.5" cy="468.5" r="2.1" fill="#A3A500"/>
<circle cx="529.4" cy="467.9" r="2.1" fill="#A3A500"/>
<circle cx="527.3" cy="467.3" r="2.1" fill="#A3A500"/>
<circle cx="534.2" cy="466.7" r="2.1" fill="#A3A500"/>
<circle cx="534.6" cy="466.0" r="2.1" fill="#A3A500"/>
<circle cx="530.3" cy="465.6" r="2.1" fill="#A3A500"/>
<circle cx="524.8" cy="464.4" r="2.1" fill="#A3A500"/>
<circle cx="525.2" cy="464.3" r="2.1" fill="#A3A500"/>
<circle cx="525.3" cy="463.2" r="2.1" fill="#A3A500"/>
<circle cx="527.6" cy="463.0" r="2.1" fill="#A3A500"/>
<circle cx="524.9" cy="462.4" r="2.1" fill="#A3A500"/>
<circle cx="524.5" cy="461.6" r="2.1" fill="#A3A500"/>
<circle cx="532.1" cy="460.9" r="2.1" fill="#A3A500"/>
<circle cx="530.5" cy="459.9" r="2.1" fill="#A3A500"/>
<circle cx="525.8" cy="459.1" r="2.1" fill="#A3A500"/>
<circle cx="535.3" cy="458.7" r="2.1" fill="#A3A500"/>
<circle cx="524.7" cy="457.4" r="2.1" fill="#A3A500"/>
<circle cx="529.5" cy="457.1" r="2.1" fill="#A3A500"/>
<circle cx="523.9" cy="456.5" r="2.1" fill="#A3A500"/>
<circle cx="533.5" cy="455.7" r="2.1" fill="#A3A500"/>
<circle cx="533.6" cy="454.6" r="2.1" fill="#A3A500"/>
<circle cx="525.4" cy="453.7" r="2.1" fill="#A3A500"/>
<circle cx="532.0" cy="453.5" r="2.1" fill="#A3A500"/>
<circle cx="532.9" cy="452.9" r="2.1" fill="#A3A500"/>
<circle cx="525.6" cy="452.4" r="2.1" fill="#A3A500"/>
<circle cx="526.2" cy="452.1" r="2.1" fill="#A3A500"/>
<circle cx="528.3" cy="450.9" r="2.1" fill="#A3A500"/>
<circle cx="533.8" cy="450.4" r="2.1" fill="#A3A500"/>
<circle cx="523.9" cy="449.3" r="2.1" fill="#A3A500"/>
<circle cx="531.0" cy="448.5" r="2.1" fill="#A3A500"/>
<circle cx="529.9" cy="446.6" r="2.1" fill="#A3A500"/>
<circle cx="527.9" cy="445.7" r="2.1" fill="#A3A500"/>
<circle cx="529.6" cy="444.4" r="2.1" fill="#A3A500"/>
<circle cx="530.5" cy="428.4" r="2.1" fill="#A3A500"/>
<circle cx="533.7" cy="477.8" r="2.1" fill="#A3A500"/>
<circle cx="524.6" cy="477.8" r="2.1" fill="#A3A500"/>
<circle cx="533.7" cy="477.8" r="2.1" fill="#A3A500"/>
<circle cx="526.6" cy="477.8" r="2.1" fill="#A3A500"/>
<circle cx="532.3" cy="477.8" r="2.1" fill="#A3A500"/>
<circle cx="533.5" cy="477.8" r="2.1" fill="#A3A500"/>
<line x1="556.61" y1="434.80" x2="556.61" y2="449.20" stroke="#00BF7D" stroke-width="1"/>
<line x1="556.61" y1="459.90" x2="556.61" y2="468.90" stroke="#00BF7D" stroke-width="1"/>
<rect x="546.51" y="449.20" width="20.20" height="10.70" fill="#fff" stroke="#00BF7D" stroke-width="1"/>
<line x1="546.51" y1="455.00" x2="566.71" y2="455.00" stroke="#00BF7D" stroke-width="1.4"/>
<circle cx="550.4" cy="468.7" r="2.1" fill="#00BF7D"/>
<circle cx="556.7" cy="466.9" r="2.1" fill="#00BF7D"/>
<circle cx="555.4" cy="465.8" r="2.1" fill="#00BF7D"/>
<circle cx="557.4" cy="465.5" r="2.1" fill="#00BF7D"/>
<circle cx="554.7" cy="464.9" r="2.1" fill="#00BF7D"/>
<circle cx="550.0" cy="464.0" r="2.1" fill="#00BF7D"/>
<circle cx="559.2" cy="462.6" r="2.1" fill="#00BF7D"/>
<circle cx="558.7" cy="462.6" r="2.1" fill="#00BF7D"/>
<circle cx="557.2" cy="461.4" r="2.1" fill="#00BF7D"/>
<circle cx="557.3" cy="461.3" r="2.1" fill="#00BF7D"/>
<circle cx="559.2" cy="460.6" r="2.1" fill="#00BF7D"/>
<circle cx="563.2" cy="460.4" r="2.1" fill="#00BF7D"/>
<circle cx="561.7" cy="460.1" r="2.1" fill="#00BF7D"/>
<circle cx="559.6" cy="459.9" r="2.1" fill="#00BF7D"/>
<circle cx="555.2" cy="459.8" r="2.1" fill="#00BF7D"/>
<circle cx="554.1" cy="459.3" r="2.1" fill="#00BF7D"/>
<circle cx="555.5" cy="458.8" r="2.1" fill="#00BF7D"/>
<circle cx="563.0" cy="458.5" r="2.1" fill="#00BF7D"/>
<circle cx="555.1" cy="458.1" r="2.1" fill="#00BF7D"/>
<circle cx="555.1" cy="457.7" r="2.1" fill="#00BF7D"/>
<circle cx="555.4" cy="457.7" r="2.1" fill="#00BF7D"/>
<circle cx="551.8" cy="457.2" r="2.1" fill="#00BF7D"/>
<circle cx="563.4" cy="456.7" r="2.1" fill="#00BF7D"/>
<circle cx="549.9" cy="456.4" r="2.1" fill="#00BF7D"/>
<circle cx="558.1" cy="456.2" r="2.1" fill="#00BF7D"/>
<circle cx="562.4" cy="455.7" r="2.1" fill="#00BF7D"/>
<circle cx="553.3" cy="455.5" r="2.1" fill="#00BF7D"/>
<circle cx="558.1" cy="455.0" r="2.1" fill="#00BF7D"/>
<circle cx="554.9" cy="454.7" r="2.1" fill="#00BF7D"/>
<circle cx="553.1" cy="454.4" r="2.1" fill="#00BF7D"/>
<circle cx="552.5" cy="453.5" r="2.1" fill="#00BF7D"/>
<circle cx="551.4" cy="453.4" r="2.1" fill="#00BF7D"/>
<circle cx="561.3" cy="452.7" r="2.1" fill="#00BF7D"/>
<circle cx="560.5" cy="452.6" r="2.1" fill="#00BF7D"/>
<circle cx="562.2" cy="452.1" r="2.1" fill="#00BF7D"/>
<circle cx="550.5" cy="451.8" r="2.1" fill="#00BF7D"/>
<circle cx="559.3" cy="451.2" r="2.1" fill="#00BF7D"/>
<circle cx="554.2" cy="450.9" r="2.1" fill="#00BF7D"/>
<circle cx="558.6" cy="450.3" r="2.1" fill="#00BF7D"/>
<circle cx="557.3" cy="450.1" r="2.1" fill="#00BF7D"/>
<circle cx="554.1" cy="449.4" r="2.1" fill="#00BF7D"/>
<circle cx="563.0" cy="449.2" r="2.1" fill="#00BF7D"/>
<circle cx="549.8" cy="449.1" r="2.1" fill="#00BF7D"/>
<circle cx="560.0" cy="448.6" r="2.1" fill="#00BF7D"/>
<circle cx="561.4" cy="448.0" r="2.1" fill="#00BF7D"/>
<circle cx="556.7" cy="446.9" r="2.1" fill="#00BF7D"/>
<circle cx="557.9" cy="446.5" r="2.1" fill="#00BF7D"/>
<circle cx="563.3" cy="445.7" r="2.1" fill="#00BF7D"/>
<circle cx="553.0" cy="443.8" r="2.1" fill="#00BF7D"/>
<circle cx="558.4" cy="442.7" r="2.1" fill="#00BF7D"/>
<circle cx="559.9" cy="441.5" r="2.1" fill="#00BF7D"/>
<circle cx="555.0" cy="440.8" r="2.1" fill="#00BF7D"/>
<circle cx="559.5" cy="439.5" r="2.1" fill="#00BF7D"/>
<circle cx="555.2" cy="437.8" r="2.1" fill="#00BF7D"/>
<circle cx="557.0" cy="436.4" r="2.1" fill="#00BF7D"/>
<line x1="584.69" y1="427.30" x2="584.69" y2="448.00" stroke="#00B0F6" stroke-width="1"/>
<line x1="584.69" y1="461.40" x2="584.69" y2="477.80" stroke="#00B0F6" stroke-width="1"/>
<rect x="574.59" y="448.00" width="20.20" height="13.40" fill="#fff" stroke="#00B0F6" stroke-width="1"/>
<line x1="574.59" y1="455.00" x2="594.79" y2="455.00" stroke="#00B0F6" stroke-width="1.4"/>
<circle cx="579.3" cy="475.9" r="2.1" fill="#00B0F6"/>
<circle cx="582.7" cy="472.8" r="2.1" fill="#00B0F6"/>
<circle cx="588.8" cy="471.1" r="2.1" fill="#00B0F6"/>
<circle cx="585.0" cy="468.0" r="2.1" fill="#00B0F6"/>
<circle cx="584.0" cy="466.1" r="2.1" fill="#00B0F6"/>
<circle cx="579.1" cy="464.9" r="2.1" fill="#00B0F6"/>
<circle cx="583.3" cy="462.9" r="2.1" fill="#00B0F6"/>
<circle cx="591.4" cy="462.2" r="2.1" fill="#00B0F6"/>
<circle cx="587.3" cy="461.3" r="2.1" fill="#00B0F6"/>
<circle cx="584.0" cy="460.9" r="2.1" fill="#00B0F6"/>
<circle cx="584.4" cy="460.0" r="2.1" fill="#00B0F6"/>
<circle cx="588.7" cy="459.4" r="2.1" fill="#00B0F6"/>
<circle cx="588.2" cy="458.7" r="2.1" fill="#00B0F6"/>
<circle cx="579.9" cy="458.1" r="2.1" fill="#00B0F6"/>
<circle cx="587.1" cy="457.5" r="2.1" fill="#00B0F6"/>
<circle cx="582.9" cy="456.2" r="2.1" fill="#00B0F6"/>
<circle cx="585.0" cy="455.7" r="2.1" fill="#00B0F6"/>
<circle cx="581.1" cy="455.0" r="2.1" fill="#00B0F6"/>
<circle cx="582.9" cy="454.2" r="2.1" fill="#00B0F6"/>
<circle cx="582.5" cy="453.1" r="2.1" fill="#00B0F6"/>
<circle cx="583.1" cy="452.8" r="2.1" fill="#00B0F6"/>
<circle cx="578.1" cy="452.1" r="2.1" fill="#00B0F6"/>
<circle cx="580.6" cy="450.7" r="2.1" fill="#00B0F6"/>
<circle cx="585.6" cy="450.2" r="2.1" fill="#00B0F6"/>
<circle cx="578.7" cy="449.3" r="2.1" fill="#00B0F6"/>
<circle cx="580.3" cy="448.3" r="2.1" fill="#00B0F6"/>
<circle cx="587.7" cy="447.8" r="2.1" fill="#00B0F6"/>
<circle cx="581.6" cy="446.8" r="2.1" fill="#00B0F6"/>
<circle cx="582.3" cy="446.6" r="2.1" fill="#00B0F6"/>
<circle cx="581.2" cy="444.4" r="2.1" fill="#00B0F6"/>
<circle cx="589.2" cy="441.1" r="2.1" fill="#00B0F6"/>
<circle cx="579.1" cy="438.4" r="2.1" fill="#00B0F6"/>
<circle cx="586.5" cy="437.5" r="2.1" fill="#00B0F6"/>
<circle cx="589.6" cy="434.2" r="2.1" fill="#00B0F6"/>
<circle cx="580.6" cy="430.2" r="2.1" fill="#00B0F6"/>
<circle cx="583.6" cy="477.8" r="2.1" fill="#00B0F6"/>
<line x1="612.77" y1="432.60" x2="612.77" y2="446.50" stroke="#E76BF3" stroke-width="1"/>
<line x1="612.77" y1="459.90" x2="612.77" y2="477.80" stroke="#E76BF3" stroke-width="1"/>
<rect x="602.67" y="446.50" width="20.20" height="13.40" fill="#fff" stroke="#E76BF3" stroke-width="1"/>
<line x1="602.67" y1="453.50" x2="622.87" y2="453.50" stroke="#E76BF3" stroke-width="1.4"/>
<circle cx="618.1" cy="475.1" r="2.1" fill="#E76BF3"/>
<circle cx="612.0" cy="472.5" r="2.1" fill="#E76BF3"/>
<circle cx="612.7" cy="470.4" r="2.1" fill="#E76BF3"/>
<circle cx="612.9" cy="468.6" r="2.1" fill="#E76BF3"/>
<circle cx="617.2" cy="465.3" r="2.1" fill="#E76BF3"/>
<circle cx="615.1" cy="463.5" r="2.1" fill="#E76BF3"/>
<circle cx="616.0" cy="461.4" r="2.1" fill="#E76BF3"/>
<circle cx="611.4" cy="460.7" r="2.1" fill="#E76BF3"/>
<circle cx="606.5" cy="460.0" r="2.1" fill="#E76BF3"/>
<circle cx="615.2" cy="459.2" r="2.1" fill="#E76BF3"/>
<circle cx="613.5" cy="458.4" r="2.1" fill="#E76BF3"/>
<circle cx="616.4" cy="458.0" r="2.1" fill="#E76BF3"/>
<circle cx="616.4" cy="457.2" r="2.1" fill="#E76BF3"/>
<circle cx="607.6" cy="456.4" r="2.1" fill="#E76BF3"/>
<circle cx="609.0" cy="455.4" r="2.1" fill="#E76BF3"/>
<circle cx="607.0" cy="455.2" r="2.1" fill="#E76BF3"/>
<circle cx="617.1" cy="453.9" r="2.1" fill="#E76BF3"/>
<circle cx="607.4" cy="453.3" r="2.1" fill="#E76BF3"/>
<circle cx="607.2" cy="452.8" r="2.1" fill="#E76BF3"/>
<circle cx="616.2" cy="451.8" r="2.1" fill="#E76BF3"/>
<circle cx="613.6" cy="451.2" r="2.1" fill="#E76BF3"/>
<circle cx="606.7" cy="450.6" r="2.1" fill="#E76BF3"/>
<circle cx="615.2" cy="449.3" r="2.1" fill="#E76BF3"/>
<circle cx="615.6" cy="448.8" r="2.1" fill="#E76BF3"/>
<circle cx="612.5" cy="447.9" r="2.1" fill="#E76BF3"/>
<circle cx="606.7" cy="447.1" r="2.1" fill="#E76BF3"/>
<circle cx="615.4" cy="446.3" r="2.1" fill="#E76BF3"/>
<circle cx="611.7" cy="445.8" r="2.1" fill="#E76BF3"/>
<circle cx="613.9" cy="445.6" r="2.1" fill="#E76BF3"/>
<circle cx="619.5" cy="443.8" r="2.1" fill="#E76BF3"/>
<circle cx="617.1" cy="442.5" r="2.1" fill="#E76BF3"/>
<circle cx="617.8" cy="440.7" r="2.1" fill="#E76BF3"/>
<circle cx="607.9" cy="437.9" r="2.1" fill="#E76BF3"/>
<circle cx="610.5" cy="436.6" r="2.1" fill="#E76BF3"/>
<circle cx="613.0" cy="434.0" r="2.1" fill="#E76BF3"/>
<circle cx="615.7" cy="404.9" r="2.1" fill="#E76BF3"/>
<circle cx="606.1" cy="477.8" r="2.1" fill="#E76BF3"/>
<circle cx="619.4" cy="477.8" r="2.1" fill="#E76BF3"/>
<circle cx="609.7" cy="477.8" r="2.1" fill="#E76BF3"/>
</g>
<rect x="483.6" y="275.5" width="146.0" height="211.39999999999998" fill="none" stroke="#8a8a8a" stroke-width="1.3"/>
<line x1="483.0" y1="275.5" x2="630.2" y2="275.5" stroke="#2e2e2e" stroke-width="1.4"/>
<text x="484.90000000000003" y="285.3" style="font-family:'Liberation Sans', sans-serif;font-size:9.35px" fill="#000">Anova, p = 2.3e-06</text>
<text x="528.53" y="304.80" text-anchor="middle" style="font-family:'Liberation Sans', sans-serif;font-size:8.8px" fill="#000">ns</text>
<text x="556.61" y="303.80" text-anchor="middle" style="font-family:'Liberation Sans', sans-serif;font-size:8.8px" fill="#000">****</text>
<text x="584.69" y="303.80" text-anchor="middle" style="font-family:'Liberation Sans', sans-serif;font-size:8.8px" fill="#000">**</text>
<text x="612.77" y="303.80" text-anchor="middle" style="font-family:'Liberation Sans', sans-serif;font-size:8.8px" fill="#000">***</text>
<line x1="25.8" y1="253.80" x2="28.5" y2="253.80" stroke="#333" stroke-width="0.9"/>
<text x="23.8" y="257.20" text-anchor="end" style="font-family:'Liberation Sans', sans-serif;font-size:9.5px" fill="#1a1a1a">4</text>
<line x1="25.8" y1="208.90" x2="28.5" y2="208.90" stroke="#333" stroke-width="0.9"/>
<text x="23.8" y="212.30" text-anchor="end" style="font-family:'Liberation Sans', sans-serif;font-size:9.5px" fill="#1a1a1a">6</text>
<line x1="25.8" y1="164.00" x2="28.5" y2="164.00" stroke="#333" stroke-width="0.9"/>
<text x="23.8" y="167.40" text-anchor="end" style="font-family:'Liberation Sans', sans-serif;font-size:9.5px" fill="#1a1a1a">8</text>
<line x1="25.8" y1="119.10" x2="28.5" y2="119.10" stroke="#333" stroke-width="0.9"/>
<text x="23.8" y="122.50" text-anchor="end" style="font-family:'Liberation Sans', sans-serif;font-size:9.5px" fill="#1a1a1a">10</text>
<line x1="25.8" y1="74.20" x2="28.5" y2="74.20" stroke="#333" stroke-width="0.9"/>
<text x="23.8" y="77.60" text-anchor="end" style="font-family:'Liberation Sans', sans-serif;font-size:9.5px" fill="#1a1a1a">12</text>
<line x1="25.8" y1="486.90" x2="28.5" y2="486.90" stroke="#333" stroke-width="0.9"/>
<text x="23.8" y="490.30" text-anchor="end" style="font-family:'Liberation Sans', sans-serif;font-size:9.5px" fill="#1a1a1a">4</text>
<line x1="25.8" y1="442.00" x2="28.5" y2="442.00" stroke="#333" stroke-width="0.9"/>
<text x="23.8" y="445.40" text-anchor="end" style="font-family:'Liberation Sans', sans-serif;font-size:9.5px" fill="#1a1a1a">6</text>
<line x1="25.8" y1="397.10" x2="28.5" y2="397.10" stroke="#333" stroke-width="0.9"/>
<text x="23.8" y="400.50" text-anchor="end" style="font-family:'Liberation Sans', sans-serif;font-size:9.5px" fill="#1a1a1a">8</text>
<line x1="25.8" y1="352.20" x2="28.5" y2="352.20" stroke="#333" stroke-width="0.9"/>
<text x="23.8" y="355.60" text-anchor="end" style="font-family:'Liberation Sans', sans-serif;font-size:9.5px" fill="#1a1a1a">10</text>
<line x1="25.8" y1="307.30" x2="28.5" y2="307.30" stroke="#333" stroke-width="0.9"/>
<text x="23.8" y="310.70" text-anchor="end" style="font-family:'Liberation Sans', sans-serif;font-size:9.5px" fill="#1a1a1a">12</text>
<line x1="348.95" y1="487" x2="348.95" y2="489.8" stroke="#333" stroke-width="0.9"/>
<line x1="377.03" y1="487" x2="377.03" y2="489.8" stroke="#333" stroke-width="0.9"/>
<line x1="405.11" y1="487" x2="405.11" y2="489.8" stroke="#333" stroke-width="0.9"/>
<line x1="433.19" y1="487" x2="433.19" y2="489.8" stroke="#333" stroke-width="0.9"/>
<line x1="461.27" y1="487" x2="461.27" y2="489.8" stroke="#333" stroke-width="0.9"/>
<line x1="500.45" y1="487" x2="500.45" y2="489.8" stroke="#333" stroke-width="0.9"/>
<line x1="528.53" y1="487" x2="528.53" y2="489.8" stroke="#333" stroke-width="0.9"/>
<line x1="556.61" y1="487" x2="556.61" y2="489.8" stroke="#333" stroke-width="0.9"/>
<line x1="584.69" y1="487" x2="584.69" y2="489.8" stroke="#333" stroke-width="0.9"/>
<line x1="612.77" y1="487" x2="612.77" y2="489.8" stroke="#333" stroke-width="0.9"/>
<text transform="translate(7.4,381.4) rotate(-90)" text-anchor="middle" style="font-family:'Liberation Sans', sans-serif;font-size:9.9px" fill="#1a1a1a">Expression</text>
<text x="28" y="541.7" style="font-family:'Liberation Sans', sans-serif;font-weight:bold;font-size:10px" fill="#111">B</text>
<line x1="102.5" y1="571.60" x2="565.4" y2="571.60" stroke="#d4d4d4" stroke-width="1"/>
<line x1="102.5" y1="587.80" x2="565.4" y2="587.80" stroke="#d4d4d4" stroke-width="1"/>
<line x1="102.5" y1="603.99" x2="565.4" y2="603.99" stroke="#d4d4d4" stroke-width="1"/>
<line x1="102.5" y1="620.19" x2="565.4" y2="620.19" stroke="#d4d4d4" stroke-width="1"/>
<line x1="102.5" y1="636.39" x2="565.4" y2="636.39" stroke="#d4d4d4" stroke-width="1"/>
<line x1="102.5" y1="652.59" x2="565.4" y2="652.59" stroke="#d4d4d4" stroke-width="1"/>
<line x1="102.5" y1="668.78" x2="565.4" y2="668.78" stroke="#d4d4d4" stroke-width="1"/>
<line x1="102.5" y1="684.98" x2="565.4" y2="684.98" stroke="#d4d4d4" stroke-width="1"/>
<line x1="102.5" y1="701.18" x2="565.4" y2="701.18" stroke="#d4d4d4" stroke-width="1"/>
<line x1="102.5" y1="717.37" x2="565.4" y2="717.37" stroke="#d4d4d4" stroke-width="1"/>
<line x1="102.5" y1="733.57" x2="565.4" y2="733.57" stroke="#d4d4d4" stroke-width="1"/>
<line x1="102.5" y1="749.77" x2="565.4" y2="749.77" stroke="#d4d4d4" stroke-width="1"/>
<line x1="102.5" y1="765.96" x2="565.4" y2="765.96" stroke="#d4d4d4" stroke-width="1"/>
<line x1="102.5" y1="782.16" x2="565.4" y2="782.16" stroke="#d4d4d4" stroke-width="1"/>
<line x1="102.5" y1="798.36" x2="565.4" y2="798.36" stroke="#d4d4d4" stroke-width="1"/>
<line x1="102.5" y1="814.56" x2="565.4" y2="814.56" stroke="#d4d4d4" stroke-width="1"/>
<line x1="102.5" y1="830.75" x2="565.4" y2="830.75" stroke="#d4d4d4" stroke-width="1"/>
<line x1="102.5" y1="846.95" x2="565.4" y2="846.95" stroke="#d4d4d4" stroke-width="1"/>
<line x1="102.5" y1="863.15" x2="565.4" y2="863.15" stroke="#d4d4d4" stroke-width="1"/>
<line x1="102.5" y1="879.34" x2="565.4" y2="879.34" stroke="#d4d4d4" stroke-width="1"/>
<line x1="102.5" y1="895.54" x2="565.4" y2="895.54" stroke="#d4d4d4" stroke-width="1"/>
<line x1="102.5" y1="911.74" x2="565.4" y2="911.74" stroke="#d4d4d4" stroke-width="1"/>
<line x1="102.5" y1="927.93" x2="565.4" y2="927.93" stroke="#d4d4d4" stroke-width="1"/>
<line x1="102.5" y1="944.13" x2="565.4" y2="944.13" stroke="#d4d4d4" stroke-width="1"/>
<line x1="102.5" y1="960.33" x2="565.4" y2="960.33" stroke="#d4d4d4" stroke-width="1"/>
<line x1="102.5" y1="976.52" x2="565.4" y2="976.52" stroke="#d4d4d4" stroke-width="1"/>
<line x1="102.5" y1="992.72" x2="565.4" y2="992.72" stroke="#d4d4d4" stroke-width="1"/>
<line x1="102.5" y1="1008.92" x2="565.4" y2="1008.92" stroke="#d4d4d4" stroke-width="1"/>
<line x1="102.5" y1="1025.12" x2="565.4" y2="1025.12" stroke="#d4d4d4" stroke-width="1"/>
<line x1="102.5" y1="1041.31" x2="565.4" y2="1041.31" stroke="#d4d4d4" stroke-width="1"/>
<rect x="102.5" y="555.4" width="462.9" height="502.0000000000001" fill="none" stroke="#5a5a5a" stroke-width="1.5"/>
<circle cx="548.2" cy="571.60" r="2.9" fill="#575757" stroke="#222" stroke-width="0.9"/>
<text x="87.8" y="575.00" text-anchor="end" style="font-family:'Liberation Sans', sans-serif;font-size:9.4px" fill="#222">'IL10RA'</text>
<circle cx="493.5" cy="587.80" r="2.9" fill="#575757" stroke="#222" stroke-width="0.9"/>
<text x="87.8" y="591.20" text-anchor="end" style="font-family:'Liberation Sans', sans-serif;font-size:9.4px" fill="#222">'TRIM44'</text>
<circle cx="478.7" cy="603.99" r="2.9" fill="#575757" stroke="#222" stroke-width="0.9"/>
<text x="87.8" y="607.39" text-anchor="end" style="font-family:'Liberation Sans', sans-serif;font-size:9.4px" fill="#222">'PRKCH'</text>
<circle cx="471.5" cy="620.19" r="2.9" fill="#575757" stroke="#222" stroke-width="0.9"/>
<text x="87.8" y="623.59" text-anchor="end" style="font-family:'Liberation Sans', sans-serif;font-size:9.4px" fill="#222">'MAPRE2'</text>
<circle cx="463.6" cy="636.39" r="2.9" fill="#575757" stroke="#222" stroke-width="0.9"/>
<text x="87.8" y="639.79" text-anchor="end" style="font-family:'Liberation Sans', sans-serif;font-size:9.4px" fill="#222">'ARL4C'</text>
<circle cx="333.7" cy="652.59" r="2.9" fill="#575757" stroke="#222" stroke-width="0.9"/>
<text x="87.8" y="655.99" text-anchor="end" style="font-family:'Liberation Sans', sans-serif;font-size:9.4px" fill="#222">'PEA15'</text>
<circle cx="312.7" cy="668.78" r="2.9" fill="#575757" stroke="#222" stroke-width="0.9"/>
<text x="87.8" y="672.18" text-anchor="end" style="font-family:'Liberation Sans', sans-serif;font-size:9.4px" fill="#222">'FYN'</text>
<circle cx="304.3" cy="684.98" r="2.9" fill="#575757" stroke="#222" stroke-width="0.9"/>
<text x="87.8" y="688.38" text-anchor="end" style="font-family:'Liberation Sans', sans-serif;font-size:9.4px" fill="#222">'NFATC2'</text>
<circle cx="297.4" cy="701.18" r="2.9" fill="#575757" stroke="#222" stroke-width="0.9"/>
<text x="87.8" y="704.58" text-anchor="end" style="font-family:'Liberation Sans', sans-serif;font-size:9.4px" fill="#222">'SLC22A4'</text>
<circle cx="290.6" cy="717.37" r="2.9" fill="#575757" stroke="#222" stroke-width="0.9"/>
<text x="87.8" y="720.77" text-anchor="end" style="font-family:'Liberation Sans', sans-serif;font-size:9.4px" fill="#222">'TMEM109'</text>
<circle cx="289.3" cy="733.57" r="2.9" fill="#575757" stroke="#222" stroke-width="0.9"/>
<text x="87.8" y="736.97" text-anchor="end" style="font-family:'Liberation Sans', sans-serif;font-size:9.4px" fill="#222">'RFTN1'</text>
<circle cx="279.3" cy="749.77" r="2.9" fill="#575757" stroke="#222" stroke-width="0.9"/>
<text x="87.8" y="753.17" text-anchor="end" style="font-family:'Liberation Sans', sans-serif;font-size:9.4px" fill="#222">'CD4'</text>
<circle cx="266.7" cy="765.96" r="2.9" fill="#575757" stroke="#222" stroke-width="0.9"/>
<text x="87.8" y="769.36" text-anchor="end" style="font-family:'Liberation Sans', sans-serif;font-size:9.4px" fill="#222">'GATA3'</text>
<circle cx="266.2" cy="782.16" r="2.9" fill="#575757" stroke="#222" stroke-width="0.9"/>
<text x="87.8" y="785.56" text-anchor="end" style="font-family:'Liberation Sans', sans-serif;font-size:9.4px" fill="#222">'RNF125'</text>
<circle cx="260.9" cy="798.36" r="2.9" fill="#575757" stroke="#222" stroke-width="0.9"/>
<text x="87.8" y="801.76" text-anchor="end" style="font-family:'Liberation Sans', sans-serif;font-size:9.4px" fill="#222">'PRKX'</text>
<circle cx="249.9" cy="814.56" r="2.9" fill="#575757" stroke="#222" stroke-width="0.9"/>
<text x="87.8" y="817.96" text-anchor="end" style="font-family:'Liberation Sans', sans-serif;font-size:9.4px" fill="#222">'TSPYL1'</text>
<circle cx="236.1" cy="830.75" r="2.9" fill="#575757" stroke="#222" stroke-width="0.9"/>
<text x="87.8" y="834.15" text-anchor="end" style="font-family:'Liberation Sans', sans-serif;font-size:9.4px" fill="#222">'SMAD3'</text>
<circle cx="226.9" cy="846.95" r="2.9" fill="#575757" stroke="#222" stroke-width="0.9"/>
<text x="87.8" y="850.35" text-anchor="end" style="font-family:'Liberation Sans', sans-serif;font-size:9.4px" fill="#222">'EVL'</text>
<circle cx="208.5" cy="863.15" r="2.9" fill="#575757" stroke="#222" stroke-width="0.9"/>
<text x="87.8" y="866.55" text-anchor="end" style="font-family:'Liberation Sans', sans-serif;font-size:9.4px" fill="#222">'SIDT1'</text>
<circle cx="199.6" cy="879.34" r="2.9" fill="#575757" stroke="#222" stroke-width="0.9"/>
<text x="87.8" y="882.74" text-anchor="end" style="font-family:'Liberation Sans', sans-serif;font-size:9.4px" fill="#222">'PRKCQ'</text>
<circle cx="195.1" cy="895.54" r="2.9" fill="#575757" stroke="#222" stroke-width="0.9"/>
<text x="87.8" y="898.94" text-anchor="end" style="font-family:'Liberation Sans', sans-serif;font-size:9.4px" fill="#222">'ANKRD40'</text>
<circle cx="193.3" cy="911.74" r="2.9" fill="#575757" stroke="#222" stroke-width="0.9"/>
<text x="87.8" y="915.14" text-anchor="end" style="font-family:'Liberation Sans', sans-serif;font-size:9.4px" fill="#222">'RRP1B'</text>
<circle cx="185.9" cy="927.93" r="2.9" fill="#575757" stroke="#222" stroke-width="0.9"/>
<text x="87.8" y="931.33" text-anchor="end" style="font-family:'Liberation Sans', sans-serif;font-size:9.4px" fill="#222">'TMEM11'</text>
<circle cx="182.2" cy="944.13" r="2.9" fill="#575757" stroke="#222" stroke-width="0.9"/>
<text x="87.8" y="947.53" text-anchor="end" style="font-family:'Liberation Sans', sans-serif;font-size:9.4px" fill="#222">'KDM2B'</text>
<circle cx="161.2" cy="960.33" r="2.9" fill="#575757" stroke="#222" stroke-width="0.9"/>
<text x="87.8" y="963.73" text-anchor="end" style="font-family:'Liberation Sans', sans-serif;font-size:9.4px" fill="#222">'TSHZ1'</text>
<circle cx="136.8" cy="976.52" r="2.9" fill="#575757" stroke="#222" stroke-width="0.9"/>
<text x="87.8" y="979.92" text-anchor="end" style="font-family:'Liberation Sans', sans-serif;font-size:9.4px" fill="#222">'TIAM1'</text>
<circle cx="134.6" cy="992.72" r="2.9" fill="#575757" stroke="#222" stroke-width="0.9"/>
<text x="87.8" y="996.12" text-anchor="end" style="font-family:'Liberation Sans', sans-serif;font-size:9.4px" fill="#222">'CX3CR1'</text>
<circle cx="127.3" cy="1008.92" r="2.9" fill="#575757" stroke="#222" stroke-width="0.9"/>
<text x="87.8" y="1012.32" text-anchor="end" style="font-family:'Liberation Sans', sans-serif;font-size:9.4px" fill="#222">'TXN'</text>
<circle cx="126.7" cy="1025.12" r="2.9" fill="#575757" stroke="#222" stroke-width="0.9"/>
<text x="87.8" y="1028.52" text-anchor="end" style="font-family:'Liberation Sans', sans-serif;font-size:9.4px" fill="#222">'CD247'</text>
<circle cx="119.7" cy="1041.31" r="2.9" fill="#575757" stroke="#222" stroke-width="0.9"/>
<text x="87.8" y="1044.71" text-anchor="end" style="font-family:'Liberation Sans', sans-serif;font-size:9.4px" fill="#222">'RASA3'</text>
<line x1="110.50" y1="1057.4" x2="110.50" y2="1065.2" stroke="#444" stroke-width="1.1"/>
<text x="110.50" y="1085.6" text-anchor="middle" style="font-family:'Liberation Sans', sans-serif;font-size:12.1px" fill="#333">0.0</text>
<line x1="217.87" y1="1057.4" x2="217.87" y2="1065.2" stroke="#444" stroke-width="1.1"/>
<text x="217.87" y="1085.6" text-anchor="middle" style="font-family:'Liberation Sans', sans-serif;font-size:12.1px" fill="#333">0.1</text>
<line x1="325.24" y1="1057.4" x2="325.24" y2="1065.2" stroke="#444" stroke-width="1.1"/>
<text x="325.24" y="1085.6" text-anchor="middle" style="font-family:'Liberation Sans', sans-serif;font-size:12.1px" fill="#333">0.2</text>
<line x1="432.61" y1="1057.4" x2="432.61" y2="1065.2" stroke="#444" stroke-width="1.1"/>
<text x="432.61" y="1085.6" text-anchor="middle" style="font-family:'Liberation Sans', sans-serif;font-size:12.1px" fill="#333">0.3</text>
<line x1="539.98" y1="1057.4" x2="539.98" y2="1065.2" stroke="#444" stroke-width="1.1"/>
<text x="539.98" y="1085.6" text-anchor="middle" style="font-family:'Liberation Sans', sans-serif;font-size:12.1px" fill="#333">0.4</text>
<text x="333.9" y="1114.6" text-anchor="middle" style="font-family:'Liberation Sans', sans-serif;font-size:12px" fill="#333">Loadings 1</text>
<rect x="569.10" y="565.00" width="10.60" height="10.8" rx="0.8" fill="#a50026" stroke="#333" stroke-width="1"/>
<rect x="584.10" y="565.00" width="10.60" height="10.8" rx="0.8" fill="#f88b4e" stroke="#333" stroke-width="1"/>
<rect x="600.00" y="565.00" width="10.60" height="10.8" rx="0.8" fill="#f1e8c4" stroke="#333" stroke-width="1"/>
<rect x="616.10" y="565.00" width="10.60" height="10.8" rx="0.8" fill="#7ab4da" stroke="#333" stroke-width="1"/>
<rect x="632.80" y="565.00" width="10.60" height="10.8" rx="0.8" fill="#2e3192" stroke="#333" stroke-width="1"/>
<rect x="569.10" y="581.20" width="10.60" height="10.8" rx="0.8" fill="#a50026" stroke="#333" stroke-width="1"/>
<rect x="584.10" y="581.20" width="10.60" height="10.8" rx="0.8" fill="#f88b4e" stroke="#333" stroke-width="1"/>
<rect x="600.00" y="581.20" width="10.60" height="10.8" rx="0.8" fill="#f1e8c4" stroke="#333" stroke-width="1"/>
<rect x="616.10" y="581.20" width="10.60" height="10.8" rx="0.8" fill="#7ab4da" stroke="#333" stroke-width="1"/>
<rect x="632.80" y="581.20" width="10.60" height="10.8" rx="0.8" fill="#2e3192" stroke="#333" stroke-width="1"/>
<rect x="569.10" y="597.39" width="10.60" height="10.8" rx="0.8" fill="#f88b4e" stroke="#333" stroke-width="1"/>
<rect x="584.10" y="597.39" width="10.60" height="10.8" rx="0.8" fill="#a50026" stroke="#333" stroke-width="1"/>
<rect x="600.00" y="597.39" width="10.60" height="10.8" rx="0.8" fill="#f1e8c4" stroke="#333" stroke-width="1"/>
<rect x="616.10" y="597.39" width="10.60" height="10.8" rx="0.8" fill="#7ab4da" stroke="#333" stroke-width="1"/>
<rect x="632.80" y="597.39" width="10.60" height="10.8" rx="0.8" fill="#2e3192" stroke="#333" stroke-width="1"/>
<rect x="569.10" y="613.59" width="10.60" height="10.8" rx="0.8" fill="#a50026" stroke="#333" stroke-width="1"/>
<rect x="584.10" y="613.59" width="10.60" height="10.8" rx="0.8" fill="#f88b4e" stroke="#333" stroke-width="1"/>
<rect x="600.00" y="613.59" width="10.60" height="10.8" rx="0.8" fill="#f1e8c4" stroke="#333" stroke-width="1"/>
<rect x="616.10" y="613.59" width="10.60" height="10.8" rx="0.8" fill="#7ab4da" stroke="#333" stroke-width="1"/>
<rect x="632.80" y="613.59" width="10.60" height="10.8" rx="0.8" fill="#2e3192" stroke="#333" stroke-width="1"/>
<rect x="569.10" y="629.79" width="10.60" height="10.8" rx="0.8" fill="#f88b4e" stroke="#333" stroke-width="1"/>
<rect x="584.10" y="629.79" width="10.60" height="10.8" rx="0.8" fill="#a50026" stroke="#333" stroke-width="1"/>
<rect x="600.00" y="629.79" width="10.60" height="10.8" rx="0.8" fill="#f1e8c4" stroke="#333" stroke-width="1"/>
<rect x="616.10" y="629.79" width="10.60" height="10.8" rx="0.8" fill="#7ab4da" stroke="#333" stroke-width="1"/>
<rect x="632.80" y="629.79" width="10.60" height="10.8" rx="0.8" fill="#2e3192" stroke="#333" stroke-width="1"/>
<rect x="569.10" y="645.99" width="10.60" height="10.8" rx="0.8" fill="#a50026" stroke="#333" stroke-width="1"/>
<rect x="584.10" y="645.99" width="10.60" height="10.8" rx="0.8" fill="#f88b4e" stroke="#333" stroke-width="1"/>
<rect x="600.00" y="645.99" width="10.60" height="10.8" rx="0.8" fill="#f1e8c4" stroke="#333" stroke-width="1"/>
<rect x="616.10" y="645.99" width="10.60" height="10.8" rx="0.8" fill="#7ab4da" stroke="#333" stroke-width="1"/>
<rect x="632.80" y="645.99" width="10.60" height="10.8" rx="0.8" fill="#2e3192" stroke="#333" stroke-width="1"/>
<rect x="569.10" y="662.18" width="10.60" height="10.8" rx="0.8" fill="#a50026" stroke="#333" stroke-width="1"/>
<rect x="584.10" y="662.18" width="10.60" height="10.8" rx="0.8" fill="#f88b4e" stroke="#333" stroke-width="1"/>
<rect x="600.00" y="662.18" width="10.60" height="10.8" rx="0.8" fill="#f1e8c4" stroke="#333" stroke-width="1"/>
<rect x="616.10" y="662.18" width="10.60" height="10.8" rx="0.8" fill="#7ab4da" stroke="#333" stroke-width="1"/>
<rect x="632.80" y="662.18" width="10.60" height="10.8" rx="0.8" fill="#2e3192" stroke="#333" stroke-width="1"/>
<rect x="569.10" y="678.38" width="10.60" height="10.8" rx="0.8" fill="#a50026" stroke="#333" stroke-width="1"/>
<rect x="584.10" y="678.38" width="10.60" height="10.8" rx="0.8" fill="#f88b4e" stroke="#333" stroke-width="1"/>
<rect x="600.00" y="678.38" width="10.60" height="10.8" rx="0.8" fill="#f1e8c4" stroke="#333" stroke-width="1"/>
<rect x="616.10" y="678.38" width="10.60" height="10.8" rx="0.8" fill="#7ab4da" stroke="#333" stroke-width="1"/>
<rect x="632.80" y="678.38" width="10.60" height="10.8" rx="0.8" fill="#2e3192" stroke="#333" stroke-width="1"/>
<rect x="569.10" y="694.58" width="10.60" height="10.8" rx="0.8" fill="#7ab4da" stroke="#333" stroke-width="1"/>
<rect x="584.10" y="694.58" width="10.60" height="10.8" rx="0.8" fill="#2e3192" stroke="#333" stroke-width="1"/>
<rect x="600.00" y="694.58" width="10.60" height="10.8" rx="0.8" fill="#f1e8c4" stroke="#333" stroke-width="1"/>
<rect x="616.10" y="694.58" width="10.60" height="10.8" rx="0.8" fill="#f88b4e" stroke="#333" stroke-width="1"/>
<rect x="632.80" y="694.58" width="10.60" height="10.8" rx="0.8" fill="#a50026" stroke="#333" stroke-width="1"/>
<rect x="569.10" y="710.77" width="10.60" height="10.8" rx="0.8" fill="#a50026" stroke="#333" stroke-width="1"/>
<rect x="584.10" y="710.77" width="10.60" height="10.8" rx="0.8" fill="#f88b4e" stroke="#333" stroke-width="1"/>
<rect x="600.00" y="710.77" width="10.60" height="10.8" rx="0.8" fill="#f1e8c4" stroke="#333" stroke-width="1"/>
<rect x="616.10" y="710.77" width="10.60" height="10.8" rx="0.8" fill="#7ab4da" stroke="#333" stroke-width="1"/>
<rect x="632.80" y="710.77" width="10.60" height="10.8" rx="0.8" fill="#2e3192" stroke="#333" stroke-width="1"/>
<rect x="569.10" y="726.97" width="10.60" height="10.8" rx="0.8" fill="#a50026" stroke="#333" stroke-width="1"/>
<rect x="584.10" y="726.97" width="10.60" height="10.8" rx="0.8" fill="#f88b4e" stroke="#333" stroke-width="1"/>
<rect x="600.00" y="726.97" width="10.60" height="10.8" rx="0.8" fill="#f1e8c4" stroke="#333" stroke-width="1"/>
<rect x="616.10" y="726.97" width="10.60" height="10.8" rx="0.8" fill="#7ab4da" stroke="#333" stroke-width="1"/>
<rect x="632.80" y="726.97" width="10.60" height="10.8" rx="0.8" fill="#2e3192" stroke="#333" stroke-width="1"/>
<rect x="569.10" y="743.17" width="10.60" height="10.8" rx="0.8" fill="#f88b4e" stroke="#333" stroke-width="1"/>
<rect x="584.10" y="743.17" width="10.60" height="10.8" rx="0.8" fill="#a50026" stroke="#333" stroke-width="1"/>
<rect x="600.00" y="743.17" width="10.60" height="10.8" rx="0.8" fill="#f1e8c4" stroke="#333" stroke-width="1"/>
<rect x="616.10" y="743.17" width="10.60" height="10.8" rx="0.8" fill="#7ab4da" stroke="#333" stroke-width="1"/>
<rect x="632.80" y="743.17" width="10.60" height="10.8" rx="0.8" fill="#2e3192" stroke="#333" stroke-width="1"/>
<rect x="569.10" y="759.36" width="10.60" height="10.8" rx="0.8" fill="#f88b4e" stroke="#333" stroke-width="1"/>
<rect x="584.10" y="759.36" width="10.60" height="10.8" rx="0.8" fill="#a50026" stroke="#333" stroke-width="1"/>
<rect x="600.00" y="759.36" width="10.60" height="10.8" rx="0.8" fill="#f1e8c4" stroke="#333" stroke-width="1"/>
<rect x="616.10" y="759.36" width="10.60" height="10.8" rx="0.8" fill="#7ab4da" stroke="#333" stroke-width="1"/>
<rect x="632.80" y="759.36" width="10.60" height="10.8" rx="0.8" fill="#2e3192" stroke="#333" stroke-width="1"/>
<rect x="569.10" y="775.56" width="10.60" height="10.8" rx="0.8" fill="#a50026" stroke="#333" stroke-width="1"/>
<rect x="584.10" y="775.56" width="10.60" height="10.8" rx="0.8" fill="#f88b4e" stroke="#333" stroke-width="1"/>
<rect x="600.00" y="775.56" width="10.60" height="10.8" rx="0.8" fill="#f1e8c4" stroke="#333" stroke-width="1"/>
<rect x="616.10" y="775.56" width="10.60" height="10.8" rx="0.8" fill="#7ab4da" stroke="#333" stroke-width="1"/>
<rect x="632.80" y="775.56" width="10.60" height="10.8" rx="0.8" fill="#2e3192" stroke="#333" stroke-width="1"/>
<rect x="569.10" y="791.76" width="10.60" height="10.8" rx="0.8" fill="#f88b4e" stroke="#333" stroke-width="1"/>
<rect x="584.10" y="791.76" width="10.60" height="10.8" rx="0.8" fill="#a50026" stroke="#333" stroke-width="1"/>
<rect x="600.00" y="791.76" width="10.60" height="10.8" rx="0.8" fill="#f1e8c4" stroke="#333" stroke-width="1"/>
<rect x="616.10" y="791.76" width="10.60" height="10.8" rx="0.8" fill="#7ab4da" stroke="#333" stroke-width="1"/>
<rect x="632.80" y="791.76" width="10.60" height="10.8" rx="0.8" fill="#2e3192" stroke="#333" stroke-width="1"/>
<rect x="569.10" y="807.96" width="10.60" height="10.8" rx="0.8" fill="#f88b4e" stroke="#333" stroke-width="1"/>
<rect x="584.10" y="807.96" width="10.60" height="10.8" rx="0.8" fill="#a50026" stroke="#333" stroke-width="1"/>
<rect x="600.00" y="807.96" width="10.60" height="10.8" rx="0.8" fill="#f1e8c4" stroke="#333" stroke-width="1"/>
<rect x="616.10" y="807.96" width="10.60" height="10.8" rx="0.8" fill="#7ab4da" stroke="#333" stroke-width="1"/>
<rect x="632.80" y="807.96" width="10.60" height="10.8" rx="0.8" fill="#2e3192" stroke="#333" stroke-width="1"/>
<rect x="569.10" y="824.15" width="10.60" height="10.8" rx="0.8" fill="#f88b4e" stroke="#333" stroke-width="1"/>
<rect x="584.10" y="824.15" width="10.60" height="10.8" rx="0.8" fill="#a50026" stroke="#333" stroke-width="1"/>
<rect x="600.00" y="824.15" width="10.60" height="10.8" rx="0.8" fill="#f1e8c4" stroke="#333" stroke-width="1"/>
<rect x="616.10" y="824.15" width="10.60" height="10.8" rx="0.8" fill="#7ab4da" stroke="#333" stroke-width="1"/>
<rect x="632.80" y="824.15" width="10.60" height="10.8" rx="0.8" fill="#2e3192" stroke="#333" stroke-width="1"/>
<rect x="569.10" y="840.35" width="10.60" height="10.8" rx="0.8" fill="#f88b4e" stroke="#333" stroke-width="1"/>
<rect x="584.10" y="840.35" width="10.60" height="10.8" rx="0.8" fill="#a50026" stroke="#333" stroke-width="1"/>
<rect x="600.00" y="840.35" width="10.60" height="10.8" rx="0.8" fill="#f1e8c4" stroke="#333" stroke-width="1"/>
<rect x="616.10" y="840.35" width="10.60" height="10.8" rx="0.8" fill="#7ab4da" stroke="#333" stroke-width="1"/>
<rect x="632.80" y="840.35" width="10.60" height="10.8" rx="0.8" fill="#2e3192" stroke="#333" stroke-width="1"/>
<rect x="569.10" y="856.55" width="10.60" height="10.8" rx="0.8" fill="#f88b4e" stroke="#333" stroke-width="1"/>
<rect x="584.10" y="856.55" width="10.60" height="10.8" rx="0.8" fill="#a50026" stroke="#333" stroke-width="1"/>
<rect x="600.00" y="856.55" width="10.60" height="10.8" rx="0.8" fill="#f1e8c4" stroke="#333" stroke-width="1"/>
<rect x="616.10" y="856.55" width="10.60" height="10.8" rx="0.8" fill="#7ab4da" stroke="#333" stroke-width="1"/>
<rect x="632.80" y="856.55" width="10.60" height="10.8" rx="0.8" fill="#2e3192" stroke="#333" stroke-width="1"/>
<rect x="569.10" y="872.74" width="10.60" height="10.8" rx="0.8" fill="#f88b4e" stroke="#333" stroke-width="1"/>
<rect x="584.10" y="872.74" width="10.60" height="10.8" rx="0.8" fill="#a50026" stroke="#333" stroke-width="1"/>
<rect x="600.00" y="872.74" width="10.60" height="10.8" rx="0.8" fill="#f1e8c4" stroke="#333" stroke-width="1"/>
<rect x="616.10" y="872.74" width="10.60" height="10.8" rx="0.8" fill="#7ab4da" stroke="#333" stroke-width="1"/>
<rect x="632.80" y="872.74" width="10.60" height="10.8" rx="0.8" fill="#2e3192" stroke="#333" stroke-width="1"/>
<rect x="569.10" y="888.94" width="10.60" height="10.8" rx="0.8" fill="#f88b4e" stroke="#333" stroke-width="1"/>
<rect x="584.10" y="888.94" width="10.60" height="10.8" rx="0.8" fill="#a50026" stroke="#333" stroke-width="1"/>
<rect x="600.00" y="888.94" width="10.60" height="10.8" rx="0.8" fill="#f1e8c4" stroke="#333" stroke-width="1"/>
<rect x="616.10" y="888.94" width="10.60" height="10.8" rx="0.8" fill="#7ab4da" stroke="#333" stroke-width="1"/>
<rect x="632.80" y="888.94" width="10.60" height="10.8" rx="0.8" fill="#2e3192" stroke="#333" stroke-width="1"/>
<rect x="569.10" y="905.14" width="10.60" height="10.8" rx="0.8" fill="#f88b4e" stroke="#333" stroke-width="1"/>
<rect x="584.10" y="905.14" width="10.60" height="10.8" rx="0.8" fill="#a50026" stroke="#333" stroke-width="1"/>
<rect x="600.00" y="905.14" width="10.60" height="10.8" rx="0.8" fill="#f1e8c4" stroke="#333" stroke-width="1"/>
<rect x="616.10" y="905.14" width="10.60" height="10.8" rx="0.8" fill="#7ab4da" stroke="#333" stroke-width="1"/>
<rect x="632.80" y="905.14" width="10.60" height="10.8" rx="0.8" fill="#2e3192" stroke="#333" stroke-width="1"/>
<rect x="569.10" y="921.33" width="10.60" height="10.8" rx="0.8" fill="#7ab4da" stroke="#333" stroke-width="1"/>
<rect x="584.10" y="921.33" width="10.60" height="10.8" rx="0.8" fill="#2e3192" stroke="#333" stroke-width="1"/>
<rect x="600.00" y="921.33" width="10.60" height="10.8" rx="0.8" fill="#f1e8c4" stroke="#333" stroke-width="1"/>
<rect x="616.10" y="921.33" width="10.60" height="10.8" rx="0.8" fill="#f88b4e" stroke="#333" stroke-width="1"/>
<rect x="632.80" y="921.33" width="10.60" height="10.8" rx="0.8" fill="#a50026" stroke="#333" stroke-width="1"/>
<rect x="569.10" y="937.53" width="10.60" height="10.8" rx="0.8" fill="#a50026" stroke="#333" stroke-width="1"/>
<rect x="584.10" y="937.53" width="10.60" height="10.8" rx="0.8" fill="#f88b4e" stroke="#333" stroke-width="1"/>
<rect x="600.00" y="937.53" width="10.60" height="10.8" rx="0.8" fill="#f1e8c4" stroke="#333" stroke-width="1"/>
<rect x="616.10" y="937.53" width="10.60" height="10.8" rx="0.8" fill="#7ab4da" stroke="#333" stroke-width="1"/>
<rect x="632.80" y="937.53" width="10.60" height="10.8" rx="0.8" fill="#2e3192" stroke="#333" stroke-width="1"/>
<rect x="569.10" y="953.73" width="10.60" height="10.8" rx="0.8" fill="#a50026" stroke="#333" stroke-width="1"/>
<rect x="584.10" y="953.73" width="10.60" height="10.8" rx="0.8" fill="#f88b4e" stroke="#333" stroke-width="1"/>
<rect x="600.00" y="953.73" width="10.60" height="10.8" rx="0.8" fill="#f1e8c4" stroke="#333" stroke-width="1"/>
<rect x="616.10" y="953.73" width="10.60" height="10.8" rx="0.8" fill="#7ab4da" stroke="#333" stroke-width="1"/>
<rect x="632.80" y="953.73" width="10.60" height="10.8" rx="0.8" fill="#2e3192" stroke="#333" stroke-width="1"/>
<rect x="569.10" y="969.92" width="10.60" height="10.8" rx="0.8" fill="#f88b4e" stroke="#333" stroke-width="1"/>
<rect x="584.10" y="969.92" width="10.60" height="10.8" rx="0.8" fill="#a50026" stroke="#333" stroke-width="1"/>
<rect x="600.00" y="969.92" width="10.60" height="10.8" rx="0.8" fill="#f1e8c4" stroke="#333" stroke-width="1"/>
<rect x="616.10" y="969.92" width="10.60" height="10.8" rx="0.8" fill="#7ab4da" stroke="#333" stroke-width="1"/>
<rect x="632.80" y="969.92" width="10.60" height="10.8" rx="0.8" fill="#2e3192" stroke="#333" stroke-width="1"/>
<rect x="569.10" y="986.12" width="10.60" height="10.8" rx="0.8" fill="#f88b4e" stroke="#333" stroke-width="1"/>
<rect x="584.10" y="986.12" width="10.60" height="10.8" rx="0.8" fill="#a50026" stroke="#333" stroke-width="1"/>
<rect x="600.00" y="986.12" width="10.60" height="10.8" rx="0.8" fill="#f1e8c4" stroke="#333" stroke-width="1"/>
<rect x="616.10" y="986.12" width="10.60" height="10.8" rx="0.8" fill="#7ab4da" stroke="#333" stroke-width="1"/>
<rect x="632.80" y="986.12" width="10.60" height="10.8" rx="0.8" fill="#2e3192" stroke="#333" stroke-width="1"/>
<rect x="569.10" y="1002.32" width="10.60" height="10.8" rx="0.8" fill="#7ab4da" stroke="#333" stroke-width="1"/>
<rect x="584.10" y="1002.32" width="10.60" height="10.8" rx="0.8" fill="#2e3192" stroke="#333" stroke-width="1"/>
<rect x="600.00" y="1002.32" width="10.60" height="10.8" rx="0.8" fill="#f1e8c4" stroke="#333" stroke-width="1"/>
<rect x="616.10" y="1002.32" width="10.60" height="10.8" rx="0.8" fill="#f88b4e" stroke="#333" stroke-width="1"/>
<rect x="632.80" y="1002.32" width="10.60" height="10.8" rx="0.8" fill="#a50026" stroke="#333" stroke-width="1"/>
<rect x="569.10" y="1018.52" width="10.60" height="10.8" rx="0.8" fill="#f88b4e" stroke="#333" stroke-width="1"/>
<rect x="584.10" y="1018.52" width="10.60" height="10.8" rx="0.8" fill="#a50026" stroke="#333" stroke-width="1"/>
<rect x="600.00" y="1018.52" width="10.60" height="10.8" rx="0.8" fill="#f1e8c4" stroke="#333" stroke-width="1"/>
<rect x="616.10" y="1018.52" width="10.60" height="10.8" rx="0.8" fill="#7ab4da" stroke="#333" stroke-width="1"/>
<rect x="632.80" y="1018.52" width="10.60" height="10.8" rx="0.8" fill="#2e3192" stroke="#333" stroke-width="1"/>
<rect x="569.10" y="1034.71" width="10.60" height="10.8" rx="0.8" fill="#f88b4e" stroke="#333" stroke-width="1"/>
<rect x="584.10" y="1034.71" width="10.60" height="10.8" rx="0.8" fill="#a50026" stroke="#333" stroke-width="1"/>
<rect x="600.00" y="1034.71" width="10.60" height="10.8" rx="0.8" fill="#f1e8c4" stroke="#333" stroke-width="1"/>
<rect x="616.10" y="1034.71" width="10.60" height="10.8" rx="0.8" fill="#7ab4da" stroke="#333" stroke-width="1"/>
<rect x="632.80" y="1034.71" width="10.60" height="10.8" rx="0.8" fill="#2e3192" stroke="#333" stroke-width="1"/>
<text transform="translate(573.90,561.0) rotate(-51.5)" style="font-family:'Liberation Sans', sans-serif;font-weight:bold;font-size:10.1px" fill="#000" stroke="#000" stroke-width="0.45">Asymptomatic</text>
<text transform="translate(588.90,561.0) rotate(-51.5)" style="font-family:'Liberation Sans', sans-serif;font-weight:bold;font-size:10.1px" fill="#000" stroke="#000" stroke-width="0.45">Mild symptomatic</text>
<text transform="translate(604.80,561.0) rotate(-51.5)" style="font-family:'Liberation Sans', sans-serif;font-weight:bold;font-size:10.1px" fill="#000" stroke="#000" stroke-width="0.45">Mild Pneumonia</text>
<text transform="translate(620.90,561.0) rotate(-51.5)" style="font-family:'Liberation Sans', sans-serif;font-weight:bold;font-size:10.1px" fill="#000" stroke="#000" stroke-width="0.45">Severe</text>
<text transform="translate(637.60,561.0) rotate(-51.5)" style="font-family:'Liberation Sans', sans-serif;font-weight:bold;font-size:10.1px" fill="#000" stroke="#000" stroke-width="0.45">Critical</text>
<defs><linearGradient id="rdylbu" x1="0" y1="0" x2="0" y2="1"><stop offset="0.0000" stop-color="#a50026"/><stop offset="0.1111" stop-color="#d73027"/><stop offset="0.2222" stop-color="#f46d43"/><stop offset="0.3333" stop-color="#fdae61"/><stop offset="0.4444" stop-color="#fee090"/><stop offset="0.5556" stop-color="#e0f3f8"/><stop offset="0.6667" stop-color="#abd9e9"/><stop offset="0.7778" stop-color="#74add1"/><stop offset="0.8889" stop-color="#4575b4"/><stop offset="1.0000" stop-color="#313695"/></linearGradient></defs>
<rect x="660" y="712.4" width="8" height="175.4" fill="url(#rdylbu)"/>
<text x="664.5" y="697.1" text-anchor="middle" style="font-family:'Liberation Sans', sans-serif;font-size:10.4px" fill="#333">High</text>
<text x="665.1" y="906.2" text-anchor="middle" style="font-family:'Liberation Sans', sans-serif;font-size:10.6px" fill="#333">Low</text>
</svg></body></html>
